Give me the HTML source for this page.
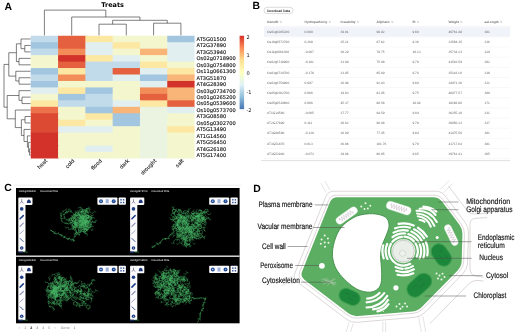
<!DOCTYPE html>
<html><head><meta charset="utf-8"><title>Figure</title>
<style>html,body{margin:0;padding:0;background:#fff;}body{width:520px;height:332px;overflow:hidden}svg{display:block;text-rendering:geometricPrecision}</style>
</head><body>
<svg width="520" height="332" viewBox="0 0 520 332">
<rect width="520" height="332" fill="#fff"/>
<g id="panelA">
<text x="4.5" y="10.2" font-family="Liberation Sans,sans-serif" font-weight="bold" font-size="10.4">A</text>
<text x="112.6" y="7.4" text-anchor="middle" font-family="DejaVu Sans,sans-serif" font-weight="bold" font-size="6.5">Treats</text>
<rect x="30.75" y="35.75" width="28.30" height="7.46" fill="#c2dbea"/>
<rect x="58.05" y="35.75" width="28.30" height="7.46" fill="#e4603e"/>
<rect x="85.35" y="35.75" width="28.30" height="7.46" fill="#fce8a3"/>
<rect x="112.65" y="35.75" width="28.30" height="7.46" fill="#f4f7ce"/>
<rect x="139.95" y="35.75" width="28.30" height="7.46" fill="#f4f7ce"/>
<rect x="167.25" y="35.75" width="27.30" height="7.46" fill="#a3c6e0"/>
<text x="196.6" y="40.83" font-family="DejaVu Sans,sans-serif" font-size="5.1" fill="#111" stroke="#111" stroke-width="0.12">AT5G01500</text>
<rect x="30.75" y="42.21" width="28.30" height="7.46" fill="#a3c6e0"/>
<rect x="58.05" y="42.21" width="28.30" height="7.46" fill="#e4603e"/>
<rect x="85.35" y="42.21" width="28.30" height="7.46" fill="#e1eff0"/>
<rect x="112.65" y="42.21" width="28.30" height="7.46" fill="#fce8a3"/>
<rect x="139.95" y="42.21" width="28.30" height="7.46" fill="#f4f7ce"/>
<rect x="167.25" y="42.21" width="27.30" height="7.46" fill="#e1eff0"/>
<text x="196.6" y="47.29" font-family="DejaVu Sans,sans-serif" font-size="5.1" fill="#111" stroke="#111" stroke-width="0.12">AT2G37890</text>
<rect x="30.75" y="48.67" width="28.30" height="7.46" fill="#c2dbea"/>
<rect x="58.05" y="48.67" width="28.30" height="7.46" fill="#f28d5a"/>
<rect x="85.35" y="48.67" width="28.30" height="7.46" fill="#e1eff0"/>
<rect x="112.65" y="48.67" width="28.30" height="7.46" fill="#f4f7ce"/>
<rect x="139.95" y="48.67" width="28.30" height="7.46" fill="#f9b478"/>
<rect x="167.25" y="48.67" width="27.30" height="7.46" fill="#e1eff0"/>
<text x="196.6" y="53.75" font-family="DejaVu Sans,sans-serif" font-size="5.1" fill="#111" stroke="#111" stroke-width="0.12">AT3G53940</text>
<rect x="30.75" y="55.13" width="28.30" height="7.46" fill="#f4f7ce"/>
<rect x="58.05" y="55.13" width="28.30" height="7.46" fill="#d2322a"/>
<rect x="85.35" y="55.13" width="28.30" height="7.46" fill="#fce8a3"/>
<rect x="112.65" y="55.13" width="28.30" height="7.46" fill="#e1eff0"/>
<rect x="139.95" y="55.13" width="28.30" height="7.46" fill="#f4f7ce"/>
<rect x="167.25" y="55.13" width="27.30" height="7.46" fill="#e1eff0"/>
<text x="196.6" y="60.21" font-family="DejaVu Sans,sans-serif" font-size="5.1" fill="#111" stroke="#111" stroke-width="0.12">Os02g0718900</text>
<rect x="30.75" y="61.59" width="28.30" height="7.46" fill="#f4f7ce"/>
<rect x="58.05" y="61.59" width="28.30" height="7.46" fill="#e4603e"/>
<rect x="85.35" y="61.59" width="28.30" height="7.46" fill="#c2dbea"/>
<rect x="112.65" y="61.59" width="28.30" height="7.46" fill="#c2dbea"/>
<rect x="139.95" y="61.59" width="28.30" height="7.46" fill="#fce8a3"/>
<rect x="167.25" y="61.59" width="27.30" height="7.46" fill="#f4f7ce"/>
<text x="196.6" y="66.67" font-family="DejaVu Sans,sans-serif" font-size="5.1" fill="#111" stroke="#111" stroke-width="0.12">Os03g0754800</text>
<rect x="30.75" y="68.05" width="28.30" height="7.46" fill="#a3c6e0"/>
<rect x="58.05" y="68.05" width="28.30" height="7.46" fill="#fce8a3"/>
<rect x="85.35" y="68.05" width="28.30" height="7.46" fill="#c2dbea"/>
<rect x="112.65" y="68.05" width="28.30" height="7.46" fill="#e4603e"/>
<rect x="139.95" y="68.05" width="28.30" height="7.46" fill="#e1eff0"/>
<rect x="167.25" y="68.05" width="27.30" height="7.46" fill="#fce8a3"/>
<text x="196.6" y="73.13" font-family="DejaVu Sans,sans-serif" font-size="5.1" fill="#111" stroke="#111" stroke-width="0.12">Os11g0661300</text>
<rect x="30.75" y="74.51" width="28.30" height="7.46" fill="#c2dbea"/>
<rect x="58.05" y="74.51" width="28.30" height="7.46" fill="#f28d5a"/>
<rect x="85.35" y="74.51" width="28.30" height="7.46" fill="#c2dbea"/>
<rect x="112.65" y="74.51" width="28.30" height="7.46" fill="#e1eff0"/>
<rect x="139.95" y="74.51" width="28.30" height="7.46" fill="#a3c6e0"/>
<rect x="167.25" y="74.51" width="27.30" height="7.46" fill="#f9b478"/>
<text x="196.6" y="79.59" font-family="DejaVu Sans,sans-serif" font-size="5.1" fill="#111" stroke="#111" stroke-width="0.12">AT3G51870</text>
<rect x="30.75" y="80.97" width="28.30" height="7.46" fill="#a3c6e0"/>
<rect x="58.05" y="80.97" width="28.30" height="7.46" fill="#f4f7ce"/>
<rect x="85.35" y="80.97" width="28.30" height="7.46" fill="#f4f7ce"/>
<rect x="112.65" y="80.97" width="28.30" height="7.46" fill="#f4f7ce"/>
<rect x="139.95" y="80.97" width="28.30" height="7.46" fill="#e1eff0"/>
<rect x="167.25" y="80.97" width="27.30" height="7.46" fill="#d2322a"/>
<text x="196.6" y="86.05" font-family="DejaVu Sans,sans-serif" font-size="5.1" fill="#111" stroke="#111" stroke-width="0.12">AT4G28390</text>
<rect x="30.75" y="87.43" width="28.30" height="7.46" fill="#e1eff0"/>
<rect x="58.05" y="87.43" width="28.30" height="7.46" fill="#fce8a3"/>
<rect x="85.35" y="87.43" width="28.30" height="7.46" fill="#a3c6e0"/>
<rect x="112.65" y="87.43" width="28.30" height="7.46" fill="#f4f7ce"/>
<rect x="139.95" y="87.43" width="28.30" height="7.46" fill="#f28d5a"/>
<rect x="167.25" y="87.43" width="27.30" height="7.46" fill="#f9b478"/>
<text x="196.6" y="92.51" font-family="DejaVu Sans,sans-serif" font-size="5.1" fill="#111" stroke="#111" stroke-width="0.12">Os03g0734700</text>
<rect x="30.75" y="93.89" width="28.30" height="7.46" fill="#f4f7ce"/>
<rect x="58.05" y="93.89" width="28.30" height="7.46" fill="#a3c6e0"/>
<rect x="85.35" y="93.89" width="28.30" height="7.46" fill="#c2dbea"/>
<rect x="112.65" y="93.89" width="28.30" height="7.46" fill="#f4f7ce"/>
<rect x="139.95" y="93.89" width="28.30" height="7.46" fill="#e4603e"/>
<rect x="167.25" y="93.89" width="27.30" height="7.46" fill="#f9b478"/>
<text x="196.6" y="98.97" font-family="DejaVu Sans,sans-serif" font-size="5.1" fill="#111" stroke="#111" stroke-width="0.12">Os01g0265200</text>
<rect x="30.75" y="100.35" width="28.30" height="7.46" fill="#fce8a3"/>
<rect x="58.05" y="100.35" width="28.30" height="7.46" fill="#c2dbea"/>
<rect x="85.35" y="100.35" width="28.30" height="7.46" fill="#c2dbea"/>
<rect x="112.65" y="100.35" width="28.30" height="7.46" fill="#e1eff0"/>
<rect x="139.95" y="100.35" width="28.30" height="7.46" fill="#fce8a3"/>
<rect x="167.25" y="100.35" width="27.30" height="7.46" fill="#e4603e"/>
<text x="196.6" y="105.43" font-family="DejaVu Sans,sans-serif" font-size="5.1" fill="#111" stroke="#111" stroke-width="0.12">Os05g0539600</text>
<rect x="30.75" y="106.81" width="28.30" height="7.46" fill="#ec7049"/>
<rect x="58.05" y="106.81" width="28.30" height="7.46" fill="#f4f7ce"/>
<rect x="85.35" y="106.81" width="28.30" height="7.46" fill="#a3c6e0"/>
<rect x="112.65" y="106.81" width="28.30" height="7.46" fill="#f9b478"/>
<rect x="139.95" y="106.81" width="28.30" height="7.46" fill="#ebf4e0"/>
<rect x="167.25" y="106.81" width="27.30" height="7.46" fill="#e1eff0"/>
<text x="196.6" y="111.89" font-family="DejaVu Sans,sans-serif" font-size="5.1" fill="#111" stroke="#111" stroke-width="0.12">Os10g0573700</text>
<rect x="30.75" y="113.27" width="28.30" height="7.46" fill="#dc4a33"/>
<rect x="58.05" y="113.27" width="28.30" height="7.46" fill="#f4f7ce"/>
<rect x="85.35" y="113.27" width="28.30" height="7.46" fill="#fce8a3"/>
<rect x="112.65" y="113.27" width="28.30" height="7.46" fill="#a3c6e0"/>
<rect x="139.95" y="113.27" width="28.30" height="7.46" fill="#ebf4e0"/>
<rect x="167.25" y="113.27" width="27.30" height="7.46" fill="#f4f7ce"/>
<text x="196.6" y="118.35" font-family="DejaVu Sans,sans-serif" font-size="5.1" fill="#111" stroke="#111" stroke-width="0.12">AT3G08580</text>
<rect x="30.75" y="119.73" width="28.30" height="7.46" fill="#dc4a33"/>
<rect x="58.05" y="119.73" width="28.30" height="7.46" fill="#fce8a3"/>
<rect x="85.35" y="119.73" width="28.30" height="7.46" fill="#f4f7ce"/>
<rect x="112.65" y="119.73" width="28.30" height="7.46" fill="#a3c6e0"/>
<rect x="139.95" y="119.73" width="28.30" height="7.46" fill="#ebf4e0"/>
<rect x="167.25" y="119.73" width="27.30" height="7.46" fill="#f4f7ce"/>
<text x="196.6" y="124.81" font-family="DejaVu Sans,sans-serif" font-size="5.1" fill="#111" stroke="#111" stroke-width="0.12">Os05g0302700</text>
<rect x="30.75" y="126.19" width="28.30" height="7.46" fill="#dc4a33"/>
<rect x="58.05" y="126.19" width="28.30" height="7.46" fill="#e1eff0"/>
<rect x="85.35" y="126.19" width="28.30" height="7.46" fill="#e1eff0"/>
<rect x="112.65" y="126.19" width="28.30" height="7.46" fill="#f4f7ce"/>
<rect x="139.95" y="126.19" width="28.30" height="7.46" fill="#ebf4e0"/>
<rect x="167.25" y="126.19" width="27.30" height="7.46" fill="#fce8a3"/>
<text x="196.6" y="131.27" font-family="DejaVu Sans,sans-serif" font-size="5.1" fill="#111" stroke="#111" stroke-width="0.12">AT5G13490</text>
<rect x="30.75" y="132.65" width="28.30" height="7.46" fill="#d2322a"/>
<rect x="58.05" y="132.65" width="28.30" height="7.46" fill="#f4f7ce"/>
<rect x="85.35" y="132.65" width="28.30" height="7.46" fill="#f4f7ce"/>
<rect x="112.65" y="132.65" width="28.30" height="7.46" fill="#f4f7ce"/>
<rect x="139.95" y="132.65" width="28.30" height="7.46" fill="#ebf4e0"/>
<rect x="167.25" y="132.65" width="27.30" height="7.46" fill="#f4f7ce"/>
<text x="196.6" y="137.73" font-family="DejaVu Sans,sans-serif" font-size="5.1" fill="#111" stroke="#111" stroke-width="0.12">AT1G14560</text>
<rect x="30.75" y="139.11" width="28.30" height="7.46" fill="#d2322a"/>
<rect x="58.05" y="139.11" width="28.30" height="7.46" fill="#f4f7ce"/>
<rect x="85.35" y="139.11" width="28.30" height="7.46" fill="#f4f7ce"/>
<rect x="112.65" y="139.11" width="28.30" height="7.46" fill="#f4f7ce"/>
<rect x="139.95" y="139.11" width="28.30" height="7.46" fill="#ebf4e0"/>
<rect x="167.25" y="139.11" width="27.30" height="7.46" fill="#f4f7ce"/>
<text x="196.6" y="144.19" font-family="DejaVu Sans,sans-serif" font-size="5.1" fill="#111" stroke="#111" stroke-width="0.12">AT5G56450</text>
<rect x="30.75" y="145.57" width="28.30" height="7.46" fill="#d2322a"/>
<rect x="58.05" y="145.57" width="28.30" height="7.46" fill="#f4f7ce"/>
<rect x="85.35" y="145.57" width="28.30" height="7.46" fill="#e1eff0"/>
<rect x="112.65" y="145.57" width="28.30" height="7.46" fill="#f4f7ce"/>
<rect x="139.95" y="145.57" width="28.30" height="7.46" fill="#ebf4e0"/>
<rect x="167.25" y="145.57" width="27.30" height="7.46" fill="#f4f7ce"/>
<text x="196.6" y="150.65" font-family="DejaVu Sans,sans-serif" font-size="5.1" fill="#111" stroke="#111" stroke-width="0.12">AT4G26180</text>
<rect x="30.75" y="152.03" width="28.30" height="6.46" fill="#d2322a"/>
<rect x="58.05" y="152.03" width="28.30" height="6.46" fill="#f4f7ce"/>
<rect x="85.35" y="152.03" width="28.30" height="6.46" fill="#f4f7ce"/>
<rect x="112.65" y="152.03" width="28.30" height="6.46" fill="#f4f7ce"/>
<rect x="139.95" y="152.03" width="28.30" height="6.46" fill="#ebf4e0"/>
<rect x="167.25" y="152.03" width="27.30" height="6.46" fill="#f4f7ce"/>
<text x="196.6" y="157.11" font-family="DejaVu Sans,sans-serif" font-size="5.1" fill="#111" stroke="#111" stroke-width="0.12">AT5G17400</text>
<text transform="translate(47.60,161.2) rotate(-45)" text-anchor="end" font-family="DejaVu Sans,sans-serif" font-size="5.1" fill="#111" stroke="#111" stroke-width="0.1">heat</text>
<text transform="translate(74.90,161.2) rotate(-45)" text-anchor="end" font-family="DejaVu Sans,sans-serif" font-size="5.1" fill="#111" stroke="#111" stroke-width="0.1">cold</text>
<text transform="translate(102.20,161.2) rotate(-45)" text-anchor="end" font-family="DejaVu Sans,sans-serif" font-size="5.1" fill="#111" stroke="#111" stroke-width="0.1">flood</text>
<text transform="translate(129.50,161.2) rotate(-45)" text-anchor="end" font-family="DejaVu Sans,sans-serif" font-size="5.1" fill="#111" stroke="#111" stroke-width="0.1">dark</text>
<text transform="translate(156.80,161.2) rotate(-45)" text-anchor="end" font-family="DejaVu Sans,sans-serif" font-size="5.1" fill="#111" stroke="#111" stroke-width="0.1">drought</text>
<text transform="translate(184.10,161.2) rotate(-45)" text-anchor="end" font-family="DejaVu Sans,sans-serif" font-size="5.1" fill="#111" stroke="#111" stroke-width="0.1">salt</text>
<path d="M99.00,35.40V24.20H126.30V35.40M153.60,35.40V23.20H180.90V35.40M112.65,24.20V20.30H167.25V23.20M71.70,35.40V17.00H139.95V20.30M44.40,35.40V10.10H105.82V17.00M30.60,45.44H24.80V51.90H30.60M30.60,38.98H21.00V48.67H24.80M30.60,58.36H19.00V64.82H30.60M21.00,43.83H16.40V61.59H19.00M30.60,77.74H19.00V84.20H30.60M30.60,71.28H15.80V80.97H19.00M16.40,52.71H8.80V76.12H15.80M30.60,97.12H22.00V103.58H30.60M30.60,90.66H19.00V100.35H22.00M30.60,148.80H29.60V155.26H30.60M30.60,142.34H28.60V152.03H29.60M30.60,135.88H27.40V147.19H28.60M30.60,129.42H24.00V141.53H27.40M30.60,116.50H25.00V122.96H30.60M25.00,119.73H21.40V135.48H24.00M30.60,110.04H15.30V127.60H21.40M19.00,95.50H7.20V118.82H15.30M8.80,64.42H4.00V107.16H7.20" fill="none" stroke="#2a2a2a" stroke-width="0.6"/>
<defs><linearGradient id="cb" x1="0" y1="0" x2="0" y2="1"><stop offset="0" stop-color="#d73027"/><stop offset="0.167" stop-color="#fc8d59"/><stop offset="0.333" stop-color="#fee090"/><stop offset="0.5" stop-color="#ffffbf"/><stop offset="0.667" stop-color="#e0f3f8"/><stop offset="0.833" stop-color="#91bfdb"/><stop offset="1" stop-color="#4575b4"/></linearGradient></defs>
<rect x="239.6" y="35.75" width="4.5" height="73.4" fill="url(#cb)"/>
<text x="246.4" y="38.7" font-family="DejaVu Sans,sans-serif" font-size="5" fill="#111">2</text>
<text x="246.4" y="56.9" font-family="DejaVu Sans,sans-serif" font-size="5" fill="#111">1</text>
<text x="246.4" y="75.2" font-family="DejaVu Sans,sans-serif" font-size="5" fill="#111">0</text>
<text x="246.4" y="93.5" font-family="DejaVu Sans,sans-serif" font-size="5" fill="#111">-1</text>
<text x="246.4" y="111.6" font-family="DejaVu Sans,sans-serif" font-size="5" fill="#111">-2</text>
</g>
<g id="panelB">
<text x="252.6" y="8.7" font-family="Liberation Sans,sans-serif" font-weight="bold" font-size="10.4">B</text>
<rect x="264" y="7.3" width="29" height="6.3" rx="3.15" fill="#fff" stroke="#bdbdbd" stroke-width="0.55"/>
<text x="278.5" y="11.6" text-anchor="middle" font-family="Liberation Sans,sans-serif" font-size="3.4" fill="#2a2a2a" stroke="#2a2a2a" stroke-width="0.08">Download Data</text>
<rect x="264" y="27.23" width="246" height="9.35" fill="#f0f3f9"/>
<text x="267" y="22.5" font-family="Liberation Sans,sans-serif" font-size="3.25" font-weight="bold" fill="#777">GeneID <tspan fill="#bbb" font-weight="normal">⇅</tspan></text>
<text x="304.6" y="22.5" font-family="Liberation Sans,sans-serif" font-size="3.25" font-weight="bold" fill="#777">Hydropathicity <tspan fill="#bbb" font-weight="normal">⇅</tspan></text>
<text x="340.5" y="22.5" font-family="Liberation Sans,sans-serif" font-size="3.25" font-weight="bold" fill="#777">Instability <tspan fill="#bbb" font-weight="normal">⇅</tspan></text>
<text x="376.4" y="22.5" font-family="Liberation Sans,sans-serif" font-size="3.25" font-weight="bold" fill="#777">Aliphatic <tspan fill="#bbb" font-weight="normal">⇅</tspan></text>
<text x="412.4" y="22.5" font-family="Liberation Sans,sans-serif" font-size="3.25" font-weight="bold" fill="#777">PI <tspan fill="#bbb" font-weight="normal">⇅</tspan></text>
<text x="448.4" y="22.5" font-family="Liberation Sans,sans-serif" font-size="3.25" font-weight="bold" fill="#777">Weight <tspan fill="#bbb" font-weight="normal">⇅</tspan></text>
<text x="484.4" y="22.5" font-family="Liberation Sans,sans-serif" font-size="3.25" font-weight="bold" fill="#777">aaLength <tspan fill="#bbb" font-weight="normal">⇅</tspan></text>
<line x1="264" x2="510" y1="26.4" y2="26.4" stroke="#ececec" stroke-width="0.5"/>
<text x="267" y="32.95" font-family="Liberation Sans,sans-serif" font-size="3.25" fill="#6a6a6a">Os01g0265200</text>
<text x="304.6" y="32.95" font-family="Liberation Sans,sans-serif" font-size="3.25" fill="#6a6a6a">0.000</text>
<text x="340.5" y="32.95" font-family="Liberation Sans,sans-serif" font-size="3.25" fill="#6a6a6a">39.81</text>
<text x="376.4" y="32.95" font-family="Liberation Sans,sans-serif" font-size="3.25" fill="#6a6a6a">90.92</text>
<text x="412.4" y="32.95" font-family="Liberation Sans,sans-serif" font-size="3.25" fill="#6a6a6a">9.60</text>
<text x="448.4" y="32.95" font-family="Liberation Sans,sans-serif" font-size="3.25" fill="#6a6a6a">40761.48</text>
<text x="484.4" y="32.95" font-family="Liberation Sans,sans-serif" font-size="3.25" fill="#6a6a6a">381</text>
<line x1="264" x2="510" y1="36.88" y2="36.88" stroke="#f0f0f0" stroke-width="0.5"/>
<text x="267" y="43.10" font-family="Liberation Sans,sans-serif" font-size="3.25" fill="#6a6a6a">Os10g0573700</text>
<text x="304.6" y="43.10" font-family="Liberation Sans,sans-serif" font-size="3.25" fill="#6a6a6a">0.268</text>
<text x="340.5" y="43.10" font-family="Liberation Sans,sans-serif" font-size="3.25" fill="#6a6a6a">35.21</text>
<text x="376.4" y="43.10" font-family="Liberation Sans,sans-serif" font-size="3.25" fill="#6a6a6a">87.82</text>
<text x="412.4" y="43.10" font-family="Liberation Sans,sans-serif" font-size="3.25" fill="#6a6a6a">9.36</text>
<text x="448.4" y="43.10" font-family="Liberation Sans,sans-serif" font-size="3.25" fill="#6a6a6a">31584.35</text>
<text x="484.4" y="43.10" font-family="Liberation Sans,sans-serif" font-size="3.25" fill="#6a6a6a">316</text>
<line x1="264" x2="510" y1="47.03" y2="47.03" stroke="#f0f0f0" stroke-width="0.5"/>
<text x="267" y="53.25" font-family="Liberation Sans,sans-serif" font-size="3.25" fill="#6a6a6a">Os11g0661300</text>
<text x="304.6" y="53.25" font-family="Liberation Sans,sans-serif" font-size="3.25" fill="#6a6a6a">-0.067</text>
<text x="340.5" y="53.25" font-family="Liberation Sans,sans-serif" font-size="3.25" fill="#6a6a6a">30.29</text>
<text x="376.4" y="53.25" font-family="Liberation Sans,sans-serif" font-size="3.25" fill="#6a6a6a">78.75</text>
<text x="412.4" y="53.25" font-family="Liberation Sans,sans-serif" font-size="3.25" fill="#6a6a6a">10.13</text>
<text x="448.4" y="53.25" font-family="Liberation Sans,sans-serif" font-size="3.25" fill="#6a6a6a">35734.23</text>
<text x="484.4" y="53.25" font-family="Liberation Sans,sans-serif" font-size="3.25" fill="#6a6a6a">329</text>
<line x1="264" x2="510" y1="57.18" y2="57.18" stroke="#f0f0f0" stroke-width="0.5"/>
<text x="267" y="63.40" font-family="Liberation Sans,sans-serif" font-size="3.25" fill="#6a6a6a">Os02g0718900</text>
<text x="304.6" y="63.40" font-family="Liberation Sans,sans-serif" font-size="3.25" fill="#6a6a6a">-0.101</text>
<text x="340.5" y="63.40" font-family="Liberation Sans,sans-serif" font-size="3.25" fill="#6a6a6a">31.09</text>
<text x="376.4" y="63.40" font-family="Liberation Sans,sans-serif" font-size="3.25" fill="#6a6a6a">75.08</text>
<text x="412.4" y="63.40" font-family="Liberation Sans,sans-serif" font-size="3.25" fill="#6a6a6a">9.79</text>
<text x="448.4" y="63.40" font-family="Liberation Sans,sans-serif" font-size="3.25" fill="#6a6a6a">41510.59</text>
<text x="484.4" y="63.40" font-family="Liberation Sans,sans-serif" font-size="3.25" fill="#6a6a6a">382</text>
<line x1="264" x2="510" y1="67.33" y2="67.33" stroke="#f0f0f0" stroke-width="0.5"/>
<text x="267" y="73.55" font-family="Liberation Sans,sans-serif" font-size="3.25" fill="#6a6a6a">Os03g0734700</text>
<text x="304.6" y="73.55" font-family="Liberation Sans,sans-serif" font-size="3.25" fill="#6a6a6a">-0.178</text>
<text x="340.5" y="73.55" font-family="Liberation Sans,sans-serif" font-size="3.25" fill="#6a6a6a">33.85</text>
<text x="376.4" y="73.55" font-family="Liberation Sans,sans-serif" font-size="3.25" fill="#6a6a6a">85.69</text>
<text x="412.4" y="73.55" font-family="Liberation Sans,sans-serif" font-size="3.25" fill="#6a6a6a">9.74</text>
<text x="448.4" y="73.55" font-family="Liberation Sans,sans-serif" font-size="3.25" fill="#6a6a6a">35116.10</text>
<text x="484.4" y="73.55" font-family="Liberation Sans,sans-serif" font-size="3.25" fill="#6a6a6a">318</text>
<line x1="264" x2="510" y1="77.48" y2="77.48" stroke="#f0f0f0" stroke-width="0.5"/>
<text x="267" y="83.70" font-family="Liberation Sans,sans-serif" font-size="3.25" fill="#6a6a6a">Os03g0754800</text>
<text x="304.6" y="83.70" font-family="Liberation Sans,sans-serif" font-size="3.25" fill="#6a6a6a">0.097</text>
<text x="340.5" y="83.70" font-family="Liberation Sans,sans-serif" font-size="3.25" fill="#6a6a6a">26.96</text>
<text x="376.4" y="83.70" font-family="Liberation Sans,sans-serif" font-size="3.25" fill="#6a6a6a">92.93</text>
<text x="412.4" y="83.70" font-family="Liberation Sans,sans-serif" font-size="3.25" fill="#6a6a6a">9.69</text>
<text x="448.4" y="83.70" font-family="Liberation Sans,sans-serif" font-size="3.25" fill="#6a6a6a">34971.36</text>
<text x="484.4" y="83.70" font-family="Liberation Sans,sans-serif" font-size="3.25" fill="#6a6a6a">321</text>
<line x1="264" x2="510" y1="87.62" y2="87.62" stroke="#f0f0f0" stroke-width="0.5"/>
<text x="267" y="93.85" font-family="Liberation Sans,sans-serif" font-size="3.25" fill="#6a6a6a">Os05g0302700</text>
<text x="304.6" y="93.85" font-family="Liberation Sans,sans-serif" font-size="3.25" fill="#6a6a6a">0.006</text>
<text x="340.5" y="93.85" font-family="Liberation Sans,sans-serif" font-size="3.25" fill="#6a6a6a">19.83</text>
<text x="376.4" y="93.85" font-family="Liberation Sans,sans-serif" font-size="3.25" fill="#6a6a6a">81.95</text>
<text x="412.4" y="93.85" font-family="Liberation Sans,sans-serif" font-size="3.25" fill="#6a6a6a">9.75</text>
<text x="448.4" y="93.85" font-family="Liberation Sans,sans-serif" font-size="3.25" fill="#6a6a6a">40977.57</text>
<text x="484.4" y="93.85" font-family="Liberation Sans,sans-serif" font-size="3.25" fill="#6a6a6a">380</text>
<line x1="264" x2="510" y1="97.78" y2="97.78" stroke="#f0f0f0" stroke-width="0.5"/>
<text x="267" y="104.00" font-family="Liberation Sans,sans-serif" font-size="3.25" fill="#6a6a6a">Os05g0539600</text>
<text x="304.6" y="104.00" font-family="Liberation Sans,sans-serif" font-size="3.25" fill="#6a6a6a">0.006</text>
<text x="340.5" y="104.00" font-family="Liberation Sans,sans-serif" font-size="3.25" fill="#6a6a6a">45.37</text>
<text x="376.4" y="104.00" font-family="Liberation Sans,sans-serif" font-size="3.25" fill="#6a6a6a">80.58</text>
<text x="412.4" y="104.00" font-family="Liberation Sans,sans-serif" font-size="3.25" fill="#6a6a6a">10.04</text>
<text x="448.4" y="104.00" font-family="Liberation Sans,sans-serif" font-size="3.25" fill="#6a6a6a">18166.86</text>
<text x="484.4" y="104.00" font-family="Liberation Sans,sans-serif" font-size="3.25" fill="#6a6a6a">171</text>
<line x1="264" x2="510" y1="107.92" y2="107.92" stroke="#f0f0f0" stroke-width="0.5"/>
<text x="267" y="114.15" font-family="Liberation Sans,sans-serif" font-size="3.25" fill="#6a6a6a">AT1G14560</text>
<text x="304.6" y="114.15" font-family="Liberation Sans,sans-serif" font-size="3.25" fill="#6a6a6a">-0.065</text>
<text x="340.5" y="114.15" font-family="Liberation Sans,sans-serif" font-size="3.25" fill="#6a6a6a">37.77</text>
<text x="376.4" y="114.15" font-family="Liberation Sans,sans-serif" font-size="3.25" fill="#6a6a6a">94.59</text>
<text x="412.4" y="114.15" font-family="Liberation Sans,sans-serif" font-size="3.25" fill="#6a6a6a">9.69</text>
<text x="448.4" y="114.15" font-family="Liberation Sans,sans-serif" font-size="3.25" fill="#6a6a6a">36255.10</text>
<text x="484.4" y="114.15" font-family="Liberation Sans,sans-serif" font-size="3.25" fill="#6a6a6a">331</text>
<line x1="264" x2="510" y1="118.08" y2="118.08" stroke="#f0f0f0" stroke-width="0.5"/>
<text x="267" y="124.30" font-family="Liberation Sans,sans-serif" font-size="3.25" fill="#6a6a6a">AT2G37890</text>
<text x="304.6" y="124.30" font-family="Liberation Sans,sans-serif" font-size="3.25" fill="#6a6a6a">0.111</text>
<text x="340.5" y="124.30" font-family="Liberation Sans,sans-serif" font-size="3.25" fill="#6a6a6a">30.62</text>
<text x="376.4" y="124.30" font-family="Liberation Sans,sans-serif" font-size="3.25" fill="#6a6a6a">96.08</text>
<text x="412.4" y="124.30" font-family="Liberation Sans,sans-serif" font-size="3.25" fill="#6a6a6a">9.78</text>
<text x="448.4" y="124.30" font-family="Liberation Sans,sans-serif" font-size="3.25" fill="#6a6a6a">36050.13</text>
<text x="484.4" y="124.30" font-family="Liberation Sans,sans-serif" font-size="3.25" fill="#6a6a6a">337</text>
<line x1="264" x2="510" y1="128.22" y2="128.22" stroke="#f0f0f0" stroke-width="0.5"/>
<text x="267" y="134.45" font-family="Liberation Sans,sans-serif" font-size="3.25" fill="#6a6a6a">AT3G08580</text>
<text x="304.6" y="134.45" font-family="Liberation Sans,sans-serif" font-size="3.25" fill="#6a6a6a">-0.120</text>
<text x="340.5" y="134.45" font-family="Liberation Sans,sans-serif" font-size="3.25" fill="#6a6a6a">20.09</text>
<text x="376.4" y="134.45" font-family="Liberation Sans,sans-serif" font-size="3.25" fill="#6a6a6a">77.45</text>
<text x="412.4" y="134.45" font-family="Liberation Sans,sans-serif" font-size="3.25" fill="#6a6a6a">9.84</text>
<text x="448.4" y="134.45" font-family="Liberation Sans,sans-serif" font-size="3.25" fill="#6a6a6a">41475.56</text>
<text x="484.4" y="134.45" font-family="Liberation Sans,sans-serif" font-size="3.25" fill="#6a6a6a">381</text>
<line x1="264" x2="510" y1="138.38" y2="138.38" stroke="#f0f0f0" stroke-width="0.5"/>
<text x="267" y="144.60" font-family="Liberation Sans,sans-serif" font-size="3.25" fill="#6a6a6a">AT3G51870</text>
<text x="304.6" y="144.60" font-family="Liberation Sans,sans-serif" font-size="3.25" fill="#6a6a6a">0.013</text>
<text x="340.5" y="144.60" font-family="Liberation Sans,sans-serif" font-size="3.25" fill="#6a6a6a">36.86</text>
<text x="376.4" y="144.60" font-family="Liberation Sans,sans-serif" font-size="3.25" fill="#6a6a6a">101.76</text>
<text x="412.4" y="144.60" font-family="Liberation Sans,sans-serif" font-size="3.25" fill="#6a6a6a">9.70</text>
<text x="448.4" y="144.60" font-family="Liberation Sans,sans-serif" font-size="3.25" fill="#6a6a6a">41717.64</text>
<text x="484.4" y="144.60" font-family="Liberation Sans,sans-serif" font-size="3.25" fill="#6a6a6a">381</text>
<line x1="264" x2="510" y1="148.53" y2="148.53" stroke="#f0f0f0" stroke-width="0.5"/>
<text x="267" y="154.75" font-family="Liberation Sans,sans-serif" font-size="3.25" fill="#6a6a6a">AT3G53940</text>
<text x="304.6" y="154.75" font-family="Liberation Sans,sans-serif" font-size="3.25" fill="#6a6a6a">-0.073</text>
<text x="340.5" y="154.75" font-family="Liberation Sans,sans-serif" font-size="3.25" fill="#6a6a6a">39.06</text>
<text x="376.4" y="154.75" font-family="Liberation Sans,sans-serif" font-size="3.25" fill="#6a6a6a">86.85</text>
<text x="412.4" y="154.75" font-family="Liberation Sans,sans-serif" font-size="3.25" fill="#6a6a6a">9.65</text>
<text x="448.4" y="154.75" font-family="Liberation Sans,sans-serif" font-size="3.25" fill="#6a6a6a">39761.41</text>
<text x="484.4" y="154.75" font-family="Liberation Sans,sans-serif" font-size="3.25" fill="#6a6a6a">365</text>
<line x1="264" x2="510" y1="158.68" y2="158.68" stroke="#f0f0f0" stroke-width="0.5"/>
<line x1="261" x2="510" y1="160.6" y2="160.6" stroke="#dcdcdc" stroke-width="0.9"/>
</g>
<g id="panelC">
<text x="4.3" y="190.9" font-family="Liberation Sans,sans-serif" font-weight="bold" font-size="10.4">C</text>
<line x1="14" x2="241.5" y1="185.2" y2="185.2" stroke="#e4e4e4" stroke-width="0.6"/>
<rect x="16" y="188" width="223.6" height="135.3" fill="#000"/>
<rect x="16" y="255.5" width="223.6" height="1.4" fill="#e6e6e6"/>
<text x="18.7" y="191.7" font-family="Liberation Sans,sans-serif" font-size="2.6" textLength="17.3" lengthAdjust="spacingAndGlyphs" fill="#f4f4f4">Os01g0265200</text>
<text x="40.2" y="191.7" font-family="Liberation Sans,sans-serif" font-size="2.6" textLength="17.7" lengthAdjust="spacingAndGlyphs" fill="#f4f4f4">Download PDB</text>
<path d="M19.1,197.4H31.700000000000003a0.8,0.8 0 0 1 0.8,0.8V204.1a0.8,0.8 0 0 1 -0.8,0.8H25.5V251.0a0.8,0.8 0 0 1 -0.8,0.8H19.1a0.8,0.8 0 0 1 -0.8,-0.8V198.20000000000002a0.8,0.8 0 0 1 0.8,-0.8Z" fill="#fcfcfe"/>
<path d="M21.7,199.20000000000002V201.70000000000002M21.7,201.5L20.099999999999998,203.4M21.7,201.5L23.3,203.4" stroke="#4a4a6a" stroke-width="0.6" fill="none"/>
<path d="M26.9,203.0q0,-3.6 2,-3.6q2,0 2,3.6z" fill="#223a78"/>
<circle cx="21.7" cy="208.9" r="1.8" fill="#1f3f86"/>
<path d="M20.099999999999998,218.8L23.3,215.60000000000002" stroke="#1f3f86" stroke-width="1.5" stroke-linecap="round"/>
<path d="M20.099999999999998,226.4L23.3,223.20000000000002" stroke="#8a90b8" stroke-width="1.2" stroke-linecap="round"/>
<path d="M20.099999999999998,233.70000000000002L23.3,230.50000000000003" stroke="#a0a6c8" stroke-width="1.0" stroke-linecap="round"/>
<path d="M20.2,238.5L23.2,241.5" stroke="#1f3f86" stroke-width="0.9" stroke-linecap="round"/>
<circle cx="21.7" cy="248.0" r="1.8" fill="#1f3f86"/>
<circle cx="21.7" cy="248.0" r="0.5" fill="#fff"/>
<rect x="97.4" y="197.5" width="20" height="7.3" rx="0.8" fill="#fcfcfe"/>
<circle cx="101.0" cy="201.15" r="2.0" fill="#1f4a96"/><circle cx="101.0" cy="201.15" r="0.6" fill="#fff"/>
<rect x="105.7" y="199.2" width="3" height="4" fill="#9fb0d8"/>
<circle cx="113.7" cy="201.15" r="2.0" fill="#1f4a96"/><circle cx="113.9" cy="200.9" r="0.5" fill="#dfe6f5"/>
<rect x="118.7" y="197.5" width="7.2" height="7.3" rx="0.8" fill="#fcfcfe"/>
<rect x="120.3" y="199.1" width="1.4" height="1.4" fill="#2a4c96"/>
<rect x="122.9" y="199.1" width="1.4" height="1.4" fill="#2a4c96"/>
<rect x="120.3" y="201.8" width="1.4" height="1.4" fill="#2a4c96"/>
<rect x="122.9" y="201.8" width="1.4" height="1.4" fill="#2a4c96"/>
<text x="23.5" y="253.2" font-family="Liberation Sans,sans-serif" font-size="2.6" fill="#2fa04a">Mol</text>
<rect x="18.6" y="251.5" width="4.4" height="1.6" fill="#16285a"/>
<text x="130.0" y="191.7" font-family="Liberation Sans,sans-serif" font-size="2.6" textLength="17.3" lengthAdjust="spacingAndGlyphs" fill="#f4f4f4">Os10g0573700</text>
<text x="151.5" y="191.7" font-family="Liberation Sans,sans-serif" font-size="2.6" textLength="17.7" lengthAdjust="spacingAndGlyphs" fill="#f4f4f4">Download PDB</text>
<path d="M130.9,197.4H143.5a0.8,0.8 0 0 1 0.8,0.8V204.1a0.8,0.8 0 0 1 -0.8,0.8H137.29999999999998V251.0a0.8,0.8 0 0 1 -0.8,0.8H130.9a0.8,0.8 0 0 1 -0.8,-0.8V198.20000000000002a0.8,0.8 0 0 1 0.8,-0.8Z" fill="#fcfcfe"/>
<path d="M133.5,199.20000000000002V201.70000000000002M133.5,201.5L131.9,203.4M133.5,201.5L135.1,203.4" stroke="#4a4a6a" stroke-width="0.6" fill="none"/>
<path d="M138.7,203.0q0,-3.6 2,-3.6q2,0 2,3.6z" fill="#223a78"/>
<circle cx="133.5" cy="208.9" r="1.8" fill="#1f3f86"/>
<path d="M131.9,218.8L135.1,215.60000000000002" stroke="#1f3f86" stroke-width="1.5" stroke-linecap="round"/>
<path d="M131.9,226.4L135.1,223.20000000000002" stroke="#8a90b8" stroke-width="1.2" stroke-linecap="round"/>
<path d="M131.9,233.70000000000002L135.1,230.50000000000003" stroke="#a0a6c8" stroke-width="1.0" stroke-linecap="round"/>
<path d="M132.0,238.5L135.0,241.5" stroke="#1f3f86" stroke-width="0.9" stroke-linecap="round"/>
<circle cx="133.5" cy="248.0" r="1.8" fill="#1f3f86"/>
<circle cx="133.5" cy="248.0" r="0.5" fill="#fff"/>
<rect x="209.2" y="197.5" width="20" height="7.3" rx="0.8" fill="#fcfcfe"/>
<circle cx="212.79999999999998" cy="201.15" r="2.0" fill="#1f4a96"/><circle cx="212.79999999999998" cy="201.15" r="0.6" fill="#fff"/>
<rect x="217.5" y="199.2" width="3" height="4" fill="#9fb0d8"/>
<circle cx="225.5" cy="201.15" r="2.0" fill="#1f4a96"/><circle cx="225.7" cy="200.9" r="0.5" fill="#dfe6f5"/>
<rect x="230.5" y="197.5" width="7.2" height="7.3" rx="0.8" fill="#fcfcfe"/>
<rect x="232.1" y="199.1" width="1.4" height="1.4" fill="#2a4c96"/>
<rect x="234.7" y="199.1" width="1.4" height="1.4" fill="#2a4c96"/>
<rect x="232.1" y="201.8" width="1.4" height="1.4" fill="#2a4c96"/>
<rect x="234.7" y="201.8" width="1.4" height="1.4" fill="#2a4c96"/>
<text x="134.8" y="253.2" font-family="Liberation Sans,sans-serif" font-size="2.6" fill="#2fa04a">Mol</text>
<rect x="129.9" y="251.5" width="4.4" height="1.6" fill="#16285a"/>
<text x="18.7" y="260.8" font-family="Liberation Sans,sans-serif" font-size="2.6" textLength="17.3" lengthAdjust="spacingAndGlyphs" fill="#f4f4f4">Os11g0661300</text>
<text x="40.2" y="260.8" font-family="Liberation Sans,sans-serif" font-size="2.6" textLength="17.7" lengthAdjust="spacingAndGlyphs" fill="#f4f4f4">Download PDB</text>
<path d="M19.1,265.70000000000005H31.700000000000003a0.8,0.8 0 0 1 0.8,0.8V272.40000000000003a0.8,0.8 0 0 1 -0.8,0.8H25.5V319.30000000000007a0.8,0.8 0 0 1 -0.8,0.8H19.1a0.8,0.8 0 0 1 -0.8,-0.8V266.50000000000006a0.8,0.8 0 0 1 0.8,-0.8Z" fill="#fcfcfe"/>
<path d="M21.7,267.50000000000006V270.00000000000006M21.7,269.80000000000007L20.099999999999998,271.70000000000005M21.7,269.80000000000007L23.3,271.70000000000005" stroke="#4a4a6a" stroke-width="0.6" fill="none"/>
<path d="M26.9,271.30000000000007q0,-3.6 2,-3.6q2,0 2,3.6z" fill="#223a78"/>
<circle cx="21.7" cy="277.20000000000005" r="1.8" fill="#1f3f86"/>
<path d="M20.099999999999998,287.1000000000001L23.3,283.90000000000003" stroke="#1f3f86" stroke-width="1.5" stroke-linecap="round"/>
<path d="M20.099999999999998,294.70000000000005L23.3,291.5" stroke="#8a90b8" stroke-width="1.2" stroke-linecap="round"/>
<path d="M20.099999999999998,302.00000000000006L23.3,298.8" stroke="#a0a6c8" stroke-width="1.0" stroke-linecap="round"/>
<path d="M20.2,306.80000000000007L23.2,309.80000000000007" stroke="#1f3f86" stroke-width="0.9" stroke-linecap="round"/>
<circle cx="21.7" cy="316.30000000000007" r="1.8" fill="#1f3f86"/>
<circle cx="21.7" cy="316.30000000000007" r="0.5" fill="#fff"/>
<rect x="97.4" y="265.8" width="20" height="7.3" rx="0.8" fill="#fcfcfe"/>
<circle cx="101.0" cy="269.45" r="2.0" fill="#1f4a96"/><circle cx="101.0" cy="269.45" r="0.6" fill="#fff"/>
<rect x="105.7" y="267.5" width="3" height="4" fill="#9fb0d8"/>
<circle cx="113.7" cy="269.45" r="2.0" fill="#1f4a96"/><circle cx="113.9" cy="269.2" r="0.5" fill="#dfe6f5"/>
<rect x="118.7" y="265.8" width="7.2" height="7.3" rx="0.8" fill="#fcfcfe"/>
<rect x="120.3" y="267.40000000000003" width="1.4" height="1.4" fill="#2a4c96"/>
<rect x="122.9" y="267.40000000000003" width="1.4" height="1.4" fill="#2a4c96"/>
<rect x="120.3" y="270.1" width="1.4" height="1.4" fill="#2a4c96"/>
<rect x="122.9" y="270.1" width="1.4" height="1.4" fill="#2a4c96"/>
<text x="23.5" y="321.3" font-family="Liberation Sans,sans-serif" font-size="2.6" fill="#2fa04a">Mol</text>
<rect x="18.6" y="319.6" width="4.4" height="1.6" fill="#16285a"/>
<text x="130.0" y="260.8" font-family="Liberation Sans,sans-serif" font-size="2.6" textLength="17.3" lengthAdjust="spacingAndGlyphs" fill="#f4f4f4">Os02g0718900</text>
<text x="151.5" y="260.8" font-family="Liberation Sans,sans-serif" font-size="2.6" textLength="17.7" lengthAdjust="spacingAndGlyphs" fill="#f4f4f4">Download PDB</text>
<path d="M130.9,265.70000000000005H143.5a0.8,0.8 0 0 1 0.8,0.8V272.40000000000003a0.8,0.8 0 0 1 -0.8,0.8H137.29999999999998V319.30000000000007a0.8,0.8 0 0 1 -0.8,0.8H130.9a0.8,0.8 0 0 1 -0.8,-0.8V266.50000000000006a0.8,0.8 0 0 1 0.8,-0.8Z" fill="#fcfcfe"/>
<path d="M133.5,267.50000000000006V270.00000000000006M133.5,269.80000000000007L131.9,271.70000000000005M133.5,269.80000000000007L135.1,271.70000000000005" stroke="#4a4a6a" stroke-width="0.6" fill="none"/>
<path d="M138.7,271.30000000000007q0,-3.6 2,-3.6q2,0 2,3.6z" fill="#223a78"/>
<circle cx="133.5" cy="277.20000000000005" r="1.8" fill="#1f3f86"/>
<path d="M131.9,287.1000000000001L135.1,283.90000000000003" stroke="#1f3f86" stroke-width="1.5" stroke-linecap="round"/>
<path d="M131.9,294.70000000000005L135.1,291.5" stroke="#8a90b8" stroke-width="1.2" stroke-linecap="round"/>
<path d="M131.9,302.00000000000006L135.1,298.8" stroke="#a0a6c8" stroke-width="1.0" stroke-linecap="round"/>
<path d="M132.0,306.80000000000007L135.0,309.80000000000007" stroke="#1f3f86" stroke-width="0.9" stroke-linecap="round"/>
<circle cx="133.5" cy="316.30000000000007" r="1.8" fill="#1f3f86"/>
<circle cx="133.5" cy="316.30000000000007" r="0.5" fill="#fff"/>
<rect x="209.2" y="265.8" width="20" height="7.3" rx="0.8" fill="#fcfcfe"/>
<circle cx="212.79999999999998" cy="269.45" r="2.0" fill="#1f4a96"/><circle cx="212.79999999999998" cy="269.45" r="0.6" fill="#fff"/>
<rect x="217.5" y="267.5" width="3" height="4" fill="#9fb0d8"/>
<circle cx="225.5" cy="269.45" r="2.0" fill="#1f4a96"/><circle cx="225.7" cy="269.2" r="0.5" fill="#dfe6f5"/>
<rect x="230.5" y="265.8" width="7.2" height="7.3" rx="0.8" fill="#fcfcfe"/>
<rect x="232.1" y="267.40000000000003" width="1.4" height="1.4" fill="#2a4c96"/>
<rect x="234.7" y="267.40000000000003" width="1.4" height="1.4" fill="#2a4c96"/>
<rect x="232.1" y="270.1" width="1.4" height="1.4" fill="#2a4c96"/>
<rect x="234.7" y="270.1" width="1.4" height="1.4" fill="#2a4c96"/>
<text x="134.8" y="321.3" font-family="Liberation Sans,sans-serif" font-size="2.6" fill="#2fa04a">Mol</text>
<rect x="129.9" y="319.6" width="4.4" height="1.6" fill="#16285a"/>
<path d="M86.5,225.3L85.1,223.3M85.1,223.3L83.9,223.7M85.1,223.3L83.3,222.9M83.3,222.9L82.5,223.9M83.6,223.7L82.2,222.2M82.2,222.2L79.7,222.1M79.7,222.1L79.2,223.1M90.1,225.9L88.5,225.1M88.5,225.1L86.9,226.5M86.9,226.5L85.3,225.4M79.9,209.3L80.0,211.3M80.0,211.3L78.0,212.9M78.0,212.9L76.9,212.6M78.0,212.9L76.1,212.7M76.1,212.7L75.5,213.7M76.8,219.9L77.5,217.7M77.5,217.7L78.9,217.6M87.8,208.6L87.3,211.0M87.3,211.0L85.3,211.7M85.3,211.7L85.5,213.2M85.5,213.2L84.4,213.7M85.5,213.2L84.3,214.7M81.2,231.2L79.3,232.3M79.3,232.3L79.0,233.8M79.0,233.8L79.7,234.7M79.0,233.8L79.8,234.8M87.1,224.5L88.3,223.1M88.3,223.1L90.1,223.3M83.6,222.5L84.7,224.3M84.7,224.3L85.9,224.2M84.7,224.3L83.9,225.4M83.9,225.4L82.7,225.4M83.9,225.4L82.1,224.4M72.3,222.4L70.8,222.6M70.8,222.6L69.6,220.8M87.7,226.8L85.5,226.2M85.5,226.2L84.7,227.1M85.5,226.2L85.0,223.8M78.4,229.4L78.8,231.7M78.8,231.7L80.5,232.7M80.5,232.7L81.8,231.3M81.8,231.3L83.0,231.7M84.2,226.9L84.4,228.6M84.4,228.6L86.4,229.3M86.4,229.3L87.2,228.0M84.0,215.1L83.1,216.8M83.1,216.8L84.1,217.9M84.1,217.9L85.3,217.5M84.1,217.9L83.3,219.1M83.3,219.1L81.6,218.7M81.6,208.9L83.1,210.0M83.1,210.0L84.6,209.9M84.6,209.9L85.9,211.2M85.9,211.2L85.3,212.3M90.0,228.3L91.4,230.3M91.4,230.3L92.8,229.8M92.8,229.8L92.9,228.6M75.3,220.8L75.6,219.2M75.6,219.2L74.6,218.5M75.6,219.2L73.3,218.1M76.0,218.1L73.9,218.4M73.9,218.4L73.2,216.1M73.2,216.1L74.0,215.1M73.2,216.1L71.6,215.6M84.9,210.0L86.9,208.5M86.9,208.5L89.3,208.9M89.3,208.9L89.9,207.6M88.3,229.4L86.7,230.1M86.7,230.1L85.6,229.5M86.7,230.1L84.7,229.6M84.7,229.6L83.2,230.9M83.2,230.9L83.4,232.1M83.2,230.9L84.1,232.0M84.1,232.0L85.2,231.6M79.8,221.7L81.4,220.7M81.4,220.7L82.5,221.7M82.5,221.7L83.6,221.2M82.5,221.7L83.8,221.4M83.8,221.4L84.7,222.2M73.3,223.1L72.0,225.2M72.0,225.2L72.4,226.3M72.0,225.2L73.9,226.8M73.9,226.8L75.1,226.5M73.9,226.8L73.3,228.7M73.3,228.7L72.1,228.9M73.3,228.7L74.7,230.7M74.2,216.5L74.8,218.0M74.8,218.0L73.3,219.3M73.3,219.3L71.1,218.0M71.1,218.0L69.5,218.9M69.5,218.9L69.3,220.0M81.9,217.6L80.3,219.0M80.3,219.0L80.7,220.5M80.7,220.5L79.5,221.7M79.1,231.2L78.0,232.6M78.0,232.6L76.8,232.3M78.0,232.6L78.5,234.8M78.5,234.8L79.6,235.3M79.1,215.1L81.0,216.2M81.0,216.2L80.4,218.4M80.4,218.4L78.2,218.4M78.2,218.4L77.8,217.3M74.4,215.3L75.4,213.1M75.4,213.1L74.9,211.9M89.7,222.3L91.7,222.6M91.7,222.6L92.2,221.5M91.7,222.6L92.3,221.3M92.3,221.3L94.6,221.9M94.6,221.9L95.5,221.1M76.6,220.8L75.7,218.8M75.7,218.8L74.0,218.9M79.4,220.3L77.2,220.5M77.2,220.5L76.6,218.9M80.0,228.1L81.1,228.8M81.1,228.8L80.3,230.4M80.3,230.4L80.8,231.8M80.8,231.8L79.4,232.3M84.1,230.0L85.5,228.9M85.5,228.9L86.5,229.6M85.5,228.9L86.9,229.4M86.9,229.4L87.7,230.9M87.7,230.9L86.6,231.8M79.1,224.4L77.7,225.5M77.7,225.5L76.5,224.4M76.5,224.4L76.8,223.2M77.7,219.4L78.6,221.5M78.6,221.5L80.7,221.2M80.7,221.2L80.8,219.9M85.5,216.7L84.0,216.9M84.0,216.9L82.5,215.2M82.5,215.2L83.0,213.6M90.7,224.3L88.7,224.3M88.7,224.3L88.5,222.4M88.5,222.4L87.5,221.8M88.5,222.4L87.3,221.7M87.3,221.7L87.5,220.5M87.3,221.7L85.9,223.4M82.4,225.1L82.4,223.4M82.4,223.4L80.6,222.7M80.6,222.7L78.3,223.8M78.3,223.8L76.9,222.8M83.6,212.0L84.0,210.8M84.0,210.8L85.6,211.2M85.6,211.2L86.5,210.4M85.6,211.2L86.4,209.1M86.4,209.1L88.5,208.1M88.5,208.1L88.7,206.9M87.0,224.5L86.9,226.7M86.9,226.7L88.0,227.3M86.9,226.7L88.3,227.5M88.3,227.5L90.5,226.2M90.5,226.2L91.5,226.8M90.5,226.2L90.4,224.6M90.4,224.6L91.4,224.0M86.3,216.4L85.4,215.1M85.4,215.1L85.7,213.8M89.6,220.1L89.2,221.6M89.2,221.6L87.6,221.6M88.4,217.9L85.9,218.0M85.9,218.0L85.8,219.5M85.8,219.5L87.0,221.1M81.3,212.0L80.3,214.4M80.3,214.4L78.3,215.0M76.6,226.7L75.3,228.0M75.3,228.0L75.6,229.2M75.3,228.0L73.0,227.4M73.0,227.4L71.3,229.0M86.0,229.5L84.5,229.1M84.5,229.1L83.5,227.6M83.5,227.6L83.7,226.3M83.7,226.3L82.8,225.5M83.7,226.3L82.1,225.7M82.1,225.7L81.1,226.5M82.0,213.5L80.9,212.7M80.9,212.7L81.2,211.6M80.9,212.7L81.8,211.1M81.8,211.1L82.9,211.3M84.4,215.2L84.3,213.1M84.3,213.1L86.2,211.8M86.2,211.8L86.2,210.3M87.2,227.4L84.9,228.5M84.9,228.5L84.7,229.7M84.9,228.5L83.1,227.2M88.6,214.6L88.8,216.9M88.8,216.9L87.8,217.6M88.8,216.9L87.6,218.1M85.9,216.8L84.7,216.2M84.7,216.2L83.7,216.9M84.7,216.2L83.6,217.1M83.6,217.1L83.5,219.0M82.5,221.9L84.0,223.3M84.0,223.3L85.4,222.1M85.4,222.1L87.4,223.2M77.0,213.4L77.3,215.1M77.3,215.1L76.5,216.0M77.3,215.1L79.7,215.1M79.7,215.1L80.8,216.4M80.8,216.4L80.3,217.5M78.0,210.3L79.2,212.1M79.2,212.1L78.5,213.6M78.0,226.9L76.1,228.0M76.1,228.0L74.9,227.6M74.9,227.6L74.3,226.3M87.0,220.2L85.7,219.8M85.7,219.8L85.8,218.3M85.8,218.3L83.6,217.1M83.6,217.1L83.7,215.9M83.6,217.1L81.4,218.1M81.4,218.1L80.4,217.4M79.5,210.2L81.2,208.9M81.2,208.9L80.5,207.5M80.5,207.5L81.3,206.7M80.5,207.5L79.0,207.4M79.0,207.4L78.2,208.3M78.4,224.1L76.4,224.7M76.4,224.7L75.8,226.8M75.8,226.8L74.7,227.4M84.8,209.2L82.5,209.8M82.5,209.8L81.6,211.5M81.6,211.5L80.4,211.4M81.6,211.5L81.9,212.9M90.2,222.7L88.0,222.6M88.0,222.6L87.5,225.2M87.5,225.2L89.0,227.2M89.0,227.2L91.2,226.5M91.2,226.5L92.0,227.4M81.4,231.4L82.0,229.9M82.0,229.9L83.6,229.5M83.6,229.5L84.8,230.5M88.1,230.1L88.6,227.8M88.6,227.8L89.8,227.7M88.6,227.8L90.6,227.4M87.8,212.8L87.7,211.2M87.7,211.2L85.7,210.1M85.7,210.1L83.7,211.7M83.7,211.7L82.6,211.3M84.7,230.3L84.2,232.1M84.2,232.1L85.0,233.4M85.0,233.4L87.0,234.0M87.0,234.0L87.3,235.8M74.6,221.3L76.1,223.0M76.1,223.0L78.4,222.1M78.4,222.1L79.8,224.2M79.8,224.2L79.1,225.3M75.4,220.2L76.0,221.4M76.0,221.4L75.6,222.8M90.4,216.5L91.6,218.1M91.6,218.1L90.7,219.3M90.7,219.3L88.2,218.5M83.4,219.2L83.3,217.8M83.3,217.8L82.2,216.9M82.2,216.9L81.1,217.2M82.2,216.9L82.8,215.3M82.8,215.3L85.3,215.4M85.2,231.8L86.3,230.8M86.3,230.8L85.0,228.9M87.2,216.7L85.9,215.3M85.9,215.3L84.3,216.3M84.3,216.3L83.0,215.0M83.0,215.0L81.7,215.1M81.7,215.1L81.1,216.1M84.0,221.2L82.7,219.5M82.7,219.5L80.7,220.5M80.7,220.5L80.8,221.7M86.5,223.2L88.8,223.7M88.8,223.7L89.2,225.1M82.6,226.7L81.8,227.7M81.8,227.7L79.8,227.0M79.8,227.0L79.8,225.6M80.0,220.5L82.1,221.1M82.1,221.1L82.7,222.3M82.7,222.3L83.8,222.6M82.7,222.3L81.9,224.4M72.3,218.6L70.8,217.9M70.8,217.9L69.9,218.5M70.8,217.9L69.5,219.7M69.5,219.7L70.5,221.2M74.7,224.8L73.8,223.6M73.8,223.6L72.6,223.7M73.8,223.6L72.5,224.3M72.5,224.3L72.4,226.0M72.4,226.0L71.3,226.4M84.0,211.9L82.5,211.1M82.5,211.1L81.2,212.1M81.2,212.1L81.9,214.5M85.2,226.1L86.7,225.8M86.7,225.8L87.7,223.5M80.1,215.9L82.0,217.4M82.0,217.4L84.2,216.6M84.2,216.6L85.3,217.6M86.0,215.2L85.3,212.9M85.3,212.9L83.2,212.9M83.2,212.9L81.9,211.1M81.9,211.1L79.8,212.0M90.3,220.8L91.9,218.9M91.9,218.9L91.2,217.1M91.2,217.1L89.7,216.6M80.2,218.2L78.3,217.7M78.3,217.7L78.0,215.9M78.0,215.9L76.4,216.1M76.4,216.1L76.1,218.1M89.6,220.4L87.8,221.5M87.8,221.5L86.1,221.0M86.1,221.0L85.3,223.4M85.3,223.4L86.3,225.5M84.2,228.8L86.3,228.3M86.3,228.3L87.4,229.6M87.4,229.6L89.1,228.7M82.9,227.1L81.1,228.0M81.1,228.0L79.3,226.9M79.3,226.9L79.3,224.8M78.7,224.1L80.7,225.3M80.7,225.3L80.6,226.5M80.7,225.3L81.9,224.3M81.9,224.3L83.1,224.6M81.9,224.3L81.3,222.0M81.3,222.0L82.1,221.1M76.5,218.2L74.8,216.8M74.8,216.8L74.8,214.6M85.5,222.4L83.8,223.3M83.8,223.3L82.6,222.5M82.6,222.5L82.2,220.5M76.3,216.6L75.4,215.1M75.4,215.1L73.7,214.8M73.7,214.8L72.5,216.6M72.5,216.6L71.1,216.1M76.5,212.4L75.6,213.9M75.6,213.9L76.2,215.5M76.2,215.5L77.4,215.5M76.2,215.5L75.1,217.1M84.8,226.5L83.0,226.5M83.0,226.5L81.2,224.8M81.2,224.8L80.0,225.2M82.3,222.1L84.7,222.2M84.7,222.2L85.4,219.8M85.4,219.8L83.6,218.5M74.5,222.4L74.7,220.3M74.7,220.3L77.1,219.8M81.6,223.7L81.3,222.2M81.3,222.2L80.1,221.9M81.3,222.2L79.3,221.8M79.3,221.8L78.9,219.3M91.3,219.4L90.2,217.8M90.2,217.8L88.4,217.3M88.4,217.3L87.4,218.3M79.6,220.5L79.3,222.3M79.3,222.3L81.0,223.9M81.0,223.9L82.2,223.1M82.7,231.8L84.0,231.5M84.0,231.5L84.4,230.4M84.0,231.5L84.8,232.9M88.5,217.7L88.2,215.5M88.2,215.5L87.1,215.1M88.2,215.5L86.4,215.1M86.4,215.1L86.7,212.8M86.7,212.8L88.5,211.7M92.2,220.8L93.4,222.5M93.4,222.5L95.6,222.4M95.6,222.4L95.9,220.7M95.9,220.7L97.0,220.3M90.5,212.5L92.7,213.2M92.7,213.2L94.7,211.7M94.7,211.7L96.0,212.1M91.5,215.4L91.8,217.5M91.8,217.5L93.8,217.6M93.8,217.6L94.4,218.7M88.7,222.5L86.8,224.0M86.8,224.0L85.4,223.3M85.4,223.3L84.3,223.9M85.4,223.3L85.2,221.3M72.5,220.3L73.9,218.7M73.9,218.7L73.6,217.4M73.6,217.4L72.5,216.9M73.6,217.4L71.2,217.8M74.4,224.7L76.0,224.2M76.0,224.2L75.9,223.0M76.0,224.2L77.2,224.7M77.2,224.7L77.3,227.1M90.7,225.3L89.8,227.3M89.8,227.3L87.5,228.0M87.5,228.0L87.8,229.5M87.8,229.5L86.8,230.1M88.4,209.7L89.7,210.1M89.7,210.1L90.4,209.1M89.7,210.1L89.9,212.0M89.9,212.0L88.7,213.0M88.7,213.0L87.6,212.6M88.7,213.0L87.2,212.8M86.2,208.5L86.9,209.6M86.9,209.6L85.8,210.6M85.8,210.6L86.9,212.1M86.9,212.1L88.1,212.0M86.7,223.5L85.6,224.7M85.6,224.7L84.5,224.4M85.6,224.7L86.1,226.1M86.1,226.1L87.6,226.8M87.1,223.6L85.7,224.0M85.7,224.0L85.5,226.3M85.5,226.3L84.0,226.5M84.0,226.5L83.0,225.1M83.0,225.1L81.8,225.1M85.0,215.8L87.5,215.5M87.5,215.5L88.2,216.4M87.5,215.5L89.6,216.7M89.6,216.7L90.8,216.2M84.6,223.6L84.8,222.1M84.8,222.1L83.7,221.6M84.8,222.1L86.3,221.9M86.3,221.9L86.6,220.7M86.3,221.9L87.8,220.2M81.8,226.7L80.9,225.6M80.9,225.6L81.1,223.4M81.1,223.4L82.1,222.8M81.1,223.4L83.4,222.7M83.4,222.7L84.0,224.0M78.6,230.2L78.1,228.2M78.1,228.2L80.4,227.2M80.4,227.2L80.5,225.2M80.5,225.2L79.5,224.5M80.5,225.2L79.3,224.0M82.3,207.8L82.1,209.8M82.1,209.8L83.2,210.7M83.2,210.7L83.2,211.9M83.2,210.7L82.6,212.9M82.6,212.9L83.5,213.7M82.6,212.9L83.9,213.9M83.9,213.9L83.5,215.1M82.2,218.8L81.6,217.1M81.6,217.1L82.5,215.7M91.0,219.0L90.0,221.2M90.0,221.2L90.9,222.0M90.0,221.2L88.2,221.6M88.2,221.6L86.9,220.8M86.9,220.8L85.7,221.4M85.7,221.4L84.8,220.7M88.7,216.3L90.5,214.7M90.5,214.7L92.6,215.7M92.6,215.7L93.6,215.1M82.4,228.6L81.9,229.9M81.9,229.9L80.1,230.8M80.1,230.8L78.7,230.3M78.7,230.3L78.6,229.2M82.2,220.4L83.4,218.6M83.4,218.6L84.6,218.7M83.4,218.6L85.3,218.9M85.3,218.9L86.4,217.8M86.6,217.6L86.7,219.5M86.7,219.5L87.8,220.0M86.7,219.5L87.8,220.4M87.8,220.4L87.1,222.2M84.3,223.3L86.1,222.9M86.1,222.9L86.3,220.8M86.3,220.8L84.1,220.0M80.3,216.4L79.6,214.1M79.6,214.1L78.5,213.9M79.6,214.1L77.4,213.5M77.4,213.5L76.0,214.8M76.0,214.8L74.2,214.5M84.0,220.5L85.9,220.4M85.9,220.4L86.3,221.5M85.9,220.4L86.8,222.2M86.8,222.2L86.2,223.2M86.8,222.2L88.3,221.6M88.3,221.6L89.0,220.2M78.1,219.3L79.9,219.3M79.9,219.3L80.6,220.5M80.6,220.5L81.7,220.6M80.6,220.5L79.4,222.2M79.4,222.2L81.2,224.0M78.4,217.1L77.8,215.6M77.8,215.6L75.9,215.9M75.9,215.9L75.3,214.9M86.0,215.9L86.5,217.6M86.5,217.6L87.6,218.0M86.5,217.6L87.8,217.7M87.8,217.7L88.2,216.6M87.8,217.7L88.1,219.8M78.5,218.2L79.9,216.7M79.9,216.7L79.8,214.7M79.8,214.7L78.6,213.7M89.8,223.7L91.2,223.8M91.2,223.8L91.8,224.9M91.2,223.8L91.9,226.1M91.9,226.1L93.7,226.7M84.4,216.2L86.4,216.8M86.4,216.8L87.3,216.0M86.4,216.8L88.3,215.2M86.5,218.6L88.1,218.3M88.1,218.3L88.8,216.7M85.5,224.3L84.7,225.3M84.7,225.3L83.3,224.9M83.3,224.9L82.5,222.9M84.1,225.5L84.8,227.1M84.8,227.1L83.4,228.3M83.4,228.3L83.5,229.5M83.4,228.3L81.3,227.3M87.4,227.0L86.3,228.4M86.3,228.4L86.8,230.2M86.8,230.2L85.9,231.0M86.8,230.2L85.4,231.4M85.4,231.4L85.6,233.4M85.6,233.4L86.8,233.7M84.5,217.1L83.2,218.3M83.2,218.3L84.1,220.4M84.1,220.4L85.3,220.4M84.1,220.4L86.4,221.4M89.0,224.5L88.6,226.1M88.6,226.1L86.1,226.1M86.1,226.1L85.9,227.7M85.9,227.7L84.6,227.7M80.2,226.8L79.0,225.6M79.0,225.6L77.9,226.1M79.0,225.6L77.0,226.1M77.0,226.1L75.1,224.8M80.9,221.0L78.7,220.8M78.7,220.8L76.9,222.2M76.9,222.2L77.9,224.0M77.9,224.0L79.2,223.8M83.4,219.0L82.1,220.1M82.1,220.1L81.0,219.6M82.1,220.1L80.2,218.8M80.2,218.8L80.5,216.7M80.5,216.7L79.5,216.0M86.0,214.8L85.8,217.4M85.8,217.4L84.7,218.1M84.7,218.1L82.6,217.8M82.6,217.8L82.3,216.6M83.9,220.6L85.3,222.2M85.3,222.2L86.5,221.8M85.3,222.2L87.7,221.9M87.7,221.9L88.0,220.4M83.5,223.4L82.6,224.4M82.6,224.4L80.4,224.4M80.4,224.4L79.2,225.8M85.6,221.1L87.0,221.1M87.0,221.1L88.5,222.4M88.5,222.4L89.9,221.4M89.9,221.4L89.4,219.3M84.0,219.0L86.3,219.4M86.3,219.4L86.9,218.3M86.3,219.4L88.1,218.1M88.1,218.1L90.1,218.9M90.1,218.9L91.8,217.7M82.9,220.4L81.2,218.6M81.2,218.6L81.8,216.5M81.8,216.5L81.0,215.1M81.0,215.1L81.4,214.0M81.0,215.1L79.2,215.8M79.2,215.8L78.1,215.1M85.5,221.6L85.2,220.3M85.2,220.3L84.0,220.2M85.2,220.3L84.0,219.9M84.0,219.9L83.8,218.0M80.5,217.0L82.0,219.1M82.0,219.1L83.6,218.6M83.6,218.6L84.4,220.3M84.4,220.3L82.7,221.4M81.9,214.7L83.1,216.3M83.1,216.3L82.2,218.1M82.2,218.1L83.2,220.4M83.2,220.4L84.3,220.7M82.7,218.2L82.1,216.3M82.1,216.3L81.0,216.1M82.1,216.3L80.0,216.4M80.0,216.4L79.7,218.4M77.2,220.3L75.2,220.8M75.2,220.8L74.9,223.0M74.9,223.0L75.8,223.8M74.9,223.0L75.8,223.9M75.8,223.9L77.2,223.5M77.2,223.5L77.3,222.3M88.6,215.5L89.7,217.5M89.7,217.5L91.1,217.1M91.1,217.1L91.9,218.2M81.0,218.4L82.6,218.7M82.6,218.7L83.1,219.8M82.6,218.7L83.3,219.9M83.3,219.9L82.8,221.0M83.3,219.9L81.7,221.3M86.0,214.9L87.3,214.5M87.3,214.5L89.0,216.2M80.7,216.1L78.6,214.6M78.6,214.6L78.8,212.2M78.8,212.2L77.2,211.0M77.2,211.0L76.0,211.7M76.0,211.7L75.1,210.9M81.5,224.8L83.2,224.8M83.2,224.8L83.5,226.0M83.2,224.8L84.1,222.8M84.1,222.8L85.3,222.6M84.1,222.8L86.1,222.4M86.1,222.4L86.0,221.1M79.9,215.8L78.4,214.1M78.4,214.1L76.2,215.4M76.2,215.4L75.2,214.0M79.8,224.2L81.8,225.0M81.8,225.0L82.0,227.5M82.0,227.5L81.0,228.6M76.0,222.8L77.3,222.2M77.3,222.2L78.7,223.7M77.5,225.7L75.7,224.7M75.7,224.7L76.6,222.7M76.6,222.7L75.3,221.7M75.3,221.7L75.5,220.5M78.0,227.4L79.5,227.9M79.5,227.9L81.4,226.7M81.4,226.7L82.0,224.4M82.0,224.4L83.3,224.3M83.3,224.3L83.7,223.2M75.5,223.2L74.2,221.5M74.2,221.5L72.4,221.2M72.4,221.2L72.2,220.0M72.4,221.2L71.6,219.5M71.6,219.5L72.3,218.5M71.6,219.5L72.1,217.5M75.7,227.8L73.9,227.4M73.9,227.4L73.4,225.4M77.1,222.0L74.9,222.4M74.9,222.4L73.9,220.9M75.1,227.1L74.3,225.8M74.3,225.8L75.2,224.8M75.2,224.8L74.9,223.6M75.2,224.8L74.5,223.4M79.1,222.2L80.3,220.6M80.3,220.6L79.4,218.4M79.4,218.4L80.3,217.6M79.4,218.4L80.5,217.1M75.7,226.3L76.9,225.6M76.9,225.6L78.0,227.0M78.0,227.0L79.3,227.2M75.6,224.1L74.1,222.2M74.1,222.2L71.6,222.6M71.6,222.6L71.6,224.3M74.4,230.0L73.2,228.9M73.2,228.9L72.2,229.6M73.2,228.9L72.9,226.7M72.9,226.7L75.3,225.8M75.3,225.8L75.4,224.6M75.3,225.8L75.0,224.6M75.5,223.1L74.1,223.4M74.1,223.4L73.2,221.0M73.2,221.0L72.0,220.8M73.2,221.0L71.4,220.1M71.4,220.1L71.5,218.9M71.4,220.1L69.0,220.8M69.0,220.8L68.7,222.0M79.4,227.1L79.7,229.2M79.7,229.2L82.0,229.8M82.0,229.8L83.2,228.8M76.7,230.1L76.5,232.6M76.5,232.6L77.4,233.3M76.5,232.6L75.0,233.5M75.0,233.5L74.0,232.9M79.3,222.1L79.0,220.3M79.0,220.3L80.7,219.7M80.7,219.7L81.9,221.9M81.9,221.9L84.4,221.5M84.4,221.5L84.9,222.6M74.5,225.7L76.2,226.1M76.2,226.1L76.6,227.8M71.2,228.0L70.4,229.4M70.4,229.4L69.0,229.4M69.0,229.4L68.2,227.3M68.2,227.3L65.9,227.9M65.9,227.9L65.3,226.9M76.2,231.6L77.4,233.1M77.4,233.1L77.1,234.6M77.1,234.6L74.9,235.9M77.6,224.0L76.2,224.6M76.2,224.6L76.1,225.8M76.2,224.6L75.1,223.8M75.1,223.8L75.6,222.0M75.6,222.0L74.3,221.2M50.0,229.5L51.8,230.7M51.8,230.7L50.3,230.5M51.8,230.7L52.6,231.6M52.6,231.6L54.1,231.6M52.6,231.6L51.5,230.9M52.6,231.6L54.2,232.6M54.2,232.6L55.5,231.8M54.2,232.6L54.0,233.9M54.2,232.6L55.9,233.5M55.9,233.5L54.4,233.6M55.9,233.5L56.8,234.5M56.0,233.5L58.3,233.7M58.3,233.7L58.6,232.3M58.3,233.7L59.4,234.5M59.4,234.5L60.8,234.9M59.4,234.5L61.3,235.3M61.3,235.3L60.2,234.3M61.3,235.3L61.4,236.5M61.3,235.3L62.6,235.3M62.6,235.3L61.5,234.3M62.0,236.0L64.1,236.8M64.1,236.8L65.5,237.4M64.1,236.8L65.0,235.8M64.1,236.8L64.2,237.2M64.2,237.2L63.1,238.1M64.2,237.2L65.4,236.6M64.2,237.2L66.8,238.4M66.8,238.4L67.9,239.3M66.8,238.4L68.8,238.9M68.8,238.9L67.4,239.4M68.0,238.5L69.3,238.5M69.3,238.5L68.1,239.4M69.3,238.5L69.3,237.2M69.3,238.5L70.8,239.6M70.8,239.6L71.2,241.0M70.8,239.6L74.3,240.4M74.3,240.4L73.5,241.7M74.3,240.4L73.0,240.8M73.5,240.8L73.3,239.5M73.3,239.5L71.9,238.8M73.3,239.5L72.0,239.5M73.3,239.5L75.1,236.4M75.1,236.4L73.7,236.8M75.1,236.4L74.5,234.7M74.5,234.7L75.4,233.6M75.0,235.0L75.8,233.6M75.8,233.6L76.7,234.8M75.8,233.6L77.0,234.0M75.8,233.6L75.9,230.7M75.9,230.7L76.4,232.1M75.9,230.7L75.4,229.1M75.4,229.1L73.9,228.9M75.4,229.1L74.5,229.9M73.8,219.0L72.7,221.2M72.7,221.2L71.5,222.1M72.4,221.5L70.4,222.9M70.4,222.9L70.4,224.4M70.4,222.9L69.2,223.4M70.1,223.2L67.3,223.4M67.3,223.4L68.3,224.6M67.3,223.4L66.6,222.4M67.2,223.8L65.2,223.4M65.2,223.4L64.8,222.0M65.2,223.4L66.4,222.9M64.4,223.2L61.9,221.4M61.9,221.4L61.5,219.9M62.1,221.4L61.2,218.0M61.2,218.0L62.6,218.6M60.8,218.9L61.2,215.2M61.2,215.2L61.4,216.7M61.2,215.2L61.5,216.4M60.6,216.0L61.0,214.2M61.0,214.2L59.9,213.2M61.0,214.2L60.9,212.9M61.6,213.3L63.1,210.8M63.1,210.8L63.7,212.1M63.6,211.3L65.6,209.6M65.6,209.6L66.7,208.6M66.3,210.3L69.2,209.6M69.2,209.6L68.9,208.1M69.2,210.5L71.1,211.3M71.1,211.3L70.8,209.8M71.7,211.8L74.0,214.2M74.0,214.2L74.8,215.4M73.5,214.1L74.5,216.9M74.5,216.9L73.0,217.3M74.5,216.9L75.6,217.6M70.7,219.7L67.9,219.9M67.9,219.9L68.6,218.6M68.7,220.4L66.5,219.9M66.5,219.9L67.5,218.8M66.6,220.0L64.2,218.1M64.2,218.1L62.8,218.6M64.9,218.8L64.7,217.4M64.7,217.4L64.3,215.9M64.0,216.8L63.8,214.3M63.8,214.3L62.3,213.8M63.8,214.3L65.0,213.8M64.1,214.7L65.5,212.4M65.5,212.4L67.0,212.1M65.5,212.4L66.2,213.5M65.2,212.9L66.7,212.1M66.7,212.1L66.1,210.7M66.7,212.1L67.4,213.1M67.0,211.8L68.6,211.4M68.6,211.4L67.4,212.3M68.6,211.4L67.8,212.4M69.2,211.7L71.4,212.1M71.4,212.1L70.5,210.8" stroke="#46b868" stroke-width="0.38" stroke-linecap="round" fill="none" opacity="0.85"/>
<path d="M185.1,226.7L187.5,227.0M187.5,227.0L188.9,225.0M188.9,225.0L188.4,223.2M188.4,223.2L186.7,222.9M197.6,223.5L196.8,222.3M196.8,222.3L197.5,220.1M197.5,220.1L198.7,220.1M191.8,215.6L190.7,214.9M190.7,214.9L189.6,215.4M190.7,214.9L188.5,215.9M188.5,215.9L188.4,217.1M188.5,215.9L188.1,218.2M188.1,218.2L186.6,219.0M186.6,219.0L186.4,220.1M183.7,236.4L183.8,238.3M183.8,238.3L185.4,239.5M189.8,237.5L191.8,238.9M191.8,238.9L193.1,237.9M174.4,233.6L173.2,232.4M173.2,232.4L171.7,233.1M171.7,233.1L171.9,234.3M204.8,230.4L203.1,228.8M203.1,228.8L203.6,227.4M203.6,227.4L204.9,227.5M196.8,236.7L195.9,238.0M195.9,238.0L194.5,237.6M194.5,237.6L194.1,236.5M194.5,237.6L194.9,235.3M186.9,228.7L185.1,229.8M185.1,229.8L183.4,228.4M183.4,228.4L183.8,227.3M183.4,228.4L184.4,226.3M200.9,221.9L199.5,221.8M199.5,221.8L199.1,219.4M199.1,219.4L200.1,218.7M201.2,217.0L203.4,217.7M203.4,217.7L203.2,219.5M203.2,219.5L202.1,219.9M203.2,219.5L201.9,219.7M201.9,219.7L202.0,222.1M183.5,235.2L183.9,236.9M183.9,236.9L185.2,237.5M185.2,237.5L185.3,238.7M185.2,237.5L187.2,236.7M187.2,236.7L187.4,235.5M190.5,235.3L191.8,234.2M191.8,234.2L190.6,231.9M190.6,231.9L189.2,231.4M189.2,231.4L189.0,229.2M189.3,213.4L188.0,211.3M188.0,211.3L188.5,209.2M188.5,209.2L190.5,208.5M202.7,231.6L201.7,230.1M201.7,230.1L199.4,231.1M199.4,231.1L198.5,230.4M199.4,231.1L199.7,233.4M199.7,233.4L198.8,234.1M199.7,233.4L202.2,233.3M202.2,233.3L202.5,232.1M186.5,238.4L186.7,236.1M186.7,236.1L187.8,235.7M186.7,236.1L189.1,235.1M189.1,235.1L191.1,236.4M194.9,233.2L193.4,233.0M193.4,233.0L192.4,235.3M185.7,218.2L185.5,219.8M185.5,219.8L183.5,220.6M183.5,220.6L181.4,219.2M181.4,219.2L180.5,219.9M181.4,219.2L181.6,217.4M181.6,217.4L182.7,216.8M178.8,222.8L178.0,221.4M178.0,221.4L179.0,220.0M187.6,226.2L187.0,224.6M187.0,224.6L189.3,223.6M189.3,223.6L189.0,221.4M191.7,231.7L191.3,229.4M191.3,229.4L192.8,228.1M188.5,221.2L187.2,222.0M187.2,222.0L187.8,223.2M187.8,223.2L189.0,223.3M187.8,223.2L186.8,225.2M189.3,214.1L186.9,214.0M186.9,214.0L186.6,212.6M186.6,212.6L188.1,211.7M188.1,211.7L189.0,212.4M180.5,222.8L181.8,221.6M181.8,221.6L182.0,219.1M182.0,219.1L183.1,218.7M200.2,225.0L199.1,224.3M199.1,224.3L197.6,225.1M182.1,224.1L183.1,221.9M183.1,221.9L182.5,220.6M182.5,220.6L183.3,219.4M179.1,225.8L177.2,224.6M177.2,224.6L175.4,226.4M175.4,226.4L173.5,226.5M173.5,226.5L173.1,225.4M198.6,234.2L199.3,235.4M199.3,235.4L200.9,235.4M200.9,235.4L201.3,233.8M203.0,219.2L202.8,217.9M202.8,217.9L201.6,217.7M202.8,217.9L204.6,216.7M197.3,228.7L198.1,230.4M198.1,230.4L197.3,231.3M198.1,230.4L197.6,231.8M197.6,231.8L196.3,232.0M199.3,236.5L200.8,237.8M200.8,237.8L200.4,238.9M200.8,237.8L202.9,236.4M202.9,236.4L204.5,237.9M204.5,237.9L204.4,239.1M175.4,224.0L177.3,224.3M177.3,224.3L177.9,223.2M177.3,224.3L177.8,226.7M184.8,231.6L186.3,230.2M186.3,230.2L186.0,229.1M186.3,230.2L188.0,231.3M197.4,217.2L199.6,217.0M199.6,217.0L200.9,215.5M200.9,215.5L199.5,213.6M199.5,213.6L198.3,213.8M199.5,213.6L197.0,213.4M197.0,213.4L196.2,214.3M204.4,222.7L204.8,220.2M204.8,220.2L206.2,219.5M206.2,219.5L206.0,218.3M196.6,238.3L194.7,238.1M194.7,238.1L194.6,236.8M178.5,219.8L179.2,217.7M179.2,217.7L181.3,217.3M194.6,213.5L192.5,214.1M192.5,214.1L191.8,212.2M191.8,212.2L192.6,211.3M197.7,214.9L199.1,215.9M199.1,215.9L199.3,218.0M199.3,218.0L200.3,219.0M200.3,219.0L201.5,218.5M174.9,219.8L175.5,222.2M175.5,222.2L177.0,222.3M174.1,231.9L173.5,229.6M173.5,229.6L172.1,229.2M172.1,229.2L172.3,226.8M182.4,230.3L184.4,230.5M184.4,230.5L186.0,232.2M186.0,232.2L185.4,233.3M186.0,232.2L188.4,232.4M200.5,224.1L201.6,226.0M201.6,226.0L200.1,227.2M189.2,219.8L190.6,218.6M190.6,218.6L190.3,217.4M190.6,218.6L189.7,216.5M189.7,216.5L187.2,216.0M187.2,216.0L186.6,217.0M184.8,215.5L184.0,217.6M184.0,217.6L184.9,218.8M184.9,218.8L184.3,219.9M197.6,220.6L197.5,222.5M197.5,222.5L195.1,222.6M195.1,222.6L193.7,220.7M193.7,220.7L192.5,220.7M193.7,220.7L191.7,221.5M191.7,221.5L191.8,222.7M185.8,221.8L184.5,221.0M184.5,221.0L183.5,221.7M184.5,221.0L182.5,221.9M182.5,221.9L181.9,223.5M181.9,223.5L182.9,224.2M197.9,236.4L198.3,234.7M198.3,234.7L197.3,234.0M198.3,234.7L197.2,233.3M197.2,233.3L194.9,234.1M187.7,241.0L189.9,241.1M189.9,241.1L191.1,239.6M200.4,233.6L202.2,235.3M202.2,235.3L201.9,236.7M201.9,236.7L200.7,237.1M201.9,236.7L203.8,237.4M203.8,237.4L204.7,236.6M203.8,237.4L205.5,235.7M173.2,224.2L173.3,226.1M173.3,226.1L174.6,227.2M174.6,227.2L173.9,228.5M191.0,219.0L192.7,219.8M192.7,219.8L193.6,219.0M192.7,219.8L194.3,218.3M194.3,218.3L193.8,217.2M194.3,218.3L193.7,216.9M193.7,216.9L195.5,215.3M187.4,226.9L187.1,225.3M187.1,225.3L188.2,224.8M187.1,225.3L185.6,224.6M185.6,224.6L184.6,225.3M185.6,224.6L183.1,225.2M183.1,225.2L182.3,224.3M183.1,225.2L182.3,223.9M195.8,226.5L193.4,227.2M193.4,227.2L192.9,228.9M192.9,228.9L194.7,230.3M194.7,230.3L195.8,230.0M178.5,223.5L177.3,224.5M177.3,224.5L176.2,224.2M177.3,224.5L178.2,225.7M178.2,225.7L180.0,225.9M180.0,225.9L180.3,227.0M197.4,217.0L199.9,216.3M199.9,216.3L201.2,214.2M201.2,214.2L200.4,213.3M201.2,214.2L200.2,211.8M186.0,235.1L185.0,233.5M185.0,233.5L187.0,231.9M187.0,231.9L186.7,230.7M186.7,220.8L186.6,222.7M186.6,222.7L185.3,223.1M185.3,223.1L183.9,222.1M185.6,214.4L184.5,212.9M184.5,212.9L183.3,213.6M183.3,213.6L182.0,213.0M184.1,218.9L184.4,216.4M184.4,216.4L185.9,215.1M185.9,215.1L187.6,216.1M186.4,218.1L184.2,219.0M184.2,219.0L184.0,220.4M184.0,220.4L181.8,220.5M180.0,215.1L181.1,216.9M181.1,216.9L182.4,217.1M196.6,214.8L197.7,215.5M197.7,215.5L197.4,216.6M197.7,215.5L199.1,215.2M199.1,215.2L200.1,213.8M198.9,217.1L198.1,218.6M198.1,218.6L198.8,219.5M198.1,218.6L195.8,219.2M201.5,225.7L202.3,223.5M202.3,223.5L203.9,223.6M203.9,223.6L205.3,225.1M205.3,225.1L204.7,226.1M174.4,228.9L173.0,229.6M173.0,229.6L173.4,231.4M197.4,229.5L197.6,231.0M197.6,231.0L196.6,231.7M197.6,231.0L199.1,232.0M185.5,227.3L184.6,228.8M184.6,228.8L182.5,229.4M182.5,229.4L182.2,230.5M182.5,229.4L181.4,231.6M190.9,218.4L190.5,216.3M190.5,216.3L191.8,215.6M191.8,215.6L192.8,216.3M191.8,215.6L192.3,213.5M192.3,213.5L193.5,213.4M180.0,229.4L181.8,228.5M181.8,228.5L182.9,229.1M181.8,228.5L184.1,229.4M184.1,229.4L186.1,228.5M186.1,228.5L186.0,227.3M185.6,229.0L186.8,229.7M186.8,229.7L188.7,228.6M189.6,220.6L188.0,221.4M188.0,221.4L187.2,220.2M187.2,220.2L187.8,219.1M187.2,220.2L185.6,220.5M190.9,231.2L193.2,230.6M193.2,230.6L194.3,229.0M184.1,237.4L183.8,235.3M183.8,235.3L181.4,235.1M181.4,235.1L180.9,236.6M180.9,236.6L181.9,237.3M195.4,220.9L197.1,220.3M197.1,220.3L199.2,221.8M199.2,221.8L198.9,223.0M199.2,221.8L200.8,220.3M200.8,220.3L200.3,219.2M179.4,234.9L180.3,233.5M180.3,233.5L179.3,231.3M179.3,231.3L176.8,231.9M203.9,224.7L206.1,223.9M206.1,223.9L206.0,222.1M206.0,222.1L204.9,221.6M206.0,222.1L204.7,222.0M204.7,222.0L203.9,223.1M181.1,233.6L180.0,232.3M180.0,232.3L181.0,230.9M181.0,230.9L180.1,229.3M180.1,229.3L178.4,228.9M177.3,229.2L175.2,228.3M175.2,228.3L173.7,229.0M177.4,218.2L179.7,219.1M179.7,219.1L180.5,221.1M180.5,221.1L179.9,222.1M180.5,221.1L178.8,221.9M183.5,217.3L185.1,219.3M185.1,219.3L187.6,219.4M187.6,219.4L188.0,217.7M188.0,217.7L186.1,216.1M174.2,221.0L175.7,222.9M175.7,222.9L174.9,224.2M174.9,224.2L173.7,224.4M174.9,224.2L176.7,225.9M176.7,225.9L177.8,225.5M176.7,225.9L178.1,225.4M199.6,234.7L198.0,235.1M198.0,235.1L197.7,236.4M197.7,236.4L199.6,237.2M201.9,226.3L200.6,228.5M200.6,228.5L199.4,228.5M200.6,228.5L199.1,228.7M199.1,228.7L198.4,229.7M199.1,228.7L197.8,227.6M176.8,228.5L176.5,230.3M176.5,230.3L177.6,231.7M177.6,231.7L179.4,231.4M179.8,215.3L178.5,215.6M178.5,215.6L177.0,214.2M196.0,236.4L194.6,234.3M194.6,234.3L195.2,233.3M194.6,234.3L195.9,232.8M183.4,224.7L182.5,223.5M182.5,223.5L180.2,224.1M180.2,224.1L178.4,222.4M183.6,235.5L182.5,236.3M182.5,236.3L182.9,238.8M182.9,238.8L181.3,239.3M195.2,228.8L195.8,227.2M195.8,227.2L197.0,226.9M195.8,227.2L194.0,226.3M194.0,226.3L193.0,227.4M177.6,235.9L179.3,237.0M179.3,237.0L180.8,236.7M180.8,236.7L181.4,237.8M180.8,236.7L181.6,235.5M181.6,235.5L182.8,235.7M174.1,232.6L172.6,233.8M172.6,233.8L173.9,235.6M173.9,235.6L175.0,235.3M173.9,235.6L172.7,237.4M197.9,219.1L200.3,219.3M200.3,219.3L200.8,221.2M200.8,221.2L202.0,221.3M200.8,221.2L202.9,221.7M202.9,221.7L203.7,220.8M202.9,221.7L203.6,220.1M177.4,233.6L179.0,233.1M179.0,233.1L179.5,234.6M179.5,234.6L181.6,234.1M180.9,222.7L178.6,222.0M178.6,222.0L178.9,219.8M178.9,219.8L178.0,219.1M178.9,219.8L180.7,219.3M185.1,230.1L186.4,228.8M186.4,228.8L188.3,228.8M188.3,228.8L189.3,226.8M189.3,226.8L190.5,226.6M189.3,226.8L191.2,226.3M180.9,216.4L180.6,218.2M180.6,218.2L179.2,218.1M179.2,218.1L177.5,216.2M198.5,215.5L198.4,217.3M198.4,217.3L199.5,217.8M198.4,217.3L199.9,218.8M197.4,223.0L198.2,224.9M198.2,224.9L199.8,224.6M199.8,224.6L200.1,223.4M199.8,224.6L200.9,222.4M200.9,222.4L202.1,222.6M196.1,217.8L194.4,218.5M194.4,218.5L193.0,216.7M193.0,216.7L193.5,215.6M186.6,221.3L184.2,220.5M184.2,220.5L183.9,218.0M183.9,218.0L181.7,217.4M181.7,217.4L180.6,218.3M184.1,223.9L186.1,223.5M186.1,223.5L186.5,222.3M186.1,223.5L187.5,224.4M187.5,224.4L187.3,226.9M187.3,226.9L188.2,227.6M187.3,226.9L189.2,228.6M189.2,228.6L190.3,228.2M182.1,226.2L183.7,227.7M183.7,227.7L185.3,226.2M185.3,226.2L185.0,223.6M185.0,223.6L186.0,222.9M186.7,218.1L185.4,217.8M185.4,217.8L184.8,218.8M185.4,217.8L183.3,219.2M183.3,219.2L182.3,218.5M183.3,219.2L181.3,218.2M181.3,218.2L181.1,217.0M196.1,219.5L198.7,219.8M198.7,219.8L200.0,221.7M179.8,224.1L180.6,225.4M180.6,225.4L182.5,225.7M182.5,225.7L183.2,227.6M183.2,227.6L184.4,227.9M189.7,239.8L190.8,237.7M190.8,237.7L192.7,237.6M192.7,237.6L193.2,236.5M192.7,237.6L192.8,235.5M192.8,235.5L191.8,234.8M197.0,230.6L197.1,228.6M197.1,228.6L195.6,228.1M194.2,234.9L196.7,235.6M196.7,235.6L197.8,233.6M197.8,233.6L197.2,232.6M194.1,238.8L192.3,240.0M192.3,240.0L189.8,239.6M189.8,239.6L189.2,240.6M189.8,239.6L188.8,240.5M185.2,219.9L185.5,221.7M185.5,221.7L186.7,222.5M186.7,222.5L186.1,223.8M186.1,223.8L184.7,224.1M195.3,212.8L193.9,213.0M193.9,213.0L193.6,215.0M193.6,215.0L195.8,215.9M195.8,215.9L196.0,217.1M181.0,237.1L180.4,235.4M180.4,235.4L178.6,235.8M178.6,235.8L178.4,237.0M178.6,235.8L177.7,233.9M177.7,233.9L178.5,233.0M189.8,230.6L190.6,231.8M190.6,231.8L189.0,233.4M189.0,233.4L187.4,232.1M188.0,220.1L189.4,221.5M189.4,221.5L191.4,220.7M191.4,220.7L191.5,219.5M191.4,220.7L192.1,219.1M192.1,219.1L193.3,219.2M173.2,225.5L172.0,226.7M172.0,226.7L173.1,228.3M173.1,228.3L175.4,227.6M187.5,213.3L188.2,215.8M188.2,215.8L186.4,217.1M186.4,217.1L186.5,218.3M186.4,217.1L183.9,216.8M185.2,232.4L186.7,233.6M186.7,233.6L186.0,234.8M186.0,234.8L184.8,234.5M186.0,234.8L184.5,235.0M184.5,235.0L184.2,236.1M198.5,214.7L197.3,216.8M197.3,216.8L198.0,219.0M198.0,219.0L199.8,218.7M192.9,235.0L193.2,233.6M193.2,233.6L191.3,232.5M191.3,232.5L190.3,233.2M191.3,232.5L189.9,233.2M178.0,221.3L177.1,223.1M177.1,223.1L178.0,224.3M178.0,224.3L177.3,225.2M185.4,232.5L184.1,233.4M184.1,233.4L182.4,232.4M182.4,232.4L182.2,230.1M182.2,230.1L180.9,228.8M180.9,228.8L179.9,229.4M192.0,217.7L193.8,219.1M193.8,219.1L196.1,218.4M196.1,218.4L196.8,217.2M198.4,221.6L196.9,223.7M196.9,223.7L195.7,223.7M196.9,223.7L195.4,223.1M195.4,223.1L195.9,221.0M193.1,225.4L191.9,226.7M191.9,226.7L189.7,226.7M189.7,226.7L189.1,227.8M189.8,226.5L190.3,228.2M190.3,228.2L191.5,228.2M190.3,228.2L189.1,230.4M189.1,230.4L189.5,231.9M189.5,231.9L187.8,232.9M190.7,229.6L191.6,231.7M191.6,231.7L190.6,233.4M190.6,233.4L191.0,235.0M183.1,238.4L184.4,239.8M184.4,239.8L186.2,238.7M186.2,238.7L186.1,237.5M186.2,238.7L186.5,236.3M186.5,236.3L185.6,235.4M183.4,213.5L181.9,213.2M181.9,213.2L181.6,211.8M181.6,211.8L179.8,210.4M179.8,210.4L180.2,209.2M199.7,215.8L201.8,215.7M201.8,215.7L202.1,213.4M202.1,213.4L201.1,212.9M202.1,213.4L204.5,212.9M204.5,212.9L205.3,213.8M204.5,212.9L205.5,215.2M205.5,215.2L204.7,216.1M197.2,228.8L199.3,230.2M199.3,230.2L199.2,231.5M199.2,231.5L197.8,232.2M197.8,232.2L195.7,231.3M191.6,216.1L192.2,217.8M192.2,217.8L193.8,218.4M193.8,218.4L194.1,219.5M193.8,218.4L195.8,217.0M174.9,222.0L173.1,220.7M173.1,220.7L172.1,221.3M173.1,220.7L173.9,219.0M173.9,219.0L175.2,218.5M177.1,231.4L176.9,232.9M176.9,232.9L178.1,234.6M178.1,234.6L177.5,235.6M174.6,231.4L176.2,230.1M176.2,230.1L177.2,230.7M176.2,230.1L175.3,228.9M186.7,223.8L186.1,222.3M186.1,222.3L184.3,221.4M184.3,221.4L183.0,222.0M183.0,222.0L182.9,223.2M180.7,228.4L179.7,229.5M179.7,229.5L180.0,230.6M179.7,229.5L180.3,231.3M180.3,231.3L181.5,231.7M180.3,231.3L182.0,231.9M182.0,231.9L182.7,233.6M176.9,224.3L177.0,222.7M177.0,222.7L178.1,221.9M178.1,221.9L177.7,220.8M178.1,221.9L178.4,220.2M180.4,217.7L181.7,215.7M181.7,215.7L183.8,216.3M183.8,216.3L184.0,217.5M183.8,216.3L184.9,217.9M184.9,217.9L186.3,217.9M191.4,218.9L190.8,217.6M190.8,217.6L189.2,218.1M189.2,218.1L188.0,216.4M184.0,227.6L182.2,227.7M182.2,227.7L181.5,229.1M181.5,229.1L179.2,229.3M179.2,229.3L178.8,230.4M179.2,229.3L177.6,227.4M177.6,227.4L178.1,226.3M194.9,236.8L196.4,238.8M196.4,238.8L197.6,238.7M196.4,238.8L198.5,238.3M198.5,238.3L199.2,239.4M193.7,216.8L194.2,215.4M194.2,215.4L193.6,213.6M193.6,213.6L191.5,213.4M191.5,213.4L191.2,212.2M184.3,237.2L186.2,236.7M186.2,236.7L187.6,238.7M187.6,238.7L188.8,238.5M186.6,239.3L184.6,239.3M184.6,239.3L184.0,238.2M184.6,239.3L183.6,237.4M183.6,237.4L181.7,237.8M181.7,237.8L181.4,238.9M180.8,231.2L182.4,229.9M182.4,229.9L181.0,227.8M181.0,227.8L179.8,227.8M181.0,227.8L179.1,228.6M179.1,228.6L178.9,229.8M185.3,221.7L184.8,223.2M184.8,223.2L183.5,223.9M185.6,221.0L183.9,220.3M183.9,220.3L183.1,217.9M183.1,217.9L184.9,217.2M185.3,225.1L186.4,227.3M186.4,227.3L185.7,228.3M186.4,227.3L184.8,229.3M184.8,229.3L186.1,231.0M186.1,231.0L187.2,230.5M173.9,224.3L175.5,226.3M175.5,226.3L175.1,227.9M175.1,227.9L176.6,228.5M198.6,226.5L200.4,226.1M200.4,226.1L200.7,224.9M200.4,226.1L201.6,227.6M201.6,227.6L201.2,228.8M201.6,227.6L204.2,227.4M180.5,218.1L178.7,217.1M178.7,217.1L177.5,218.5M177.5,218.5L177.9,220.7M177.9,220.7L175.7,222.0M177.7,226.0L179.9,226.6M179.9,226.6L180.1,229.1M180.1,229.1L178.6,230.2M193.8,230.4L193.7,228.8M193.7,228.8L194.7,228.1M193.7,228.8L195.6,228.6M195.6,228.6L195.7,227.2M187.2,226.7L185.6,227.7M185.6,227.7L185.9,229.3M191.5,224.3L193.6,224.5M193.6,224.5L195.4,222.6M195.4,222.6L194.8,221.5M197.4,213.5L196.3,212.8M196.3,212.8L196.3,210.3M196.3,210.3L197.3,209.3M177.1,218.6L178.9,220.2M178.9,220.2L179.2,222.6M179.2,222.6L178.0,223.2M178.0,223.2L177.7,225.1M177.7,225.1L178.6,225.8M199.3,220.6L197.6,219.9M197.6,219.9L196.3,221.2M205.0,227.8L204.0,229.9M204.0,229.9L204.8,230.7M204.0,229.9L205.8,231.5M190.9,221.5L191.6,220.1M191.6,220.1L193.0,220.5M188.8,228.2L187.2,228.3M187.2,228.3L186.7,226.2M193.0,230.7L192.3,232.6M192.3,232.6L191.1,232.7M192.3,232.6L193.9,234.3M193.9,234.3L195.0,233.9M189.7,228.0L189.6,230.3M189.6,230.3L188.1,230.3M188.1,230.3L187.6,229.2M188.1,230.3L187.1,229.0M191.4,233.7L190.6,231.7M190.6,231.7L191.5,230.9M190.6,231.7L191.9,229.8M181.3,231.5L183.4,232.9M183.4,232.9L184.3,232.1M183.4,232.9L185.5,232.4M185.5,232.4L185.9,231.3M185.5,232.4L185.5,230.6M185.5,230.6L184.1,229.8M179.4,227.3L178.7,224.9M178.7,224.9L179.4,224.0M178.7,224.9L177.1,224.3M177.1,224.3L176.9,223.1M177.1,224.3L176.2,226.0M191.8,231.9L189.8,231.8M189.8,231.8L189.3,232.9M189.8,231.8L189.3,229.3M189.3,229.3L187.2,228.8M187.2,228.8L187.0,227.6M186.5,231.9L187.7,229.7M187.7,229.7L189.8,230.0M189.8,230.0L190.2,231.1M189.8,230.0L191.4,227.9M191.4,227.9L192.6,228.1M189.2,229.0L189.0,227.6M189.0,227.6L187.6,226.8M192.5,232.6L194.4,233.5M194.4,233.5L194.2,235.5M180.8,227.0L179.2,227.8M179.2,227.8L177.3,227.3M177.3,227.3L176.7,228.5M176.7,228.5L177.5,229.4M192.2,226.0L191.0,226.7M191.0,226.7L191.2,227.9M191.0,226.7L189.1,226.2M183.9,223.0L184.1,224.4M184.1,224.4L182.7,225.3M191.6,234.5L191.7,232.3M191.7,232.3L192.9,231.9M191.7,232.3L189.9,230.4M189.9,230.4L188.6,231.0M193.3,229.3L192.5,227.2M192.5,227.2L193.8,225.6M193.8,225.6L193.3,224.6M193.8,225.6L195.7,226.2M195.7,226.2L196.8,228.3M182.4,223.0L181.5,221.8M181.5,221.8L180.1,222.0M180.1,222.0L179.2,224.1M179.2,224.1L176.9,223.8M192.4,222.6L191.9,224.7M191.9,224.7L193.7,225.2M193.7,225.2L193.9,226.4M193.7,225.2L194.7,224.1M194.7,224.1L194.1,222.1M187.1,235.9L188.8,234.4M188.8,234.4L191.3,234.8M191.3,234.8L192.6,233.8M187.3,223.5L186.5,222.4M186.5,222.4L186.8,220.7M186.8,220.7L188.0,219.8M188.0,219.8L189.1,220.4M186.6,220.4L185.5,222.1M185.5,222.1L184.0,221.4M184.0,221.4L183.0,222.0M184.0,221.4L183.2,222.5M179.9,229.3L181.3,227.6M181.3,227.6L180.9,226.5M181.3,227.6L183.5,227.6M183.5,227.6L184.2,228.6M183.5,227.6L184.9,229.0M184.9,229.0L186.1,228.6M188.7,232.1L188.8,230.7M188.8,230.7L190.7,229.4M190.7,229.4L191.6,230.1M190.7,229.4L190.9,227.5M190.9,227.5L193.1,227.1M189.3,232.3L187.6,231.6M187.6,231.6L186.8,232.5M187.6,231.6L185.9,232.8M185.9,232.8L183.8,231.6M189.1,232.7L188.2,234.0M188.2,234.0L189.3,234.9M189.3,234.9L190.5,234.3M190.5,234.3L191.7,236.1M191.7,236.1L192.9,235.9M183.3,230.2L183.7,231.7M183.7,231.7L182.9,232.7M183.7,231.7L182.1,233.6M182.1,233.6L183.0,236.0M188.4,225.7L189.5,227.8M189.5,227.8L188.9,228.8M189.5,227.8L191.4,228.2M191.4,228.2L192.1,226.3M192.1,226.3L191.5,225.1M191.5,225.1L190.3,224.8M185.3,229.4L186.9,227.7M186.9,227.7L186.7,225.5M186.7,225.5L188.0,224.3M188.8,232.0L190.4,233.3M190.4,233.3L192.0,231.8M192.0,231.8L191.3,229.7M195.1,232.2L195.2,234.1M195.2,234.1L194.2,234.8M195.2,234.1L196.7,234.9M196.7,234.9L196.8,236.1M196.7,234.9L198.1,234.1M198.1,234.1L197.8,232.9M194.8,224.7L196.8,223.4M196.8,223.4L197.7,224.1M196.8,223.4L198.1,224.1M198.1,224.1L198.3,225.2M198.1,224.1L197.2,226.5M183.5,221.3L182.1,221.6M182.1,221.6L180.8,220.1M180.8,220.1L179.0,220.6M179.0,220.6L178.1,219.9M194.8,227.6L194.6,225.9M194.6,225.9L192.4,224.6M192.4,224.6L192.6,223.4M191.5,235.4L190.6,237.7M190.6,237.7L188.5,237.3M188.5,237.3L186.8,238.7M186.8,238.7L187.1,239.9M185.9,232.7L184.4,233.8M184.4,233.8L182.7,233.5M182.7,233.5L182.2,232.5M182.7,233.5L182.4,231.8M182.4,231.8L181.3,231.2M179.1,228.3L177.8,227.4M177.8,227.4L177.2,225.2M177.2,225.2L175.8,225.5M175.8,225.5L175.2,224.5M192.5,220.2L193.0,218.0M193.0,218.0L191.9,217.2M181.3,232.2L181.4,234.1M181.4,234.1L179.5,235.6M179.5,235.6L178.5,235.1M179.5,235.6L177.6,234.5M192.2,231.5L193.6,231.4M193.6,231.4L194.0,229.7M194.0,229.7L193.0,229.1M195.1,235.0L195.9,236.5M195.9,236.5L198.2,236.4M198.2,236.4L199.4,237.7M199.4,237.7L198.9,238.8M194.0,235.3L193.5,237.2M193.5,237.2L192.3,237.4M193.5,237.2L192.1,237.7M192.1,237.7L191.1,237.0M181.2,226.7L179.5,227.8M179.5,227.8L177.8,226.0M192.4,235.2L191.8,236.4M191.8,236.4L192.5,237.3M191.8,236.4L189.4,235.8M189.4,235.8L188.6,237.2M188.6,237.2L187.4,237.2M188.6,237.2L190.1,238.4M182.7,228.6L182.6,226.8M182.6,226.8L184.3,226.2M191.0,230.4L192.5,228.8M192.5,228.8L194.9,228.6M194.1,232.9L196.0,231.8M196.0,231.8L197.8,233.4M188.1,229.8L188.4,228.1M188.4,228.1L187.2,226.5M187.2,226.5L188.9,224.9M188.9,224.9L188.5,223.8M195.8,225.0L198.2,225.5M198.2,225.5L199.2,227.3M199.2,227.3L198.2,228.1M198.2,228.1L196.4,227.1M196.4,227.1L196.6,225.9M182.1,221.0L183.9,221.5M183.9,221.5L184.2,222.7M183.9,221.5L184.0,223.7M181.2,227.3L178.8,227.5M178.8,227.5L178.3,228.6M178.8,227.5L177.9,229.8M177.9,229.8L179.4,230.5M179.4,230.5L180.3,229.8M175.2,219.2L174.3,217.3M174.3,217.3L173.1,217.3M174.3,217.3L175.7,216.2M175.7,216.2L176.9,216.6M175.7,216.2L174.6,214.1M174.6,214.1L172.9,213.7M182.1,213.4L180.2,215.1M180.2,215.1L178.9,213.9M177.6,214.9L178.9,213.4M178.9,213.4L177.9,212.3M177.9,212.3L178.8,210.0M178.8,210.0L178.1,209.0M178.8,210.0L180.9,210.1M180.9,210.1L181.2,211.2M173.1,219.4L174.7,219.6M174.7,219.6L176.4,218.1M176.4,218.1L175.8,216.5M179.4,216.4L181.3,216.4M181.3,216.4L181.6,215.2M181.3,216.4L181.5,218.1M181.5,218.1L179.4,219.2M179.4,219.2L178.6,221.6M169.9,217.5L170.9,219.7M170.9,219.7L172.0,220.0M170.9,219.7L172.8,219.3M172.8,219.3L173.4,220.3M172.8,219.3L173.1,216.7M173.1,216.7L174.2,216.2M173.1,216.7L171.8,215.8M176.3,214.3L177.5,215.2M177.5,215.2L179.1,214.7M179.1,214.7L179.0,212.8M179.0,212.8L180.1,212.3M182.3,218.0L181.0,217.5M181.0,217.5L181.3,216.1M181.3,216.1L183.1,215.6M183.1,215.6L184.8,217.4M184.8,217.4L185.9,216.8M174.6,213.7L174.5,211.9M174.5,211.9L176.1,210.9M176.1,210.9L176.4,209.1M178.0,217.0L176.8,217.3M176.8,217.3L176.5,218.5M176.8,217.3L175.6,219.0M175.6,219.0L176.8,220.3M176.8,220.3L178.9,220.1M184.1,213.6L185.4,213.3M185.4,213.3L185.8,212.1M185.4,213.3L186.2,215.5M183.6,212.9L183.5,211.4M183.5,211.4L184.5,210.7M183.5,211.4L185.8,210.6M185.8,210.6L187.2,211.6M187.2,211.6L188.2,210.9M187.2,211.6L189.3,210.5M178.8,210.8L180.1,212.1M180.1,212.1L181.7,211.7M175.1,211.9L177.6,211.4M177.6,211.4L178.9,209.5M178.9,209.5L180.0,209.9M178.9,209.5L180.1,210.2M179.3,220.2L178.5,222.4M178.5,222.4L176.7,223.0M176.4,210.5L174.2,209.4M174.2,209.4L172.5,209.9M172.5,209.9L172.5,211.1M172.5,209.9L172.6,212.0M172.6,212.0L173.8,212.4M172.6,212.0L174.3,212.6M174.3,212.6L174.7,213.8M180.6,220.2L180.5,221.5M180.5,221.5L182.6,222.9M182.6,222.9L182.1,225.1M182.1,225.1L183.4,227.3M178.6,217.2L176.8,216.7M176.8,216.7L176.1,217.7M176.8,216.7L176.2,218.1M176.2,218.1L175.0,218.2M176.2,218.1L177.2,219.4M175.0,215.7L173.7,213.7M173.7,213.7L174.3,212.7M173.7,213.7L172.2,213.3M172.2,213.3L170.9,214.9M170.9,214.9L171.8,216.2M180.3,219.7L179.1,221.4M179.1,221.4L177.6,221.4M177.6,221.4L177.1,223.0M179.9,218.8L181.3,217.2M181.3,217.2L180.4,214.8M180.4,214.8L179.2,214.6M180.4,214.8L178.2,214.6M178.6,215.0L180.6,215.2M180.6,215.2L182.0,214.1M181.2,214.5L179.6,215.7M179.6,215.7L180.3,217.6M180.3,217.6L182.5,216.9M182.5,216.9L183.4,217.7M182.5,216.9L182.9,215.0M175.7,212.2L175.3,209.9M175.3,209.9L176.3,209.2M175.3,209.9L173.6,209.3M173.6,209.3L173.3,208.1M173.6,209.3L173.1,207.4M173.1,207.4L171.9,207.1M173.1,207.4L174.3,206.2M206.3,218.8L205.1,220.1M205.1,220.1L202.9,219.5M202.9,219.5L202.2,220.5M202.9,219.5L202.1,217.9M202.1,217.9L202.9,217.0M203.8,211.4L202.7,213.3M202.7,213.3L203.5,214.2M202.7,213.3L200.6,213.4M200.6,213.4L199.9,212.4M197.1,216.3L199.6,216.0M199.6,216.0L199.5,214.0M202.9,214.6L201.7,216.1M201.7,216.1L199.3,215.9M199.3,215.9L198.1,216.8M198.2,216.3L196.4,216.7M196.4,216.7L195.9,218.7M202.1,215.0L203.2,216.9M203.2,216.9L202.8,218.1M202.8,218.1L201.7,218.5M202.8,218.1L205.2,219.1M205.2,219.1L205.4,220.3M206.6,212.7L208.2,214.5M208.2,214.5L209.9,214.4M209.9,214.4L210.9,213.1M205.9,217.9L207.3,218.7M207.3,218.7L208.9,218.0M208.9,218.0L209.8,219.8M209.8,219.8L211.0,219.7M199.0,215.1L197.7,215.5M197.7,215.5L197.1,216.8M197.1,216.8L195.9,216.8M197.1,216.8L199.2,218.1M199.2,218.1L198.9,219.2M201.5,218.1L203.0,219.7M203.0,219.7L204.1,218.8M204.1,218.8L205.2,219.2M204.1,218.8L204.3,217.1M204.3,217.1L203.5,216.3M194.1,215.3L195.3,216.4M195.3,216.4L196.4,216.0M195.3,216.4L194.8,218.0M194.8,218.0L195.6,219.7M195.6,219.7L194.9,220.7M203.6,221.0L201.8,220.0M201.8,220.0L200.7,220.4M201.8,220.0L201.6,217.9M201.6,217.9L203.0,217.5M203.0,217.5L203.3,216.4M201.5,222.2L200.3,224.3M200.3,224.3L198.9,224.6M198.9,224.6L197.4,226.5M197.4,226.5L196.2,226.3M202.1,212.1L201.4,210.8M201.4,210.8L199.3,210.4M193.5,217.3L192.2,217.2M192.2,217.2L191.7,216.0M192.2,217.2L191.5,215.8M191.5,215.8L192.3,214.3M192.3,214.3L193.4,214.2M194.7,216.0L196.6,216.4M196.6,216.4L197.5,215.7M196.6,216.4L197.3,215.2M197.3,215.2L195.7,213.3M195.7,213.3L193.2,213.5M197.2,220.0L199.0,221.7M199.0,221.7L198.9,222.9M199.0,221.7L197.6,223.7M197.6,223.7L199.3,225.3M199.3,225.3L198.8,226.3M199.3,225.3L198.2,226.6M198.7,212.8L198.2,210.8M198.2,210.8L199.6,210.0M199.6,210.0L200.6,210.5M199.6,210.0L201.2,210.3M201.2,210.3L201.1,212.4M201.1,212.4L202.2,213.0M196.2,212.0L194.3,212.2M194.3,212.2L193.5,211.4M194.3,212.2L193.3,211.2M193.3,211.2L193.9,209.5M200.8,220.1L198.7,220.0M198.7,220.0L198.0,221.0M198.7,220.0L197.8,221.9M204.6,210.6L205.5,209.3M205.5,209.3L207.8,209.7M207.8,209.7L208.4,211.6M202.1,217.3L204.4,218.2M204.4,218.2L206.5,216.8M206.5,216.8L208.3,217.5M208.3,217.5L208.6,218.6M196.5,220.6L196.1,222.8M196.1,222.8L197.5,224.9M198.1,218.7L198.7,216.3M198.7,216.3L196.9,215.4M196.9,215.4L195.6,216.3M200.3,215.7L200.9,217.6M200.9,217.6L203.0,218.8M203.0,218.8L204.3,217.0M199.2,216.2L199.1,214.5M199.1,214.5L197.8,213.2M197.8,213.2L196.0,213.5M196.1,217.1L198.1,216.5M198.1,216.5L199.0,214.7M199.0,214.7L200.2,214.7M199.0,214.7L197.6,212.7M204.5,212.0L202.2,212.0M202.2,212.0L200.9,210.0M203.2,218.1L201.7,217.6M201.7,217.6L201.6,215.8M201.6,215.8L203.2,215.6M195.5,219.0L195.1,217.4M195.1,217.4L197.0,216.3M197.0,216.3L197.1,214.4M201.7,222.0L203.0,220.0M203.0,220.0L204.4,219.6M204.4,219.6L205.5,221.7M183.3,240.8L184.8,241.4M184.8,241.4L185.9,243.6M185.9,243.6L187.1,243.4M185.9,243.6L183.9,244.9M183.9,244.9L183.9,246.1M180.0,237.1L178.1,237.9M178.1,237.9L176.8,237.2M176.8,237.2L177.5,235.2M177.5,235.2L176.7,234.2M177.5,235.2L176.2,234.0M176.2,234.0L176.7,232.9M187.2,243.6L189.2,244.2M189.2,244.2L189.8,243.2M189.2,244.2L189.7,246.1M189.7,246.1L188.6,246.9M190.3,236.8L192.5,237.4M192.5,237.4L192.3,238.8M192.3,238.8L193.8,240.7M186.4,244.9L188.9,244.4M188.9,244.4L190.5,242.3M192.6,242.7L194.1,244.1M194.1,244.1L195.4,243.4M182.5,245.1L181.8,243.5M181.8,243.5L179.4,242.9M179.4,242.9L177.6,244.5M177.6,244.5L176.4,243.4M184.2,240.1L185.3,240.9M185.3,240.9L187.1,240.6M187.1,240.6L187.6,241.9M180.0,241.9L179.1,239.7M179.1,239.7L177.4,239.6M177.4,239.6L176.8,240.7M186.8,243.5L187.7,244.7M187.7,244.7L189.4,244.4M189.4,244.4L190.9,245.4M190.9,245.4L190.5,247.1M182.8,241.9L183.4,239.4M183.4,239.4L182.6,238.5M183.4,239.4L185.4,238.3M185.4,238.3L185.0,235.8M176.6,238.0L177.4,236.8M177.4,236.8L176.0,235.5M187.8,243.8L188.3,245.1M188.3,245.1L186.3,246.2M186.3,246.2L186.7,247.8M184.4,238.7L185.8,240.7M185.8,240.7L185.2,241.7M185.8,240.7L184.3,242.1M184.3,242.1L184.4,243.4M184.4,243.4L185.7,244.4M182.7,240.3L181.6,241.9M181.6,241.9L182.2,244.3M185.9,242.9L186.5,244.5M186.5,244.5L185.5,246.7M177.7,237.1L179.2,236.7M179.2,236.7L180.2,234.6M180.2,234.6L179.6,233.6M180.2,234.6L182.3,234.6M184.6,244.1L185.1,245.9M185.1,245.9L186.8,246.0M186.8,246.0L187.0,243.7M177.3,239.8L176.0,239.3M176.0,239.3L174.1,240.5M174.1,240.5L173.6,242.9M173.6,242.9L174.5,243.6M173.6,242.9L171.4,243.3M178.9,239.1L181.2,238.4M181.2,238.4L182.3,240.0M182.3,240.0L183.8,239.2M183.8,239.2L185.0,240.0M185.0,240.0L186.1,239.6M188.9,238.9L187.4,240.5M187.4,240.5L186.1,239.9M186.1,239.9L186.0,238.7M186.1,239.9L185.1,241.2M185.1,241.2L186.4,242.9M186.3,240.5L186.4,242.1M186.4,242.1L185.1,242.7M185.1,242.7L184.0,242.2M185.1,242.7L184.4,244.8M184.4,244.8L185.2,245.7M191.3,241.3L189.7,240.9M189.7,240.9L189.7,238.4M189.7,238.4L187.9,236.6M184.2,236.9L183.3,238.0M183.3,238.0L181.8,237.9M172.0,234.0L170.1,234.6M170.1,234.6L171.2,235.5M170.1,234.6L169.8,235.6M169.8,235.6L168.8,236.7M169.8,235.6L168.2,238.2M168.2,238.2L169.7,238.2M168.2,238.2L169.3,238.8M168.2,238.2L165.5,238.5M165.5,238.5L167.0,238.6M165.5,238.5L164.3,238.7M166.0,238.5L164.8,238.9M164.8,238.9L165.9,239.9M164.8,238.9L165.9,239.6M164.8,238.9L162.3,239.8M162.3,239.8L162.8,238.4M162.3,239.8L160.7,242.0M160.7,242.0L161.5,240.8M160.7,242.0L159.6,243.1M159.6,243.1L160.9,243.8M159.6,243.1L160.9,242.7M160.0,242.5L157.9,244.2M157.9,244.2L157.9,242.7M157.9,244.2L159.0,245.0M157.9,244.2L157.1,243.9M157.1,243.9L156.3,242.6M157.1,243.9L154.7,245.5M154.7,245.5L155.1,246.9M154.7,245.5L153.8,246.8M153.8,246.8L152.8,245.8M153.8,246.8L154.8,246.0M153.8,246.8L152.5,247.5M152.5,247.5L151.2,246.7M152.5,247.5L152.5,246.2M203.0,213.0L204.6,211.9M204.6,211.9L203.1,211.8M204.6,211.9L205.9,212.0M204.6,211.9L206.0,212.3M206.0,212.3L205.8,210.9M206.0,212.3L204.7,212.3M206.0,212.3L207.7,211.1M207.7,211.1L206.2,211.5" stroke="#46b868" stroke-width="0.38" stroke-linecap="round" fill="none" opacity="0.85"/>
<path d="M66.5,281.4L64.3,281.2M64.3,281.2L63.8,280.1M64.3,281.2L63.4,279.5M63.4,279.5L62.2,279.6M55.5,299.7L55.8,297.1M55.8,297.1L54.2,296.5M54.2,296.5L54.1,295.4M54.2,296.5L53.9,294.3M66.2,290.4L67.0,292.8M67.0,292.8L66.0,294.6M66.0,294.6L66.5,295.8M66.5,295.8L67.7,295.7M54.2,294.1L56.2,294.1M56.2,294.1L56.6,295.2M56.2,294.1L57.0,292.1M58.9,276.2L59.5,277.4M59.5,277.4L61.9,278.1M61.9,278.1L62.7,277.2M61.9,278.1L63.1,277.3M48.4,286.3L49.1,284.1M49.1,284.1L48.3,283.3M49.1,284.1L47.7,282.4M47.7,282.4L45.5,282.3M45.5,282.3L45.1,281.2M54.8,278.2L55.4,280.0M55.4,280.0L54.5,282.2M55.5,292.5L57.8,292.2M57.8,292.2L58.9,290.6M58.9,290.6L60.1,290.5M58.9,290.6L60.3,291.2M60.3,291.2L61.1,289.9M62.7,298.0L64.7,297.5M64.7,297.5L65.6,296.2M65.6,296.2L67.8,296.8M67.8,296.8L68.5,295.5M58.1,286.0L57.7,283.5M57.7,283.5L59.9,282.3M59.9,282.3L60.1,281.1M59.9,282.3L61.0,283.1M56.0,289.8L56.5,287.7M56.5,287.7L58.9,287.3M58.9,287.3L59.7,288.2M67.7,286.7L66.4,287.4M66.4,287.4L66.2,288.5M66.4,287.4L65.9,289.0M57.3,285.9L55.6,287.0M55.6,287.0L55.9,288.4M55.4,288.9L54.0,290.6M54.0,290.6L52.4,290.0M52.4,290.0L51.4,291.0M59.2,279.3L59.9,277.7M59.9,277.7L59.1,276.3M67.8,300.1L68.8,299.1M68.8,299.1L67.7,297.6M54.4,300.8L53.8,302.1M53.8,302.1L51.9,302.7M59.1,281.5L61.2,280.0M61.2,280.0L61.5,278.4M61.5,278.4L62.6,278.0M61.5,278.4L63.9,277.8M63.9,277.8L64.8,278.8M57.6,287.9L56.4,289.8M56.4,289.8L55.2,289.8M56.4,289.8L57.4,291.6M57.4,291.6L56.9,292.6M57.4,291.6L56.1,293.3M56.1,293.3L57.2,295.2M57.2,295.2L56.5,296.1M58.5,303.9L56.7,302.7M56.7,302.7L54.7,304.0M54.7,304.0L53.6,303.4M54.7,304.0L53.0,303.1M53.0,303.1L53.1,301.9M48.0,290.7L46.2,290.7M46.2,290.7L44.7,289.2M58.0,286.6L56.7,288.2M56.7,288.2L54.8,288.3M54.8,288.3L54.4,290.6M56.9,296.5L57.8,295.3M57.8,295.3L56.9,294.3M52.0,294.8L52.8,293.6M52.8,293.6L54.0,293.6M52.8,293.6L51.6,292.6M51.6,292.6L50.5,293.0M51.6,292.6L52.2,290.7M68.5,286.1L69.9,286.5M69.9,286.5L71.7,284.9M71.7,284.9L71.0,283.0M71.0,283.0L72.0,281.7M49.5,280.6L49.5,279.0M49.5,279.0L50.5,278.4M49.5,279.0L48.5,277.9M48.5,277.9L49.8,276.3M60.3,302.7L59.0,304.8M59.0,304.8L59.6,305.9M59.0,304.8L60.5,306.6M59.4,281.7L60.5,280.1M60.5,280.1L61.7,280.3M60.5,280.1L59.6,278.7M59.6,278.7L58.4,278.7M59.6,278.7L59.9,277.2M59.9,277.2L61.1,276.9M50.7,290.8L48.9,291.0M48.9,291.0L47.7,288.9M67.9,299.9L68.6,298.4M68.6,298.4L70.1,297.8M70.1,297.8L71.5,299.2M54.8,301.7L54.2,303.4M54.2,303.4L52.0,303.9M64.6,300.1L66.8,299.8M66.8,299.8L67.9,298.0M50.0,292.9L52.1,293.3M52.1,293.3L53.7,292.2M53.7,292.2L54.7,292.7M53.7,292.2L52.9,290.2M52.9,290.2L53.7,289.3M63.1,282.9L63.4,284.9M63.4,284.9L62.3,285.5M63.4,284.9L62.2,286.4M62.2,286.4L61.0,286.4M49.5,291.9L51.1,292.7M51.1,292.7L51.6,294.2M51.6,294.2L50.7,294.9M57.7,290.7L55.8,290.9M55.8,290.9L55.0,292.8M55.0,292.8L55.8,293.6M55.0,292.8L53.5,293.3M56.9,287.6L59.2,288.0M59.2,288.0L60.2,286.9M60.2,286.9L61.9,287.3M64.4,289.8L62.7,290.7M62.7,290.7L63.4,292.5M63.4,292.5L62.3,294.4M62.3,294.4L60.1,293.8M56.4,298.0L56.9,295.4M56.9,295.4L58.2,294.3M58.2,294.3L59.6,294.9M54.9,292.6L54.1,294.6M54.1,294.6L51.8,295.1M51.8,295.1L49.9,294.0M49.9,294.0L48.4,294.9M52.8,289.1L55.1,288.0M55.1,288.0L54.7,286.2M54.7,286.2L53.6,285.9M54.7,286.2L52.9,285.8M51.2,290.8L51.3,292.4M51.3,292.4L50.3,293.1M51.3,292.4L53.3,293.5M53.3,293.5L54.5,293.0M67.7,281.1L66.4,282.3M66.4,282.3L66.6,284.1M66.6,284.1L65.6,285.3M65.6,285.3L67.3,287.0M60.5,285.2L62.4,283.9M62.4,283.9L63.4,284.6M62.4,283.9L61.3,281.9M61.3,281.9L61.9,280.0M70.6,284.6L71.2,286.0M71.2,286.0L73.2,286.1M73.2,286.1L75.1,287.9M75.1,287.9L74.8,289.5M50.8,296.3L49.1,295.4M49.1,295.4L48.0,296.0M49.1,295.4L48.0,296.7M48.0,296.7L48.5,298.0M48.5,298.0L47.7,298.9M51.2,290.1L52.6,291.2M52.6,291.2L51.4,293.1M51.4,293.1L50.3,292.9M70.4,293.1L72.3,292.3M72.3,292.3L73.4,294.5M73.4,294.5L72.2,296.1M72.2,296.1L70.4,295.8M70.4,295.8L70.2,294.6M63.2,294.3L62.0,293.5M62.0,293.5L60.0,294.1M60.0,294.1L58.6,293.1M61.5,299.6L60.1,300.0M60.1,300.0L60.1,302.2M60.1,302.2L61.6,303.6M61.6,303.6L60.9,305.1M60.9,305.1L61.8,305.9M65.3,294.1L63.9,293.7M63.9,293.7L63.9,292.5M63.9,293.7L63.4,291.1M68.8,297.5L70.4,295.8M70.4,295.8L70.0,294.7M70.4,295.8L70.2,294.3M58.5,278.8L58.4,277.4M58.4,277.4L59.3,276.5M59.3,276.5L58.8,275.4M67.2,290.8L65.4,290.5M65.4,290.5L64.0,291.6M64.0,291.6L63.0,290.9M64.0,291.6L64.8,293.8M66.7,301.7L68.1,299.5M68.1,299.5L66.2,297.9M66.2,297.9L67.1,296.4M67.1,296.4L66.5,295.3M67.1,296.4L65.9,295.5M65.9,295.5L64.8,296.1M56.8,302.9L56.9,301.0M56.9,301.0L58.9,300.3M58.9,300.3L59.0,299.1M58.9,300.3L60.7,301.7M60.7,301.7L60.5,302.9M56.4,281.6L56.0,279.2M56.0,279.2L54.8,278.4M54.8,278.4L53.8,278.9M57.7,274.6L55.5,275.7M55.5,275.7L54.5,274.3M54.5,274.3L55.2,273.3M54.5,274.3L52.2,274.8M52.2,274.8L51.9,276.0M56.8,304.7L54.3,304.9M54.3,304.9L53.1,302.7M53.1,302.7L51.8,303.2M51.8,303.2L51.9,305.0M48.9,294.3L47.0,293.9M47.0,293.9L46.1,295.4M62.9,286.9L64.8,286.8M64.8,286.8L65.3,288.2M65.3,288.2L66.7,288.6M54.5,299.6L57.0,300.2M57.0,300.2L57.8,299.4M57.0,300.2L57.2,301.7M57.2,301.7L59.0,301.9M59.0,301.9L59.8,304.2M56.5,276.8L55.4,277.6M55.4,277.6L54.4,277.0M55.4,277.6L55.9,279.0M55.9,279.0L55.1,279.9M55.9,279.0L58.5,278.5M58.5,278.5L59.0,276.4M61.4,291.1L62.9,291.0M62.9,291.0L64.2,292.2M64.2,292.2L63.1,294.1M63.1,294.1L61.9,293.9M63.1,294.1L61.3,294.5M65.7,298.0L67.9,296.8M67.9,296.8L69.4,298.5M54.1,276.6L54.9,278.0M54.9,278.0L53.4,279.7M61.3,275.8L60.1,277.1M60.1,277.1L59.0,276.9M60.1,277.1L60.4,279.0M60.4,279.0L61.4,279.6M60.4,279.0L61.9,280.4M61.9,280.4L61.1,282.4M60.8,275.2L59.4,274.7M59.4,274.7L59.0,272.8M59.0,272.8L56.4,273.2M56.1,296.8L54.7,296.5M54.7,296.5L53.7,298.1M53.7,298.1L52.0,297.3M52.0,297.3L51.2,298.2M61.0,284.2L59.0,285.6M59.0,285.6L59.2,286.7M59.0,285.6L58.7,287.6M58.7,287.6L57.6,288.0M58.7,287.6L60.4,289.0M60.4,289.0L60.2,290.2M57.4,282.8L58.1,284.4M58.1,284.4L60.0,284.0M60.0,284.0L60.4,282.9M60.0,284.0L61.4,281.9M61.4,281.9L60.8,280.9M65.2,293.0L65.8,294.8M65.8,294.8L67.2,294.5M67.2,294.5L68.4,296.0M56.1,290.2L54.1,291.2M54.1,291.2L52.9,290.1M52.9,290.1L53.2,288.9M52.9,290.1L54.2,287.9M54.2,287.9L55.4,288.0M54.2,287.9L53.4,286.0M55.1,287.4L54.8,289.6M54.8,289.6L53.1,290.8M53.1,290.8L52.6,292.6M52.6,292.6L53.7,294.0M52.5,282.0L52.4,283.3M52.4,283.3L53.6,284.1M53.6,284.1L53.6,285.9M58.2,285.1L58.6,286.7M58.6,286.7L57.0,287.7M57.0,287.7L58.0,289.7M50.5,288.5L50.3,286.6M50.3,286.6L51.5,285.8M51.5,285.8L51.1,283.3M65.1,299.2L66.0,297.7M66.0,297.7L67.9,297.6M51.3,298.4L53.4,297.8M53.4,297.8L55.6,298.9M55.6,298.9L55.7,300.4M55.7,300.4L54.0,301.6M54.0,301.6L52.9,301.0M51.1,291.4L50.2,290.5M50.2,290.5L49.0,290.8M50.2,290.5L48.0,291.1M48.0,291.1L47.9,292.3M48.0,291.1L46.5,289.0M46.5,289.0L47.1,288.0M64.2,291.3L65.2,288.8M65.2,288.8L64.1,288.1M64.1,288.1L64.5,286.0M52.0,290.2L49.5,290.7M49.5,290.7L48.9,289.7M49.5,290.7L48.6,292.2M48.6,292.2L46.6,291.8M62.6,285.9L64.7,286.5M64.7,286.5L65.5,285.5M64.7,286.5L65.6,284.7M65.6,284.7L64.8,283.8M65.6,284.7L67.9,285.2M67.9,285.2L68.6,284.2M57.6,281.3L57.8,282.8M57.8,282.8L59.1,283.5M59.1,283.5L60.4,283.1M53.5,293.2L55.5,294.0M55.5,294.0L56.7,293.3M56.7,293.3L56.6,290.8M56.6,290.8L54.1,290.3M63.4,298.1L61.1,298.2M61.1,298.2L59.4,296.3M59.4,296.3L59.8,295.2M59.4,296.3L56.9,296.5M56.9,296.5L56.0,295.2M63.5,290.9L61.5,291.7M61.5,291.7L60.5,291.0M61.5,291.7L60.1,290.6M60.1,290.6L61.1,288.8M61.1,288.8L62.3,288.7M51.7,293.3L53.6,291.6M53.6,291.6L53.3,289.6M53.3,289.6L54.4,288.2M56.0,279.2L54.7,280.3M54.7,280.3L55.0,282.2M55.0,282.2L56.4,282.3M56.4,282.3L57.0,281.3M66.8,278.2L65.1,279.3M65.1,279.3L65.3,281.5M65.3,281.5L63.3,282.7M71.0,288.8L69.0,287.9M69.0,287.9L67.9,289.1M59.4,279.1L61.3,279.4M61.3,279.4L61.6,280.5M61.3,279.4L62.0,278.0M62.0,278.0L61.1,277.1M62.0,278.0L64.2,277.7M54.6,292.7L54.8,294.3M54.8,294.3L56.3,295.7M56.3,295.7L56.1,296.8M56.3,295.7L57.9,294.9M54.1,302.2L56.2,303.8M56.2,303.8L57.6,303.1M57.6,303.1L59.6,304.1M59.6,304.1L60.6,303.4M60.9,300.1L62.7,300.2M62.7,300.2L63.2,301.3M62.7,300.2L64.1,299.0M64.1,299.0L66.1,300.5M66.1,300.5L67.2,300.1M52.9,298.1L52.4,296.2M52.4,296.2L50.4,295.0M50.4,295.0L49.5,295.8M50.4,295.0L50.9,293.8M52.3,286.5L51.1,287.9M51.1,287.9L49.9,287.6M51.1,287.9L51.0,290.3M51.0,290.3L52.5,291.7M49.1,286.1L47.5,286.8M47.5,286.8L47.3,288.0M47.5,286.8L48.0,289.3M48.0,289.3L47.1,290.1M48.0,289.3L46.7,290.7M46.7,290.7L46.9,292.3M54.8,298.8L55.3,296.8M55.3,296.8L54.5,295.9M55.3,296.8L56.8,296.2M56.8,296.2L57.1,294.2M57.1,294.2L58.3,294.0M57.1,294.2L55.7,292.7M63.3,282.6L62.9,280.6M62.9,280.6L64.8,279.3M64.8,279.3L65.7,280.0M64.8,279.3L66.1,280.0M66.1,280.0L65.5,281.9M52.2,282.4L50.6,283.4M50.6,283.4L50.9,284.9M50.9,284.9L49.1,286.3M49.1,286.3L47.9,286.0M51.2,299.1L52.2,301.1M52.2,301.1L50.7,302.6M50.7,302.6L48.6,302.3M50.7,291.9L52.9,292.4M52.9,292.4L53.1,293.8M53.1,293.8L54.4,294.0M54.4,294.0L54.6,295.2M54.4,294.0L55.4,292.1M69.3,298.2L71.3,296.8M71.3,296.8L73.3,298.4M68.4,283.4L68.8,285.2M68.8,285.2L67.1,285.9M67.1,285.9L66.7,287.9M66.7,287.9L67.7,288.5M66.7,287.9L68.1,288.9M68.1,288.9L69.1,288.3M56.7,304.9L58.5,304.1M58.5,304.1L59.8,305.9M59.8,305.9L61.0,305.8M59.8,305.9L61.3,306.0M61.3,306.0L61.5,308.5M66.3,282.3L66.8,283.5M66.8,283.5L68.4,283.5M68.4,283.5L69.0,281.1M69.0,281.1L70.3,280.2M53.7,292.1L52.1,291.6M52.1,291.6L51.3,293.0M51.3,293.0L49.2,293.1M57.8,277.9L57.0,276.2M57.0,276.2L58.1,274.6M58.1,274.6L57.6,273.5M58.1,274.6L59.4,274.4M51.7,296.5L50.3,296.1M50.3,296.1L48.9,296.9M48.9,296.9L47.8,296.3M48.9,296.9L48.5,298.8M48.5,298.8L49.4,299.6M55.3,288.5L55.1,290.3M55.1,290.3L56.2,290.9M55.1,290.3L53.8,291.3M53.8,291.3L54.6,292.8M54.6,292.8L56.2,292.2M56.2,292.2L56.4,291.0M61.3,294.5L61.4,297.0M61.4,297.0L60.0,297.6M60.0,297.6L60.4,299.6M53.1,283.9L52.9,282.1M52.9,282.1L55.0,280.7M55.0,280.7L56.5,281.8M56.5,281.8L57.6,280.5M61.8,297.3L60.5,298.0M60.5,298.0L59.5,297.4M60.5,298.0L59.9,300.1M59.9,300.1L61.1,300.8M61.1,300.8L62.1,300.1M61.1,300.8L61.6,302.1M66.7,285.1L66.1,283.0M66.1,283.0L67.2,281.7M67.2,281.7L68.3,282.1M67.2,281.7L68.8,281.7M68.8,281.7L69.5,280.7M68.8,281.7L70.0,280.6M60.1,292.4L59.2,293.3M59.2,293.3L59.3,294.9M59.3,294.9L60.6,295.7M69.0,287.5L70.6,287.6M70.6,287.6L70.9,285.8M47.8,295.8L49.3,294.6M49.3,294.6L51.0,294.8M51.0,294.8L50.9,297.4M50.9,297.4L51.9,298.1M50.9,297.4L48.6,297.5M53.3,298.1L55.1,297.8M55.1,297.8L56.0,296.2M56.0,296.2L54.2,294.7M54.2,294.7L54.6,293.6M55.5,289.4L53.8,288.4M53.8,288.4L53.7,286.9M60.0,281.4L57.8,282.4M57.8,282.4L58.2,283.7M58.2,283.7L56.3,284.5M59.2,293.9L57.7,294.6M57.7,294.6L58.1,296.5M58.1,296.5L57.1,297.2M58.1,296.5L56.4,297.4M52.2,288.2L54.1,289.3M54.1,289.3L53.4,291.5M53.4,291.5L54.3,292.3M53.4,291.5L51.0,291.7M63.5,290.8L61.9,290.8M61.9,290.8L61.2,289.3M53.6,283.0L52.8,284.2M52.8,284.2L51.6,284.1M52.8,284.2L54.3,286.2M54.3,286.2L53.3,287.8M53.3,287.8L54.2,289.2M54.2,289.2L55.3,289.3M56.0,291.5L54.2,290.1M54.2,290.1L54.2,288.0M54.2,288.0L52.8,287.5M52.8,287.5L51.4,288.9M51.4,288.9L52.0,290.0M53.2,291.2L55.3,290.1M55.3,290.1L56.1,291.0M55.3,290.1L57.1,291.3M57.1,291.3L56.2,293.0M56.6,289.5L56.2,290.9M56.2,290.9L54.2,291.3M54.2,291.3L53.1,293.3M59.2,294.9L61.4,295.9M61.4,295.9L61.5,297.1M61.4,295.9L63.0,294.5M63.0,294.5L64.0,295.1M63.0,294.5L64.6,294.9M64.6,294.9L65.5,294.1M60.4,287.3L58.2,287.0M58.2,287.0L57.1,288.0M57.1,288.0L56.0,287.4M57.1,288.0L55.4,287.6M55.4,287.6L55.1,286.5M55.4,287.6L54.5,289.6M54.5,289.6L53.3,289.7M58.1,289.9L57.4,287.7M57.4,287.7L58.6,286.0M53.9,291.2L56.0,292.2M56.0,292.2L56.9,291.5M56.0,292.2L56.7,293.8M56.7,293.8L56.0,295.3M56.0,295.3L53.9,295.7M53.9,295.7L53.7,296.9M59.9,287.7L60.5,289.1M60.5,289.1L59.7,290.0M60.5,289.1L59.2,290.3M63.0,285.7L64.7,284.9M64.7,284.9L65.7,285.5M64.7,284.9L64.3,282.6M64.3,282.6L66.0,281.9M59.0,287.2L58.2,288.6M58.2,288.6L56.7,288.1M56.7,288.1L55.3,288.7M55.3,288.7L54.2,291.0M54.2,291.0L53.0,290.9M56.9,288.9L56.9,287.4M56.9,287.4L55.9,286.7M56.9,287.4L55.4,285.9M55.4,285.9L54.3,286.4M55.4,285.9L53.4,286.8M57.7,290.4L58.2,292.5M58.2,292.5L56.9,294.2M56.9,294.2L54.8,294.6M54.8,294.6L53.6,296.7M53.6,296.7L54.5,297.5M56.5,284.9L55.7,287.1M55.7,287.1L57.0,289.2M57.0,289.2L56.2,290.2M57.0,289.2L58.5,289.5M64.4,287.1L65.7,288.0M65.7,288.0L66.9,287.6M65.7,288.0L67.3,287.7M67.3,287.7L68.0,288.6M67.3,287.7L67.1,285.9M59.5,286.8L60.7,285.7M60.7,285.7L63.0,286.7M63.0,286.7L63.0,287.9M63.0,286.7L64.6,285.7M60.8,282.9L61.0,284.3M61.0,284.3L59.7,285.5M59.7,285.5L60.1,286.6M59.1,284.8L60.9,284.7M60.9,284.7L62.7,286.4M62.7,286.4L64.7,285.6M64.7,285.6L65.6,286.4M60.2,295.5L62.6,295.6M62.6,295.6L63.3,293.8M63.3,293.8L62.7,292.8M63.3,293.8L64.9,293.3M64.9,293.3L65.3,292.1M64.9,293.3L64.8,291.4M58.9,284.0L61.0,285.3M61.0,285.3L60.8,287.4M60.8,287.4L61.9,288.9M64.9,286.8L67.2,286.1M67.2,286.1L67.9,287.0M67.2,286.1L67.7,287.3M67.7,287.3L66.2,289.1M66.2,289.1L66.9,290.3M55.3,283.5L56.3,282.7M56.3,282.7L57.5,282.9M56.3,282.7L58.1,283.0M58.1,283.0L58.9,282.1M62.2,284.5L63.4,285.5M63.4,285.5L65.4,285.0M65.4,285.0L65.7,283.7M65.7,283.7L66.9,283.4M52.9,285.9L50.8,285.8M50.8,285.8L50.2,287.2M55.9,291.9L54.5,291.2M54.5,291.2L52.6,292.1M52.6,292.1L53.0,294.5M58.7,293.9L57.7,295.2M57.7,295.2L58.2,296.3M57.7,295.2L56.0,295.3M56.0,295.3L55.5,297.7M55.5,297.7L54.4,298.2M51.7,286.2L52.1,283.7M52.1,283.7L50.5,282.7M50.5,282.7L49.0,284.2M62.2,284.8L61.9,286.2M61.9,286.2L63.5,286.7M63.5,286.7L64.8,285.1M64.8,285.1L64.4,283.9M55.8,297.1L55.3,299.3M55.3,299.3L54.1,299.8M54.1,282.2L55.8,282.6M55.8,282.6L57.1,281.8M57.1,281.8L56.3,279.8M56.3,279.8L55.1,279.7M51.5,286.0L52.5,287.6M52.5,287.6L53.7,287.6M52.5,287.6L54.8,287.8M54.8,287.8L55.2,289.0M54.8,287.8L55.2,286.4M55.2,286.4L54.3,285.6M64.4,289.2L63.1,290.9M63.1,290.9L61.0,290.7M61.0,290.7L60.7,289.5M61.0,290.7L59.8,291.6M59.8,291.6L60.2,292.7M53.1,287.7L54.2,289.4M54.2,289.4L52.7,291.6M52.7,291.6L50.3,291.7M58.4,289.1L58.0,291.3M58.0,291.3L55.6,291.3M55.6,291.3L54.9,292.3M55.6,291.3L54.7,292.8M61.1,291.1L60.8,289.6M60.8,289.6L62.0,288.1M61.8,295.7L63.1,295.5M63.1,295.5L63.8,296.5M63.1,295.5L64.2,297.2M64.2,297.2L65.8,296.5M65.8,296.5L65.6,295.3M57.4,294.1L56.3,295.1M56.3,295.1L54.9,294.6M54.9,294.6L53.5,295.8M62.8,290.7L65.0,289.8M65.0,289.8L67.3,290.8M67.3,290.8L68.2,290.0M67.3,290.8L68.5,290.2M61.1,286.8L60.9,288.6M60.9,288.6L58.4,288.8M58.4,288.8L58.0,290.0M58.4,288.8L57.5,287.7M60.4,288.0L60.5,290.2M60.5,290.2L59.4,290.8M60.5,290.2L59.0,290.9M59.0,290.9L57.2,290.2M51.9,286.5L53.9,285.8M53.9,285.8L54.8,283.5M61.4,287.0L59.2,286.1M59.2,286.1L58.2,286.8M59.2,286.1L58.2,287.0M58.2,287.0L55.9,286.2M55.9,286.2L55.9,285.0M55.9,286.2L55.9,284.7M82.4,283.8L84.8,283.4M84.8,283.4L85.8,285.6M85.8,285.6L83.9,287.1M83.9,287.1L83.9,288.3M85.8,287.7L87.4,287.1M87.4,287.1L88.3,287.9M87.4,287.1L89.0,289.1M89.0,289.1L87.8,291.4M86.7,301.0L86.8,299.1M86.8,299.1L85.7,298.5M86.8,299.1L85.4,298.8M85.4,298.8L85.5,296.5M80.7,296.5L81.9,298.1M81.9,298.1L83.2,297.9M83.2,297.9L83.6,299.0M76.8,302.6L79.1,303.4M79.1,303.4L79.8,305.1M79.8,305.1L82.2,305.8M82.2,305.8L82.9,304.8M78.2,289.3L78.3,290.7M78.3,290.7L79.7,291.6M79.7,291.6L81.3,291.0M81.3,291.0L81.2,289.6M77.0,291.1L75.5,290.9M75.5,290.9L74.8,291.8M75.5,290.9L74.3,289.2M74.3,289.2L74.9,288.1M74.3,289.2L75.5,287.5M75.5,287.5L76.7,287.5M81.6,289.1L81.5,290.6M81.5,290.6L80.4,291.4M80.4,291.4L80.2,293.8M80.2,293.8L79.1,294.4M91.3,290.9L90.7,288.8M90.7,288.8L88.7,289.1M88.7,289.1L88.3,290.8M91.3,293.8L92.4,291.7M92.4,291.7L94.6,292.3M94.6,292.3L96.0,290.3M96.0,290.3L95.3,289.3M96.0,290.3L98.2,291.1M76.7,295.0L77.6,292.6M77.6,292.6L76.6,291.2M76.6,291.2L77.2,290.1M76.6,291.2L74.3,291.1M74.3,291.1L73.9,289.4M73.9,289.4L74.9,288.7M79.9,307.1L79.7,305.3M79.7,305.3L77.5,304.0M77.5,304.0L77.7,302.8M77.5,304.0L76.3,305.2M76.3,305.2L76.6,306.4M76.3,305.2L74.9,304.7M83.4,294.0L85.5,293.9M85.5,293.9L86.6,295.2M86.6,295.2L88.3,295.1M83.3,294.1L84.2,296.0M84.2,296.0L83.1,297.9M83.1,297.9L81.1,297.4M81.1,297.4L79.9,299.6M79.9,299.6L80.5,300.7M81.5,301.0L84.1,301.4M84.1,301.4L85.4,303.5M85.4,303.5L85.1,305.2M85.1,305.2L83.9,305.4M82.2,300.5L84.3,301.9M84.3,301.9L85.3,300.7M86.6,298.6L86.5,297.0M86.5,297.0L85.4,296.1M80.8,291.8L81.8,293.6M81.8,293.6L83.8,293.5M83.8,293.5L85.2,291.5M85.2,291.5L84.8,289.9M88.4,295.7L88.3,293.9M88.3,293.9L89.4,293.4M88.3,293.9L87.0,293.4M92.8,298.0L91.3,298.7M91.3,298.7L90.3,298.1M91.3,298.7L91.6,301.1M91.6,301.1L90.4,302.6M84.0,292.7L85.4,293.8M85.4,293.8L86.7,292.6M86.7,292.6L88.6,294.0M88.6,294.0L88.5,295.2M75.4,299.7L73.5,300.9M73.5,300.9L72.2,300.2M72.2,300.2L71.4,298.3M84.1,304.0L86.0,303.4M86.0,303.4L87.5,305.3M87.5,305.3L88.6,305.1M87.5,305.3L86.7,306.5M80.7,293.9L81.1,296.1M81.1,296.1L80.2,296.9M81.1,296.1L79.0,297.2M79.0,297.2L79.2,299.1M79.2,299.1L80.4,299.4M85.1,287.5L85.8,288.6M85.8,288.6L87.2,288.0M87.2,288.0L86.6,285.6M86.6,285.6L87.8,284.1M87.8,284.1L88.9,284.4M76.6,289.0L77.1,291.5M77.1,291.5L78.9,292.4M78.9,292.4L80.4,290.9M80.4,290.9L82.0,291.8M80.6,305.3L82.5,305.2M82.5,305.2L83.0,303.1M83.0,303.1L84.2,302.8M83.0,303.1L81.7,302.7M81.7,302.7L80.8,304.1M81.4,300.0L82.9,300.3M82.9,300.3L83.7,301.7M83.7,301.7L83.1,303.3M89.1,293.3L88.4,291.9M88.4,291.9L89.2,291.0M88.4,291.9L89.4,291.1M89.4,291.1L91.1,292.6M81.1,291.7L82.1,293.7M82.1,293.7L84.6,294.2M84.6,294.2L85.2,293.2M84.6,294.2L85.6,295.8M85.6,295.8L84.5,296.8M90.4,296.7L91.5,297.7M91.5,297.7L93.0,296.4M93.0,296.4L91.6,294.7M91.6,294.7L90.4,294.9M84.9,286.9L83.7,285.2M83.7,285.2L82.2,285.5M82.2,285.5L81.2,284.2M81.2,284.2L81.9,281.8M81.9,281.8L80.9,281.1M81.6,290.2L80.0,291.1M80.0,291.1L80.5,293.4M80.5,293.4L81.7,293.7M80.5,293.4L79.1,295.4M89.1,296.6L87.1,297.2M87.1,297.2L86.9,299.4M86.9,299.4L88.8,299.7M80.0,307.6L79.2,306.1M79.2,306.1L77.9,305.6M77.9,305.6L76.7,306.8M82.2,284.2L82.0,286.2M82.0,286.2L80.9,286.5M82.0,286.2L84.5,286.9M84.5,286.9L85.0,288.0M77.0,304.0L76.8,302.5M76.8,302.5L75.7,302.0M76.8,302.5L75.5,301.4M75.5,301.4L73.8,302.4M73.8,302.4L73.7,303.6M73.8,302.4L73.5,304.6M73.5,304.6L74.4,305.4M90.7,294.7L89.0,295.1M89.0,295.1L88.7,297.4M88.7,297.4L90.8,298.0M90.8,298.0L91.7,299.7M80.6,286.7L80.4,288.9M80.4,288.9L81.4,289.5M80.4,288.9L81.8,290.6M92.5,295.5L90.3,295.2M90.3,295.2L89.9,293.5M90.1,293.8L87.8,294.1M87.8,294.1L87.4,295.3M87.8,294.1L87.5,295.8M87.5,295.8L86.3,295.9M87.5,295.8L89.0,297.7M89.0,297.7L88.5,299.6M77.2,289.8L78.1,292.1M78.1,292.1L76.6,293.3M76.6,293.3L74.3,292.8M74.3,292.8L74.4,291.4M74.4,291.4L75.5,291.0M88.6,289.3L89.2,291.2M89.2,291.2L87.6,292.5M87.6,292.5L88.3,294.9M76.0,295.9L75.9,297.8M75.9,297.8L77.7,298.3M73.2,293.7L72.5,296.0M72.5,296.0L73.6,297.1M73.6,297.1L76.2,297.1M86.3,305.5L86.1,307.4M86.1,307.4L88.2,308.7M88.2,308.7L88.2,309.9M88.2,308.7L89.7,308.0M89.7,308.0L89.9,306.8M89.7,308.0L90.1,305.7M90.1,305.7L89.2,304.9M83.7,293.6L84.2,295.0M84.2,295.0L86.2,295.0M80.0,296.7L81.4,298.0M81.4,298.0L80.3,299.4M80.3,299.4L78.3,298.9M83.3,297.2L83.2,298.5M83.2,298.5L84.8,298.8M84.8,298.8L85.8,298.1M81.0,294.3L82.8,295.5M82.8,295.5L84.3,294.6M84.3,294.6L84.5,293.2M88.6,294.5L87.6,296.2M87.6,296.2L86.4,295.9M87.6,296.2L85.1,295.3M85.1,295.3L84.8,293.6M84.7,284.3L84.1,286.1M84.1,286.1L82.9,286.1M84.1,286.1L81.7,286.7M83.4,291.6L81.9,291.2M81.9,291.2L80.5,291.7M80.5,291.7L79.6,290.9M80.5,291.7L78.2,290.6M78.2,290.6L78.2,289.4M74.4,296.3L73.7,297.5M73.7,297.5L74.9,299.0M74.9,299.0L76.8,299.1M76.8,299.1L77.5,297.5M67.4,288.9L65.1,288.7M65.1,288.7L64.7,290.3M64.7,290.3L62.7,291.6M62.7,291.6L61.6,291.2M66.0,288.5L66.9,290.2M66.9,290.2L68.9,289.8M68.9,289.8L70.3,291.3M70.3,291.3L70.2,293.2M70.2,293.2L71.2,293.9M79.3,288.2L78.2,286.5M78.2,286.5L79.4,285.4M79.4,285.4L80.9,286.2M71.9,279.5L71.7,278.0M71.7,278.0L70.5,277.7M71.7,278.0L70.4,277.1M70.4,277.1L70.9,275.4M72.5,283.3L70.7,281.8M70.7,281.8L71.3,280.2M71.3,280.2L70.3,278.0M66.2,290.0L68.0,289.7M68.0,289.7L68.9,290.5M68.0,289.7L69.6,291.4M71.0,285.9L72.5,284.4M72.5,284.4L71.7,282.5M71.7,282.5L72.7,281.2M72.7,281.2L72.2,279.7M70.7,287.8L71.2,289.7M71.2,289.7L69.5,290.3M69.5,290.3L68.6,289.5M69.5,290.3L69.9,292.4M69.9,292.4L69.1,293.3M65.7,287.1L66.6,288.5M66.6,288.5L65.8,290.2M65.8,290.2L64.5,290.0M64.5,290.0L63.6,287.9M70.3,284.3L72.3,283.2M72.3,283.2L73.6,284.2M73.6,284.2L74.6,283.5M73.6,284.2L75.2,282.8M75.2,282.8L76.2,283.5M75.2,282.8L77.1,283.5M77.1,283.5L78.1,282.8M78.0,289.2L78.8,290.6M78.8,290.6L77.1,292.1M77.1,292.1L77.5,293.2M77.1,292.1L75.5,290.5M73.1,284.8L70.8,284.4M70.8,284.4L70.0,282.7M73.3,291.9L72.8,290.3M72.8,290.3L71.7,289.9M72.8,290.3L71.4,290.3M71.4,290.3L70.6,292.2M74.7,286.7L72.6,288.1M72.6,288.1L72.5,289.3M72.6,288.1L70.5,287.6M70.5,287.6L69.8,288.6M70.5,287.6L70.7,286.2M70.7,286.2L69.7,285.6M74.0,282.3L76.3,283.2M76.3,283.2L78.3,282.6M78.3,282.6L79.5,280.3M69.3,280.7L71.2,281.5M71.2,281.5L71.8,282.7M71.8,282.7L73.6,283.3M73.6,283.3L73.6,284.5M74.3,286.1L72.1,284.9M72.1,284.9L69.9,285.5M69.9,285.5L68.2,283.8M68.2,283.8L67.0,284.1M68.2,283.8L68.3,282.0M68.3,282.0L67.3,281.4M66.8,280.8L65.8,283.0M65.8,283.0L64.5,282.8M70.0,291.2L70.4,292.9M70.4,292.9L71.7,293.2M71.7,293.2L72.1,294.9M72.1,294.9L73.8,295.4M70.1,291.3L68.9,292.9M68.9,292.9L67.6,292.3M67.6,292.3L65.6,293.6M66.0,290.5L65.2,292.7M65.2,292.7L63.0,293.0M63.0,293.0L61.9,295.2M61.9,295.2L60.7,295.3M64.1,285.4L62.3,286.2M62.3,286.2L62.3,287.4M62.3,286.2L60.7,285.6M60.7,285.6L59.7,287.8M59.7,287.8L58.5,287.8M72.4,290.1L71.3,288.2M71.3,288.2L72.1,286.2M88.0,286.0L89.4,285.4M89.4,285.4L89.7,283.9M89.4,285.4L89.3,286.7M89.4,285.4L90.9,283.9M90.9,283.9L92.3,283.6M90.9,283.9L90.0,284.9M90.9,283.9L91.4,282.6M91.4,282.6L91.9,284.1M91.4,282.6L92.1,281.5M92.0,282.0L93.1,280.0M93.1,280.0L91.6,280.3M93.1,280.0L91.8,280.0M93.1,280.0L94.9,280.3M94.9,280.3L93.5,279.5M48.0,300.0L48.8,301.3M48.8,301.3L47.5,302.0M48.8,301.3L50.1,301.3M48.8,301.3L48.7,303.5M48.7,303.5L50.2,303.4M48.7,303.5L49.4,306.5M49.4,306.5L50.7,307.4M49.4,306.5L50.7,306.7M50.0,306.0L52.0,307.0M52.0,307.0L53.5,306.9M52.0,307.0L53.4,308.1M53.4,308.1L52.4,309.2M53.4,308.1L54.3,309.7M54.3,309.7L53.1,310.5M54.3,309.7L53.9,308.4" stroke="#46b868" stroke-width="0.38" stroke-linecap="round" fill="none" opacity="0.85"/>
<path d="M169.6,278.4L171.5,276.9M171.5,276.9L172.9,278.1M177.3,286.2L175.4,284.8M175.4,284.8L174.4,285.5M175.4,284.8L175.7,283.0M175.7,283.0L174.4,282.3M174.4,282.3L173.5,283.1M174.4,282.3L174.2,280.5M155.2,282.6L155.8,284.3M155.8,284.3L157.1,284.7M162.5,279.8L164.2,278.4M164.2,278.4L163.5,276.0M163.5,276.0L161.5,275.1M161.5,275.1L161.2,273.8M174.5,279.7L175.6,281.6M175.6,281.6L177.4,281.9M177.4,281.9L177.6,283.0M177.4,281.9L178.6,280.6M185.4,275.9L183.1,276.2M183.1,276.2L183.1,278.2M183.1,278.2L184.2,278.6M183.1,278.2L184.1,279.2M158.4,299.1L156.8,297.3M156.8,297.3L157.0,296.1M156.8,297.3L155.5,298.0M178.8,288.5L178.2,286.3M178.2,286.3L178.9,284.8M178.9,284.8L177.3,283.0M164.3,277.1L165.6,277.5M165.6,277.5L166.1,276.3M166.1,276.3L165.2,275.3M186.0,297.0L184.8,295.6M184.8,295.6L182.4,295.7M164.3,273.8L163.8,275.5M163.8,275.5L165.1,276.5M165.1,276.5L165.1,278.0M161.9,275.2L162.9,273.3M162.9,273.3L164.3,272.7M164.3,272.7L165.9,273.9M176.1,298.0L175.9,295.4M175.9,295.4L174.3,295.0M174.3,295.0L173.1,296.1M169.1,300.7L168.4,302.2M168.4,302.2L166.6,303.0M166.6,303.0L166.4,304.7M166.4,304.7L165.3,305.0M166.4,304.7L164.8,305.0M174.0,298.5L174.4,296.6M174.4,296.6L175.8,296.5M175.8,296.5L176.0,294.5M163.2,282.3L163.8,284.2M163.8,284.2L162.5,285.6M162.5,285.6L160.8,285.6M160.8,285.6L159.1,287.5M169.1,283.3L166.7,283.1M166.7,283.1L166.2,284.2M166.7,283.1L166.3,284.8M166.3,284.8L164.6,284.8M158.2,294.0L158.5,292.5M158.5,292.5L159.7,292.5M158.5,292.5L157.1,291.6M157.1,291.6L157.4,290.4M157.1,291.6L155.1,293.2M155.1,293.2L155.2,294.4M155.1,293.2L155.8,295.6M183.6,273.5L186.0,274.0M186.0,274.0L187.1,272.5M187.1,272.5L188.3,272.8M187.1,272.5L186.0,271.1M181.4,293.5L182.4,294.9M182.4,294.9L181.4,296.3M181.4,296.3L180.3,295.9M170.0,276.1L168.4,275.2M168.4,275.2L167.3,276.5M167.3,276.5L166.1,276.3M158.1,288.3L159.0,289.8M159.0,289.8L158.2,290.7M159.0,289.8L160.3,290.0M168.2,277.4L167.1,279.1M167.1,279.1L167.7,280.1M167.1,279.1L165.7,279.4M165.7,279.4L165.1,280.4M165.7,279.4L165.2,280.6M165.2,280.6L165.8,281.6M165.2,280.6L163.5,281.1M160.5,298.9L161.2,296.9M161.2,296.9L162.6,297.3M162.6,297.3L163.7,299.0M163.7,299.0L164.9,299.0M180.2,289.7L182.4,290.8M182.4,290.8L184.4,290.0M184.4,290.0L185.4,290.7M184.4,290.0L186.1,291.5M180.6,298.6L179.2,299.0M179.2,299.0L178.0,297.8M176.2,298.5L177.8,298.4M177.8,298.4L178.1,299.9M178.1,299.9L179.2,300.4M178.1,299.9L180.3,301.1M185.8,283.0L185.4,284.5M185.4,284.5L187.7,285.7M187.7,285.7L187.7,286.9M187.7,285.7L189.1,284.6M189.1,284.6L190.5,285.7M187.7,293.9L189.6,294.0M189.6,294.0L190.4,292.5M190.4,292.5L192.0,292.9M192.0,292.9L192.5,294.9M174.3,288.0L173.6,290.3M173.6,290.3L172.4,290.4M173.6,290.3L171.2,290.6M171.2,290.6L170.8,291.7M171.2,290.6L170.6,291.8M175.5,278.3L174.0,278.9M174.0,278.9L173.3,280.4M173.3,280.4L171.0,280.8M171.0,280.8L170.5,279.7M171.0,280.8L170.3,279.2M163.9,300.6L165.3,300.5M165.3,300.5L165.8,299.0M165.8,299.0L167.1,299.2M170.3,304.2L168.5,304.5M168.5,304.5L167.5,303.0M167.5,303.0L165.9,302.7M173.6,277.9L172.1,278.7M172.1,278.7L169.7,277.7M170.9,298.7L172.9,298.4M172.9,298.4L173.3,297.3M172.9,298.4L173.8,299.4M173.8,299.4L175.5,299.0M175.5,299.0L177.0,300.1M177.0,300.1L178.1,299.7M164.1,290.2L166.0,289.2M166.0,289.2L167.0,290.0M166.0,289.2L166.4,286.6M166.4,286.6L168.5,286.0M168.5,286.0L169.2,287.0M158.7,285.8L159.1,287.0M159.1,287.0L160.5,287.8M160.5,287.8L160.6,289.0M181.8,277.7L181.8,279.5M181.8,279.5L180.6,279.8M181.8,279.5L183.5,281.2M183.5,281.2L184.7,281.0M168.3,276.1L166.4,277.6M166.4,277.6L166.3,279.3M184.1,294.9L186.1,295.4M186.1,295.4L187.5,293.3M187.5,293.3L187.2,291.5M187.2,291.5L188.0,290.6M162.5,296.5L162.9,294.5M162.9,294.5L161.7,293.5M161.7,293.5L160.0,294.1M160.0,294.1L159.0,293.4M160.0,294.1L160.0,295.5M175.2,300.1L176.8,300.5M176.8,300.5L178.2,298.5M178.2,298.5L179.4,298.5M181.5,285.4L181.5,287.5M181.5,287.5L180.4,288.0M181.5,287.5L180.2,287.7M180.2,287.7L179.7,286.6M180.2,287.7L178.3,286.3M178.3,286.3L177.1,286.6M187.2,295.2L189.6,296.0M189.6,296.0L190.4,295.1M189.6,296.0L189.9,297.5M189.9,297.5L188.9,298.7M188.9,298.7L187.7,298.6M188.9,298.7L190.3,300.8M190.3,300.8L191.4,300.5M178.5,273.4L177.1,273.8M177.1,273.8L176.5,272.4M176.5,272.4L174.1,272.4M174.1,272.4L173.5,271.4M174.1,272.4L173.8,273.9M164.4,277.2L163.3,275.3M163.3,275.3L163.8,272.9M163.8,272.9L165.3,272.2M182.7,281.5L184.2,279.5M184.2,279.5L185.4,279.7M184.2,279.5L184.1,277.3M184.1,277.3L185.2,276.2M157.7,274.9L156.7,275.9M156.7,275.9L155.6,275.2M155.6,275.2L154.4,275.6M155.6,275.2L156.0,273.9M156.0,273.9L155.0,273.2M168.8,280.5L170.8,280.6M170.8,280.6L171.2,281.9M171.2,281.9L170.2,284.2M170.2,284.2L169.0,284.3M170.2,284.2L171.8,285.2M166.6,303.2L167.9,304.6M167.9,304.6L167.8,306.7M167.0,288.8L168.7,289.8M168.7,289.8L170.1,289.1M170.1,289.1L170.2,287.9M170.1,289.1L171.5,289.4M182.8,291.5L182.2,293.7M182.2,293.7L181.0,293.8M182.2,293.7L180.4,294.4M180.4,294.4L179.1,292.1M158.1,283.1L156.4,282.7M156.4,282.7L154.9,284.0M158.2,284.3L156.7,282.6M156.7,282.6L157.2,281.5M156.7,282.6L154.3,282.7M154.3,282.7L154.0,280.6M173.4,296.0L171.5,294.5M171.5,294.5L171.5,292.9M171.5,292.9L174.0,292.3M174.0,292.3L174.4,291.1M185.1,298.3L186.8,300.1M186.8,300.1L189.0,299.7M189.0,299.7L190.0,297.8M190.0,297.8L188.4,296.1M169.9,288.8L169.6,290.8M169.6,290.8L168.5,291.3M169.6,290.8L171.0,292.8M171.0,292.8L172.6,292.0M168.2,270.4L166.4,270.4M166.4,270.4L165.8,268.7M165.8,268.7L167.3,266.9M167.3,266.9L166.7,265.8M176.7,298.3L175.1,296.3M175.1,296.3L175.7,295.0M171.2,270.1L171.5,271.6M171.5,271.6L173.1,271.9M173.1,271.9L173.8,270.9M173.1,271.9L173.8,269.5M160.3,298.4L158.3,297.9M158.3,297.9L158.6,296.2M161.3,292.5L160.7,294.5M160.7,294.5L158.4,294.5M158.4,294.5L156.9,293.1M156.9,293.1L157.4,292.0M177.9,279.2L179.1,277.2M179.1,277.2L177.5,275.6M177.5,275.6L176.4,276.1M177.5,275.6L175.9,276.4M175.9,276.4L174.5,275.9M160.4,290.8L159.6,293.2M159.6,293.2L158.4,293.6M159.6,293.2L157.3,293.5M157.3,293.5L155.8,292.5M155.8,292.5L154.7,292.9M179.2,272.4L176.8,272.6M176.8,272.6L176.3,274.4M176.3,274.4L174.9,274.3M174.9,274.3L174.5,275.4M174.9,274.3L174.0,272.4M183.6,290.2L185.3,289.4M185.3,289.4L186.1,290.2M185.3,289.4L185.0,287.4M185.0,287.4L185.9,286.6M185.0,287.4L182.8,286.6M182.8,286.6L182.6,285.5M166.1,272.7L168.2,273.1M168.2,273.1L169.1,272.0M184.2,277.6L186.6,278.0M186.6,278.0L187.6,280.3M182.2,286.3L180.6,287.4M180.6,287.4L180.1,289.4M180.1,289.4L178.4,290.6M178.4,290.6L178.1,292.2M178.1,292.2L176.9,292.3M172.4,278.7L171.1,276.9M171.1,276.9L171.7,275.8M171.1,276.9L168.9,276.7M168.9,276.7L168.4,275.6M168.9,276.7L168.2,278.7M154.8,284.8L153.4,283.1M153.4,283.1L152.2,283.3M153.4,283.1L154.1,281.4M154.1,281.4L152.0,280.0M179.1,291.9L179.6,293.3M179.6,293.3L181.0,293.4M181.0,293.4L182.2,291.6M182.2,291.6L183.3,291.8M165.6,301.4L166.6,299.1M166.6,299.1L168.0,299.5M182.4,286.8L180.9,288.1M180.9,288.1L179.5,287.6M179.5,287.6L178.8,288.7M167.3,295.6L166.1,294.5M166.1,294.5L166.9,292.7M166.9,292.7L165.9,291.0M165.9,291.0L166.5,290.0M165.9,291.0L167.4,289.6M165.9,293.2L164.3,291.8M164.3,291.8L164.2,290.5M164.2,290.5L165.2,289.8M164.2,290.5L162.8,290.3M162.8,290.3L162.0,291.2M180.2,286.8L181.5,288.7M181.5,288.7L180.3,291.0M180.3,291.0L178.9,291.2M180.5,283.2L180.2,281.3M180.2,281.3L182.4,280.5M182.4,280.5L182.7,279.4M187.6,281.2L187.6,279.8M187.6,279.8L186.3,279.1M166.5,297.1L165.1,296.2M165.1,296.2L165.6,293.9M182.1,281.7L182.0,284.2M182.0,284.2L183.0,284.7M182.0,284.2L180.1,285.8M180.1,285.8L179.0,285.5M180.1,285.8L178.3,284.9M158.4,286.4L157.6,285.0M157.6,285.0L156.4,285.2M157.6,285.0L158.7,283.8M158.7,283.8L160.8,283.6M160.8,283.6L161.7,284.5M160.8,283.6L162.6,285.5M180.2,285.4L179.6,287.4M179.6,287.4L180.7,289.6M169.9,283.6L171.0,282.3M171.0,282.3L169.6,280.9M169.6,280.9L169.7,279.1M169.7,279.1L170.8,278.6M157.4,279.8L156.4,278.0M156.4,278.0L155.2,278.1M156.4,278.0L154.4,278.9M154.4,278.9L153.4,278.2M182.0,279.5L180.8,277.2M180.8,277.2L179.5,276.8M174.0,295.3L171.9,294.3M171.9,294.3L172.0,293.1M171.9,294.3L170.2,295.2M175.7,271.8L175.5,270.3M175.5,270.3L174.0,269.4M174.0,269.4L173.1,270.2M174.0,269.4L172.4,269.8M164.2,277.0L164.8,275.3M164.8,275.3L166.3,274.8M166.3,274.8L166.6,273.3M166.6,273.3L167.8,273.0M177.5,299.8L176.0,301.4M176.0,301.4L174.8,301.1M176.0,301.4L176.3,302.8M176.3,302.8L174.2,303.5M174.2,303.5L172.1,302.5M172.1,302.5L171.0,303.0M175.6,287.7L173.7,287.1M173.7,287.1L172.7,288.2M172.7,288.2L173.1,289.7M173.1,289.7L174.3,290.0M163.7,285.5L162.6,287.0M162.6,287.0L160.6,287.0M160.6,287.0L159.4,285.5M159.4,285.5L160.1,284.3M185.3,278.5L183.6,279.5M183.6,279.5L183.5,280.7M183.6,279.5L182.3,278.9M182.3,278.9L180.9,279.6M181.2,284.5L182.5,285.4M182.5,285.4L184.3,284.0M182.7,286.2L183.1,288.7M183.1,288.7L184.3,289.6M186.2,283.2L188.7,283.9M188.7,283.9L189.6,283.0M188.7,283.9L189.7,283.0M189.7,283.0L189.0,281.3M157.8,278.6L156.1,279.6M156.1,279.6L155.1,278.2M155.1,278.2L155.7,277.2M162.0,284.3L161.3,282.5M161.3,282.5L162.5,280.9M162.5,280.9L162.1,278.5M162.1,278.5L161.0,278.1M164.6,295.5L164.5,297.8M164.5,297.8L163.2,299.2M163.2,299.2L162.1,298.3M175.8,285.5L175.3,283.1M175.3,283.1L173.8,282.2M173.8,282.2L172.8,282.8M173.8,282.2L172.2,283.5M161.1,285.0L159.0,286.2M159.0,286.2L159.0,288.7M178.8,285.8L179.4,287.1M179.4,287.1L178.7,288.0M179.4,287.1L181.9,287.6M181.9,287.6L182.5,286.6M184.4,276.5L183.4,277.4M183.4,277.4L183.4,279.5M183.4,279.5L184.6,279.8M183.4,279.5L185.1,280.5M185.1,280.5L184.2,282.3M176.0,297.8L174.5,299.5M174.5,299.5L175.6,301.5M175.6,301.5L173.7,303.1M185.7,296.6L186.4,298.2M186.4,298.2L187.6,298.3M186.4,298.2L185.1,300.4M185.1,300.4L183.9,300.4M185.1,300.4L186.2,302.4M186.2,302.4L185.4,304.5M164.1,295.3L163.9,297.1M163.9,297.1L165.3,297.8M161.3,298.5L163.0,297.1M163.0,297.1L162.6,296.0M163.0,297.1L165.1,298.2M165.1,298.2L164.8,300.1M187.4,294.6L188.6,293.0M188.6,293.0L190.4,293.3M190.4,293.3L190.8,294.4M190.4,293.3L191.3,295.2M169.9,285.0L171.4,285.0M171.4,285.0L171.9,283.9M171.4,285.0L172.6,286.8M172.6,286.8L171.1,288.1M171.1,288.1L169.9,287.8M163.4,291.1L164.5,292.1M164.5,292.1L164.2,293.7M164.2,293.7L161.9,294.4M164.9,291.4L166.9,289.9M166.9,289.9L168.0,290.5M166.9,289.9L167.2,287.5M167.2,287.5L168.3,287.1M179.4,277.6L177.3,278.4M177.3,278.4L176.7,280.4M176.7,280.4L177.5,281.2M176.7,280.4L175.4,280.5M175.4,280.5L174.0,279.1M164.8,281.1L165.9,282.1M165.9,282.1L165.5,283.3M165.9,282.1L167.7,280.9M167.7,280.9L167.6,279.7M167.0,272.8L168.7,272.2M168.7,272.2L168.4,270.9M168.4,270.9L169.3,269.9M169.3,269.9L171.3,270.9M167.6,283.6L167.1,282.1M167.1,282.1L164.7,281.3M173.8,297.5L175.8,297.9M175.8,297.9L176.2,299.3M176.2,299.3L174.3,300.2M157.4,297.5L159.0,295.4M159.0,295.4L160.2,295.5M159.0,295.4L161.0,296.6M171.6,304.6L172.5,302.1M172.5,302.1L170.6,300.9M166.5,294.3L165.4,293.6M165.4,293.6L164.1,294.9M164.1,294.9L162.5,294.9M172.9,290.9L174.2,290.0M174.2,290.0L175.6,290.8M175.6,290.8L176.7,290.2M180.8,302.2L183.3,302.7M183.3,302.7L184.6,301.6M164.5,277.0L164.2,278.8M164.2,278.8L165.2,279.8M165.2,279.8L164.2,281.0M154.0,285.7L155.3,287.4M155.3,287.4L157.3,287.1M157.3,287.1L158.2,285.7M172.4,286.5L172.6,288.4M172.6,288.4L173.7,288.6M172.6,288.4L171.3,289.3M171.3,289.3L169.3,287.9M169.3,287.9L169.4,286.7M169.3,287.9L169.2,286.3M166.1,285.0L164.6,283.4M164.6,283.4L163.3,283.8M179.8,300.9L180.4,299.1M180.4,299.1L181.9,298.6M181.9,298.6L183.0,300.0M183.0,300.0L184.7,300.0M169.1,282.0L170.3,283.2M170.3,283.2L169.8,284.3M170.3,283.2L169.1,284.7M169.1,284.7L167.4,283.9M170.3,268.6L170.6,270.2M170.6,270.2L169.6,270.9M170.6,270.2L172.5,271.2M172.5,271.2L174.8,270.6M174.8,270.6L175.5,271.6M174.8,270.6L174.9,269.1M187.4,292.0L186.9,293.8M186.9,293.8L185.8,294.2M186.9,293.8L184.9,294.2M178.8,278.8L178.4,276.8M178.4,276.8L176.7,275.6M176.7,275.6L175.7,276.3M176.7,275.6L175.3,276.3M157.1,277.0L155.8,277.5M155.8,277.5L154.2,276.9M154.2,276.9L152.5,278.1M161.9,287.3L161.4,285.8M161.4,285.8L162.4,284.8M162.4,284.8L161.2,283.2M182.0,278.3L182.0,276.4M182.0,276.4L180.2,276.2M180.2,276.2L179.5,277.8M179.5,277.8L178.3,277.7M179.5,277.8L180.5,279.0M180.5,279.0L180.1,280.2M186.7,289.1L188.6,289.9M188.6,289.9L188.3,291.2M188.3,291.2L189.1,292.1M188.3,291.2L185.9,291.3M156.3,293.9L155.3,293.1M155.3,293.1L156.1,291.7M156.1,291.7L157.6,291.4M157.3,284.9L157.1,286.7M157.1,286.7L158.2,287.1M157.1,286.7L155.5,287.0M155.5,287.0L154.9,285.9M155.5,287.0L154.3,286.0M154.3,286.0L153.1,286.2M180.7,302.1L179.5,303.9M179.5,303.9L178.3,303.8M179.5,303.9L177.3,304.4M171.4,273.2L171.1,275.4M171.1,275.4L170.0,275.9M171.1,275.4L172.8,275.9M172.8,275.9L173.7,275.0M183.3,299.7L184.4,300.5M184.4,300.5L185.5,300.2M184.4,300.5L186.1,300.2M186.1,300.2L186.5,298.4M186.5,298.4L185.6,296.7M174.5,290.6L172.6,291.6M172.6,291.6L171.8,290.5M171.8,290.5L170.6,290.6M171.8,290.5L172.6,288.1M172.6,288.1L171.6,286.8M160.2,282.1L157.7,282.2M157.7,282.2L157.4,283.4M157.7,282.2L156.3,280.5M184.6,299.3L184.9,301.3M184.9,301.3L186.6,302.1M186.6,302.1L188.6,300.7M188.6,300.7L189.6,301.4M188.6,300.7L189.9,302.0M163.9,291.7L165.2,293.9M165.2,293.9L164.6,295.4M164.6,295.4L163.4,295.3M164.6,295.4L165.3,296.8M165.4,290.3L167.0,289.7M167.0,289.7L167.7,290.6M167.0,289.7L169.1,290.6M157.9,295.5L156.6,294.4M156.6,294.4L157.3,292.5M157.3,292.5L158.5,292.6M157.3,292.5L155.7,291.2M164.0,302.3L161.4,302.1M161.4,302.1L160.9,303.1M161.4,302.1L161.2,300.8M154.8,281.2L154.4,279.9M154.4,279.9L156.6,278.6M156.6,278.6L157.6,279.2M156.6,278.6L158.2,280.2M158.2,280.2L159.3,279.8M166.0,277.1L165.1,275.3M165.1,275.3L165.7,273.6M165.7,273.6L166.9,273.5M165.7,273.6L167.1,273.7M170.8,303.3L171.0,305.8M171.0,305.8L172.5,306.7M172.5,306.7L173.5,306.0M172.5,306.7L173.8,305.3M173.4,281.6L171.2,282.1M171.2,282.1L171.0,283.2M171.2,282.1L170.4,283.4M170.4,283.4L168.3,284.0M168.3,284.0L168.4,285.6M157.2,280.0L155.5,279.1M155.5,279.1L155.2,276.7M155.2,276.7L154.0,276.5M155.2,276.7L156.5,274.8M156.5,274.8L157.7,275.1M184.4,299.3L183.9,301.6M183.9,301.6L182.2,302.1M182.2,302.1L181.0,300.2M181.0,300.2L181.6,299.1M159.6,278.3L161.7,278.3M161.7,278.3L162.3,279.4M161.7,278.3L163.0,276.9M163.0,276.9L162.9,274.6M184.6,279.0L185.1,280.4M185.1,280.4L184.2,281.2M185.1,280.4L187.1,281.0M187.1,281.0L188.2,279.0M158.9,292.0L158.6,289.8M158.6,289.8L157.5,289.3M158.6,289.8L160.8,289.0M160.8,289.0L160.8,287.0M160.8,287.0L161.8,286.4M176.2,270.8L177.8,270.6M177.8,270.6L178.2,271.8M178.2,271.8L179.4,271.8M178.2,271.8L177.2,274.0M179.4,298.7L181.3,299.2M181.3,299.2L182.4,301.2M182.4,301.2L183.6,301.1M158.6,284.5L160.3,284.0M160.3,284.0L161.9,284.7M161.9,284.7L162.5,286.9M162.5,286.9L164.5,286.9M164.5,286.9L165.0,285.9M160.8,276.8L161.8,274.4M161.8,274.4L161.1,273.0M161.1,273.0L163.0,271.3M183.1,292.6L183.0,291.2M183.0,291.2L184.7,289.6M184.7,289.6L184.9,287.1M184.9,287.1L186.1,286.9M161.0,272.0L159.5,271.9M159.5,271.9L158.2,270.0M174.4,273.0L175.6,270.8M175.6,270.8L177.7,271.3M177.7,271.3L179.3,270.1M179.3,270.1L180.4,270.6M182.4,298.0L183.8,299.1M183.8,299.1L184.9,298.6M183.8,299.1L186.1,298.4M186.1,298.4L187.6,299.1M187.6,299.1L187.6,300.4M161.2,281.0L163.2,281.1M163.2,281.1L163.7,283.5M163.7,283.5L165.9,283.7M171.4,295.6L169.6,297.1M169.6,297.1L170.1,298.6M170.1,298.6L171.2,298.9M170.1,298.6L168.0,300.2M168.0,300.2L166.9,299.8M168.0,300.2L167.0,299.2M160.4,277.0L159.1,278.6M159.1,278.6L159.4,280.4M159.4,280.4L158.6,281.3M159.4,280.4L157.9,282.3M162.4,279.5L163.6,279.0M163.6,279.0L164.5,277.1M164.5,277.1L166.2,277.3M167.2,281.6L168.7,282.1M168.7,282.1L168.3,284.0M168.3,284.0L169.1,285.2M169.1,285.2L168.5,287.0M162.0,279.4L162.9,278.4M162.9,278.4L164.0,278.7M162.9,278.4L162.5,276.8M162.5,276.8L163.5,276.0M163.5,276.0L163.4,274.3M168.9,279.0L170.5,279.7M170.5,279.7L170.4,280.9M170.5,279.7L171.6,278.6M171.6,278.6L172.9,278.8M171.9,290.0L173.8,289.1M173.8,289.1L173.8,287.9M173.8,289.1L173.9,287.6M169.7,290.2L168.3,290.4M168.3,290.4L167.0,291.9M167.0,291.9L167.8,293.6M167.8,293.6L169.0,293.6M175.4,276.5L174.2,278.7M174.2,278.7L174.7,280.6M174.7,280.6L173.7,281.2M174.7,280.6L173.3,281.6M169.6,280.9L171.1,280.5M171.1,280.5L172.5,282.1M172.5,282.1L175.0,282.3M158.6,282.7L156.9,280.9M156.9,280.9L155.3,282.2M155.3,282.2L154.2,281.6M167.6,292.8L166.4,293.5M166.4,293.5L164.3,292.2M164.3,292.2L164.5,291.0M164.3,292.2L164.4,290.8M172.8,279.6L173.0,277.9M173.0,277.9L172.1,276.9M172.1,276.9L172.4,275.7M172.1,276.9L172.4,274.5M173.4,274.4L174.6,273.2M174.6,273.2L174.8,270.9M178.7,281.9L177.4,280.3M177.4,280.3L178.7,279.0M178.7,279.0L180.7,280.4M180.7,280.4L182.9,279.5M163.6,279.7L164.3,278.4M164.3,278.4L163.8,277.4M164.3,278.4L163.2,277.5M163.2,277.5L163.4,276.3M163.2,277.5L163.2,275.5M163.2,275.5L164.3,274.9M174.7,276.9L176.2,277.7M176.2,277.7L178.0,276.4M178.0,276.4L178.0,274.8M165.8,289.2L164.2,289.1M164.2,289.1L163.4,287.9M163.4,287.9L164.3,285.7M159.4,279.6L158.8,278.3M158.8,278.3L159.7,276.8M159.7,276.8L158.2,275.7M172.8,294.1L173.6,291.9M173.6,291.9L175.2,291.8M169.8,278.9L168.5,281.0M168.5,281.0L166.8,280.7M166.8,280.7L165.7,282.6M176.8,281.6L177.6,282.9M177.6,282.9L177.0,283.9M177.6,282.9L176.5,284.9M176.5,284.9L175.2,285.2M175.2,285.2L174.5,284.2M175.2,285.2L174.4,284.1M168.1,272.8L169.5,274.1M169.5,274.1L171.6,272.6M171.6,272.6L173.5,273.4M179.1,281.7L177.3,283.3M177.3,283.3L176.3,282.6M177.3,283.3L178.0,285.4M176.3,283.0L175.0,283.5M175.0,283.5L173.7,281.7M173.7,281.7L171.5,282.7M171.5,282.7L170.6,281.9M169.3,286.0L171.4,285.2M171.4,285.2L172.8,286.6M174.7,293.2L175.1,294.5M175.1,294.5L176.4,295.2M176.4,295.2L177.7,294.0M170.4,293.1L167.9,292.8M167.9,292.8L167.5,294.0M167.5,294.0L166.1,294.2M169.6,285.8L170.0,287.6M170.0,287.6L169.0,288.3M170.0,287.6L169.1,288.6M169.1,288.6L166.9,288.6M164.2,284.4L165.1,286.3M165.1,286.3L166.8,286.3M166.8,286.3L167.6,287.8M167.6,287.8L168.9,288.2M168.5,293.4L168.2,291.4M168.2,291.4L169.6,290.7M169.6,290.7L170.5,291.4M169.6,290.7L171.2,291.6M163.1,288.3L161.2,287.8M161.2,287.8L161.3,285.2M161.3,285.2L160.2,284.7M161.3,285.2L163.4,284.9M163.4,284.9L163.9,282.6M169.6,283.1L169.7,284.5M169.7,284.5L168.8,285.3M169.7,284.5L171.7,285.6M171.7,285.6L170.8,288.0M170.8,288.0L169.6,288.3M176.0,287.8L177.3,288.2M177.3,288.2L177.5,289.4M177.3,288.2L178.0,290.0M178.0,290.0L177.2,290.8M178.0,290.0L177.3,292.0M177.3,292.0L176.1,292.1M173.5,274.0L174.7,273.3M174.7,273.3L174.5,272.1M174.7,273.3L175.8,274.1M175.8,274.1L176.9,273.7M175.8,274.1L177.1,272.9M180.6,286.2L181.9,287.4M181.9,287.4L180.7,289.2M180.7,289.2L178.3,288.8M178.3,288.8L177.9,287.7M178.3,288.8L176.6,290.1M172.8,280.9L171.4,280.3M171.4,280.3L171.2,278.9M171.2,278.9L169.8,278.8M169.8,278.8L169.4,279.9M169.8,278.8L168.6,280.1M176.3,280.3L177.4,279.2M177.4,279.2L177.1,278.1M177.4,279.2L178.9,279.3M178.9,279.3L179.7,278.4M178.9,279.3L179.3,280.8M168.7,272.5L170.2,272.2M170.2,272.2L171.0,270.2M171.0,270.2L170.1,268.5M173.7,294.3L174.0,295.8M174.0,295.8L173.1,296.9M180.2,283.5L179.2,284.5M179.2,284.5L179.8,285.6M179.2,284.5L179.5,286.2M179.5,286.2L181.4,287.2M181.4,287.2L182.3,286.3M170.6,281.6L172.6,281.0M172.6,281.0L173.4,283.3M173.4,283.3L174.7,283.7M174.7,283.7L174.2,285.8M174.2,285.8L173.1,286.2M166.3,292.8L166.3,290.7M166.3,290.7L168.7,290.3M168.7,290.3L168.9,289.1M168.7,290.3L168.6,288.6M168.6,288.6L166.8,287.4M166.8,287.4L166.9,286.2M171.3,278.5L171.4,276.3M171.4,276.3L170.2,275.5M170.2,275.5L170.1,274.3M165.0,273.6L163.7,273.2M163.7,273.2L163.5,272.0M163.7,273.2L163.1,271.5M163.1,271.5L162.0,271.2M163.1,271.5L164.8,270.3M164.8,270.3L164.6,269.1M164.8,270.3L166.1,270.9M166.1,270.9L165.9,272.1M164.5,288.9L165.6,287.9M165.6,287.9L165.7,286.1M165.7,286.1L164.4,285.5M172.3,280.4L170.4,280.1M170.4,280.1L169.3,278.4M169.3,278.4L168.1,278.3M169.3,278.4L171.1,276.9M168.1,275.1L169.2,273.2M169.2,273.2L168.1,271.6M163.5,276.9L161.4,277.7M161.4,277.7L160.3,276.4M160.3,276.4L159.1,276.7M176.2,276.5L176.7,274.5M176.7,274.5L178.1,273.6M178.1,273.6L178.1,272.4M164.0,275.6L162.5,274.0M162.5,274.0L163.1,272.9M163.1,272.9L164.3,273.1M172.6,282.8L174.4,281.9M174.4,281.9L175.3,279.6M175.3,279.6L177.1,279.6M160.9,290.0L160.8,288.2M160.8,288.2L158.9,287.2M158.9,287.2L159.1,286.0M158.9,287.2L157.1,287.8M164.5,276.6L163.2,276.3M163.2,276.3L162.8,274.4M162.8,274.4L163.7,273.6M162.8,274.4L164.1,273.3M168.9,290.4L168.6,292.0M168.6,292.0L167.5,292.2M168.6,292.0L169.9,293.2M169.9,293.2L169.0,295.1M169.3,280.6L170.7,280.1M170.7,280.1L170.6,277.6M170.6,277.6L168.9,277.3M168.9,277.3L168.5,276.2M165.1,280.8L166.2,281.7M166.2,281.7L167.5,281.4M167.5,281.4L168.4,282.1M167.5,281.4L168.6,282.3M168.6,282.3L168.4,283.5M169.9,278.8L171.6,278.5M171.6,278.5L172.2,279.5M171.6,278.5L171.5,276.5M171.5,276.5L170.3,275.5M170.3,275.5L169.2,275.9M168.2,294.9L168.7,293.5M168.7,293.5L166.7,292.4M166.7,292.4L165.6,292.9M175.1,274.1L174.6,276.0M174.6,276.0L172.5,277.1M172.5,277.1L170.7,276.4M174.3,281.7L174.5,279.2M174.5,279.2L176.8,278.4M176.8,278.4L177.8,279.2M177.8,279.2L177.4,280.7M177.4,280.7L178.4,281.4M164.0,284.0L163.0,285.0M163.0,285.0L163.4,286.1M163.0,285.0L164.6,287.0M164.6,287.0L165.7,286.8M164.6,287.0L164.2,288.4M159.1,282.7L160.1,280.6M160.1,280.6L161.3,280.6M160.1,280.6L161.6,280.4M173.1,286.3L172.0,284.0M172.0,284.0L169.7,284.2M169.7,284.2L169.1,283.1M169.7,284.2L168.4,282.5M166.2,295.4L165.2,296.8M165.2,296.8L163.4,296.6M163.4,296.6L161.8,298.2M165.2,276.0L165.9,277.9M165.9,277.9L167.1,277.9M165.9,277.9L167.4,277.6M167.4,277.6L167.5,276.2M167.5,276.2L166.4,275.7M167.7,295.4L165.6,296.1M165.6,296.1L164.8,294.7M175.0,277.0L173.7,274.9M173.7,274.9L172.5,275.0M173.7,274.9L174.9,273.3M174.9,273.3L173.7,272.3M167.4,279.2L168.8,279.0M168.8,279.0L170.1,280.4M170.1,280.4L169.8,281.5M170.1,280.4L172.0,278.9M172.0,278.9L171.9,277.7M164.8,283.6L164.0,281.9M164.0,281.9L162.8,281.9M164.0,281.9L161.6,282.0M161.6,282.0L160.8,283.3M165.3,288.6L165.2,290.5M165.2,290.5L163.4,290.9M164.7,293.6L167.1,293.3M167.1,293.3L168.0,294.1M167.1,293.3L167.9,290.8M167.9,290.8L169.5,290.5M164.6,279.1L162.9,279.1M162.9,279.1L162.3,277.4M162.3,277.4L160.5,276.6M187.3,298.4L184.9,298.7M184.9,298.7L184.0,297.0M179.7,302.6L178.1,300.7M178.1,300.7L177.0,301.0M178.1,300.7L175.9,301.0M175.9,301.0L175.3,299.9M186.7,292.7L188.8,291.7M188.8,291.7L188.6,289.9M188.6,289.9L186.3,288.8M186.3,288.8L186.2,287.6M175.0,296.9L174.4,298.2M174.4,298.2L175.4,300.0M175.4,300.0L177.5,299.0M177.5,299.0L179.1,300.2M188.6,295.2L189.7,296.1M189.7,296.1L189.4,297.3M189.7,296.1L189.5,298.4M189.5,298.4L188.4,298.8M189.5,298.4L191.5,299.0M191.5,299.0L191.3,300.7M191.3,300.7L190.2,301.3M179.6,298.2L178.2,296.2M178.2,296.2L178.4,294.9M178.4,294.9L180.5,294.4M180.5,294.4L180.5,292.9M174.6,298.0L173.0,299.1M173.0,299.1L172.0,298.4M173.0,299.1L172.8,301.2M172.8,301.2L171.7,301.6M188.1,293.3L189.3,291.4M189.3,291.4L188.7,289.4M188.7,289.4L187.5,289.4M188.7,289.4L189.9,288.6M182.9,299.3L183.7,296.8M183.7,296.8L184.9,296.6M183.7,296.8L182.9,295.7M188.0,288.8L187.8,287.3M187.8,287.3L189.9,286.8M189.9,286.8L190.8,287.5M180.4,292.7L180.2,294.2M180.2,294.2L181.1,295.0M180.2,294.2L181.7,295.2M181.7,295.2L182.8,294.7M181.7,295.2L183.7,294.6M183.7,294.6L183.7,292.7M187.0,299.2L186.5,297.9M186.5,297.9L185.0,297.8M188.3,291.0L186.1,291.4M186.1,291.4L186.2,293.8M186.2,293.8L185.1,294.2M186.2,293.8L184.1,295.0M181.1,299.3L179.8,300.0M179.8,300.0L180.4,301.7M180.4,301.7L178.7,303.1M178.3,292.5L180.1,292.4M180.1,292.4L180.3,290.9M180.3,290.9L182.5,290.7M182.5,290.7L183.0,289.7M181.1,295.3L179.0,296.2M179.0,296.2L179.0,297.4M179.0,296.2L178.1,295.3M186.5,288.8L187.2,291.1M187.2,291.1L186.4,292.0M187.2,291.1L186.3,292.7M186.3,292.7L185.1,292.9M186.3,292.7L183.9,291.9M179.2,302.4L177.6,303.6M177.6,303.6L175.5,302.9M182.3,290.7L183.5,292.2M183.5,292.2L186.1,292.6M186.1,292.6L186.7,290.6M177.8,298.2L176.7,300.2M176.7,300.2L175.0,300.3M178.2,291.8L176.7,293.1M176.7,293.1L175.3,292.7M175.3,292.7L174.5,291.0M174.5,291.0L172.3,291.3M172.3,291.3L172.1,292.5M176.4,299.3L176.1,301.7M176.1,301.7L177.4,302.3M177.4,302.3L176.9,304.5M176.9,304.5L175.6,304.8M175.6,304.8L175.3,306.0M184.9,291.1L183.5,289.1M183.5,289.1L184.7,287.0M184.7,287.0L183.2,285.2M183.2,285.2L183.8,284.2M175.4,295.0L174.0,293.3M174.0,293.3L171.7,293.6M171.7,293.6L171.2,295.2M177.6,297.0L179.1,297.2M179.1,297.2L180.0,296.1M180.0,296.1L179.6,294.9M185.5,289.3L186.1,287.9M186.1,287.9L184.3,287.0M184.3,287.0L184.2,285.8M186.6,299.4L188.8,300.4M188.8,300.4L188.8,302.7M188.8,302.7L189.8,303.3M188.8,302.7L190.8,303.6M186.0,296.0L187.5,296.4M187.5,296.4L186.2,297.2M187.5,296.4L188.1,297.6M187.5,296.4L189.2,296.1M189.2,296.1L190.1,297.3M189.2,296.1L189.8,295.0M189.2,296.1L192.3,297.6M192.3,297.6L193.6,298.3M192.3,297.6L193.5,297.2M192.0,297.5L194.7,298.5M194.7,298.5L193.8,299.7M194.7,298.5L195.6,298.4M195.6,298.4L194.1,298.1M195.6,298.4L197.2,298.0M197.2,298.0L196.9,299.5M198.0,298.5L199.5,298.2M199.5,298.2L198.0,298.2M199.5,298.2L201.5,298.0M201.5,298.0L200.1,297.3M201.5,298.0L204.1,298.4M204.1,298.4L205.1,299.4M204.1,298.4L203.2,297.4M204.1,298.4L205.9,298.7M205.9,298.7L205.7,297.2M205.5,298.0L205.2,299.6M205.2,299.6L203.9,298.9M205.2,299.6L204.5,300.7M205.2,299.6L204.0,302.8M204.0,302.8L205.5,302.5M204.0,302.8L202.7,302.7M204.0,302.8L203.2,304.6M203.2,304.6L203.1,306.1M204.0,304.0L202.9,306.0M202.9,306.0L202.3,304.6M202.9,306.0L203.4,308.4M203.4,308.4L201.9,308.6M203.4,308.4L202.4,309.2M203.4,308.4L201.9,310.6M201.9,310.6L203.4,310.9M201.9,310.6L201.5,309.4M202.0,310.0L200.6,312.5M200.6,312.5L199.7,313.7M200.6,312.5L200.2,314.5M200.2,314.5L201.1,313.3M200.2,314.5L199.0,314.0M200.2,314.5L200.5,316.8M200.5,316.8L199.2,316.1M200.0,316.0L200.0,318.8M200.0,318.8L200.5,320.3M200.0,318.8L199.1,318.0M200.0,318.8L198.9,319.3M198.9,319.3L197.5,318.6M198.9,319.3L198.1,321.4M198.1,321.4L197.5,322.8" stroke="#46b868" stroke-width="0.38" stroke-linecap="round" fill="none" opacity="0.85"/>
<text y="328.7" font-family="Liberation Sans,sans-serif" font-size="3.6" fill="#777"><tspan x="18.6">‹</tspan><tspan x="24.2">1</tspan><tspan x="30.3" fill="#222" font-weight="bold">2</tspan><tspan x="36.2">3</tspan><tspan x="42.2">4</tspan><tspan x="48.2">5</tspan><tspan x="54.6">›</tspan><tspan x="60.8">Go to</tspan><tspan x="73.6">1</tspan></text>
</g>
<g id="panelD">
<text x="253.2" y="191.7" font-family="Liberation Sans,sans-serif" font-weight="bold" font-size="10.4">D</text>
<path d="M329.9,190.1l-5,-9M326.0,192.3l-5,-9" stroke="#cfc6c6" stroke-width="0.5" fill="none"/>
<path d="M443.3,192.8l9,-9M440.1,189.6l9,-9" stroke="#cfc6c6" stroke-width="0.5" fill="none"/>
<path d="M418.6,317.2l3,16M422.9,316.4l3,16" stroke="#cfc6c6" stroke-width="0.5" fill="none"/>
<path d="M348.9,322.2l-4,14M353.1,323.4l-4,14" stroke="#cfc6c6" stroke-width="0.5" fill="none"/>
<path d="M291.9,276.5l-12,5M293.6,280.5l-12,5" stroke="#cfc6c6" stroke-width="0.5" fill="none"/>
<path d="M487,217.6L475,218.4Q470,219 470,224.5V268.5Q470,275.4 476.5,276.2L483.5,277.2" stroke="#cfc6c6" stroke-width="0.7" fill="none"/>
<path d="M448.5,186L467.2,210.6Q469.2,213.6 473.5,213.9L487,213.4" stroke="#cfc6c6" stroke-width="0.7" fill="none"/>
<path d="M483.5,281L477,280.4Q472,280.6 468.6,284L430,323.5" stroke="#cfc6c6" stroke-width="0.7" fill="none"/>
<path d="M382.8,321.5v11M385.6,321.5v11" stroke="#cfc6c6" stroke-width="0.5" fill="none"/>
<path d="M325.7,196.8Q328.0,191.2 334.0,191.2L435.7,191.2Q441.7,191.2 445.3,196.0L465.1,222.3Q468.7,227.1 468.5,233.1L467.6,263.0Q467.4,269.0 463.2,273.3L424.9,312.5Q420.7,316.8 414.8,317.3L357.0,322.3Q351.0,322.8 346.2,319.1L297.5,282.1Q292.7,278.5 295.0,272.9Z" fill="#fff" stroke="#cfc6c6" stroke-width="0.7"/>
<path d="M328.4,200.8Q330.7,195.2 336.7,195.2L433.7,195.2Q439.7,195.2 443.3,200.0L461.0,223.6Q464.6,228.4 464.4,234.4L463.7,261.3Q463.5,267.3 459.3,271.6L423.1,308.6Q418.9,312.9 412.9,313.4L358.2,318.1Q352.2,318.7 347.4,315.0L302.4,280.8Q297.6,277.2 299.8,271.6Z" fill="#fff" stroke="#cfc6c6" stroke-width="0.7"/>
<path d="M329.9,202.3Q332.0,197.2 337.5,197.2L433.2,197.2Q438.7,197.2 442.0,201.6L459.3,224.6Q462.6,229.0 462.4,234.5L461.7,261.0Q461.5,266.5 457.7,270.4L421.8,307.1Q418.0,311.0 412.5,311.5L358.3,316.1Q352.8,316.6 348.4,313.3L304.4,279.8Q300.0,276.5 302.1,271.4Z" fill="#5cae62"/>
<path d="M349.8,219.9C352.7,218.0 355.7,216.3 359.0,215.3C362.3,214.3 366.2,213.8 369.7,213.7C373.2,213.6 377.1,214.0 380.0,214.8C382.9,215.6 385.5,216.7 387.0,218.6C388.5,220.5 389.2,223.6 389.0,226.5C388.8,229.4 387.2,232.7 386.0,236.0C384.8,239.3 382.7,242.9 381.8,246.4C380.9,249.9 380.6,253.1 380.6,257.0C380.6,260.9 381.5,265.6 381.6,270.0C381.7,274.4 381.9,280.2 381.0,283.5C380.1,286.8 378.4,288.6 376.5,290.0C374.6,291.4 372.2,292.1 369.5,292.2C366.8,292.3 363.0,291.6 360.0,290.5C357.0,289.4 354.5,287.9 351.5,285.6C348.5,283.3 344.8,280.0 342.0,276.8C339.2,273.6 336.5,270.2 334.9,266.2C333.3,262.2 332.3,257.7 332.4,253.0C332.5,248.3 334.0,242.3 335.5,238.0C337.0,233.7 339.1,230.0 341.5,227.0C343.9,224.0 346.9,221.8 349.8,219.9Z" fill="#fff" stroke="#3f8f48" stroke-width="0.9"/>
<g transform="translate(346.7,215.5) rotate(-35)"><rect x="-12.2" y="-3.8" width="24.4" height="7.6" rx="3.8" fill="#fff" stroke="#d9e6d9" stroke-width="0.4"/><path d="M-8.4,0l0.65,-2.13l0.65,2.13l0.65,2.13l0.65,-2.13l0.65,-2.13l0.65,2.13l0.65,2.13l0.65,-2.13l0.65,-2.13l0.65,2.13l0.65,2.13l0.65,-2.13l0.65,-2.13l0.65,2.13l0.65,2.13l0.65,-2.13l0.65,-2.13l0.65,2.13l0.65,2.13l0.65,-2.13l0.65,-2.13l0.65,2.13l0.65,2.13l0.65,-2.13" stroke="#c9bcc6" stroke-width="0.55" fill="none"/></g>
<g transform="translate(398.7,208.1) rotate(18)"><rect x="-12.75" y="-4.1" width="25.5" height="8.2" rx="4.1" fill="#fff" stroke="#d9e6d9" stroke-width="0.4"/><path d="M-8.7,0l0.65,-2.30l0.65,2.30l0.65,2.30l0.65,-2.30l0.65,-2.30l0.65,2.30l0.65,2.30l0.65,-2.30l0.65,-2.30l0.65,2.30l0.65,2.30l0.65,-2.30l0.65,-2.30l0.65,2.30l0.65,2.30l0.65,-2.30l0.65,-2.30l0.65,2.30l0.65,2.30l0.65,-2.30l0.65,-2.30l0.65,2.30l0.65,2.30l0.65,-2.30l0.65,-2.30l0.65,2.30" stroke="#c9bcc6" stroke-width="0.55" fill="none"/></g>
<g transform="translate(451.3,235.1) rotate(64)"><rect x="-11.25" y="-3.45" width="22.5" height="6.9" rx="3.45" fill="#fff" stroke="#d9e6d9" stroke-width="0.4"/><path d="M-7.8,0l0.65,-1.93l0.65,1.93l0.65,1.93l0.65,-1.93l0.65,-1.93l0.65,1.93l0.65,1.93l0.65,-1.93l0.65,-1.93l0.65,1.93l0.65,1.93l0.65,-1.93l0.65,-1.93l0.65,1.93l0.65,1.93l0.65,-1.93l0.65,-1.93l0.65,1.93l0.65,1.93l0.65,-1.93l0.65,-1.93l0.65,1.93l0.65,1.93l0.65,-1.93" stroke="#c9bcc6" stroke-width="0.55" fill="none"/></g>
<path d="M423.3,206.5Q430.7,206.8 436.4,211.6M419.6,208.7Q429.5,207.0 435.6,215.0M416.5,210.8Q430.1,210.1 436.8,222.0M417.1,213.5Q429.6,214.3 434.4,225.8M417.8,216.2Q427.6,217.4 430.8,226.7M419.6,220.0Q422.5,219.8 424.5,221.8" stroke="#fff" stroke-width="2.1" stroke-linecap="round" fill="none"/>
<path d="M367.2,298.6Q374.4,298.1 379.5,292.9M366.6,302.3Q377.6,302.0 384.3,293.2M366.6,307.5Q380.1,307.3 387.3,295.9M373.1,309.4Q383.1,308.8 387.9,300.0M377.4,311.4Q384.5,310.1 388.5,304.2" stroke="#fff" stroke-width="2.2" stroke-linecap="round" fill="none"/>
<path d="M391.2,258.7A14.4,14.4 0 0 1 390.9,243.9M392.4,241.8A14.4,14.4 0 0 1 401.9,236.8M404.4,236.7A14.4,14.4 0 0 1 414.1,241.5M415.6,243.5A14.4,14.4 0 0 1 416.8,256.5M410.2,263.8A14.4,14.4 0 0 1 398.0,264.5M396.2,263.6A14.4,14.4 0 0 1 391.5,259.2M387.5,258.9A17.7,17.7 0 0 1 387.2,243.9M392.5,237.2A17.7,17.7 0 0 1 405.3,233.5M408.3,234.1A17.7,17.7 0 0 1 418.4,241.7M419.8,244.5A17.7,17.7 0 0 1 419.6,258.3M412.8,266.1A17.7,17.7 0 0 1 405.3,268.7M402.8,268.8A17.7,17.7 0 0 1 395.6,267.0M383.7,258.3A21.0,21.0 0 0 1 383.2,245.3M393.5,232.6A21.0,21.0 0 0 1 407.8,230.6M411.3,231.6A21.0,21.0 0 0 1 421.6,240.6M423.1,243.9A21.0,21.0 0 0 1 423.4,257.6M413.9,269.3A21.0,21.0 0 0 1 396.2,270.8M395.1,228.3A24.3,24.3 0 0 1 410.1,227.7M414.1,229.3A24.3,24.3 0 0 1 424.0,238.2M425.9,242.0A24.3,24.3 0 0 1 427.3,255.3M413.3,273.3A24.3,24.3 0 0 1 397.5,274.7M398.6,223.9A27.6,27.6 0 0 1 413.7,225.5M418.0,227.7A27.6,27.6 0 0 1 426.8,236.5" stroke="#fff" stroke-width="2.2" stroke-linecap="round" fill="none"/>
<circle cx="403.4" cy="251.1" r="11.9" fill="#fff" stroke="#cfd8cf" stroke-width="0.4"/><circle cx="403.4" cy="251.1" r="10.9" fill="#e9efe8" stroke="#aab3aa" stroke-width="0.6"/>
<circle cx="402.5" cy="253.4" r="3" fill="#eef3ee" stroke="#bcc6bc" stroke-width="0.5"/>
<g transform="translate(441.3,255) rotate(55)"><rect x="-12.0" y="-7.75" width="24" height="15.5" rx="7.75" fill="#1c873a" stroke="#3d9d50" stroke-width="1.0"/><path d="M-6.0,-2.3249999999999997h4.800000000000001M-1.2000000000000002,1.8599999999999999h6.0M2.4000000000000004,-3.1h3.5999999999999996" stroke="#17773a" stroke-width="0.8" fill="none"/></g>
<g transform="translate(419.3,285.2) rotate(-42)"><rect x="-14.0" y="-8.0" width="28" height="16" rx="8.0" fill="#1c873a" stroke="#3d9d50" stroke-width="1.0"/><path d="M-7.0,-2.4h5.6000000000000005M-1.4000000000000001,1.92h7.0M2.8000000000000003,-3.2h4.2" stroke="#17773a" stroke-width="0.8" fill="none"/></g>
<g transform="translate(349.6,296.9) rotate(24)"><rect x="-11.0" y="-7.0" width="22" height="14" rx="7.0" fill="#1c873a" stroke="#3d9d50" stroke-width="1.0"/><path d="M-5.5,-2.1h4.4M-1.1,1.68h5.5M2.2,-2.8000000000000003h3.3" stroke="#17773a" stroke-width="0.8" fill="none"/></g>
<circle cx="321.9" cy="265.8" r="2.9" fill="#fff"/>
<circle cx="395.9" cy="287.8" r="2.6" fill="#fff"/>
<circle cx="437.2" cy="237.4" r="1.5" fill="#fff"/>
<circle cx="365.5" cy="203.3" r="1.0" fill="#eef7ea"/><circle cx="361.3" cy="206.6" r="1.0" fill="#eef7ea"/><circle cx="370.3" cy="205.8" r="1.0" fill="#eef7ea"/><circle cx="364.5" cy="209.1" r="1.0" fill="#eef7ea"/><circle cx="367.8" cy="208.5" r="1.0" fill="#eef7ea"/>
<circle cx="324.7" cy="235.5" r="1.0" fill="#eef7ea"/><circle cx="321.6" cy="239.5" r="1.0" fill="#eef7ea"/><circle cx="327.9" cy="238.6" r="1.0" fill="#eef7ea"/><circle cx="324.7" cy="242.4" r="1.0" fill="#eef7ea"/><circle cx="320.8" cy="243.8" r="1.0" fill="#eef7ea"/><circle cx="325" cy="246.7" r="1.0" fill="#eef7ea"/><circle cx="328.5" cy="242.8" r="1.0" fill="#eef7ea"/>
<circle cx="436.5" cy="273.5" r="1.0" fill="#eef7ea"/><circle cx="439.5" cy="275.5" r="1.0" fill="#eef7ea"/><circle cx="442.5" cy="273.8" r="1.0" fill="#eef7ea"/><circle cx="438" cy="278.5" r="1.0" fill="#eef7ea"/><circle cx="441.5" cy="279.5" r="1.0" fill="#eef7ea"/><circle cx="444.5" cy="277" r="1.0" fill="#eef7ea"/>
<circle cx="396.5" cy="306.5" r="1.0" fill="#eef7ea"/><circle cx="399.5" cy="304" r="1.0" fill="#eef7ea"/><circle cx="402.5" cy="306.8" r="1.0" fill="#eef7ea"/><circle cx="405" cy="303.5" r="1.0" fill="#eef7ea"/><circle cx="400.5" cy="308.8" r="1.0" fill="#eef7ea"/><circle cx="407" cy="306.5" r="1.0" fill="#eef7ea"/>
<circle cx="389" cy="300.5" r="0.6" fill="#eef7ea"/><circle cx="383.5" cy="311.5" r="0.6" fill="#eef7ea"/>
<path d="M321.5,279l15,5.4M323,284.2l12.5,-5M326,277.6l8.5,8.2M327.5,285.6l6.5,-7.6M321,281.6l15,1M324,278.4l10,6.4" stroke="#bccdb8" stroke-width="0.5" fill="none"/>
<path d="M314.6,204.9L328.5,204.9M312.8,227.5L344.5,227.5M287.7,246.5L307.6,246.5M295.2,265.5L319,265.5M301,282.2L330.8,282.2M438.3,202L458.5,202M431.5,209.7L458.5,209.7M414.5,241.7L471.5,241.7M407,258.3L471.6,258.3M448.9,275.6L482.6,275.6M424.8,296L466,296" stroke="#4c4c4c" stroke-width="0.5" fill="none"/>
<text x="258.6" y="206.5" textLength="53.9" font-family="Liberation Sans,sans-serif" font-size="8" fill="#111" stroke="#111" stroke-width="0.16" lengthAdjust="spacingAndGlyphs">Plasma membrane</text>
<text x="257.5" y="229.2" textLength="55" font-family="Liberation Sans,sans-serif" font-size="8" fill="#111" stroke="#111" stroke-width="0.16" lengthAdjust="spacingAndGlyphs">Vacular membrane</text>
<text x="262" y="248.7" textLength="23.8" font-family="Liberation Sans,sans-serif" font-size="8" fill="#111" stroke="#111" stroke-width="0.16" lengthAdjust="spacingAndGlyphs">Cell wall</text>
<text x="260.2" y="267.7" textLength="32.8" font-family="Liberation Sans,sans-serif" font-size="8" fill="#111" stroke="#111" stroke-width="0.16" lengthAdjust="spacingAndGlyphs">Peroxisome</text>
<text x="262" y="283.0" textLength="37.8" font-family="Liberation Sans,sans-serif" font-size="8" fill="#111" stroke="#111" stroke-width="0.16" lengthAdjust="spacingAndGlyphs">Cytoskeleton</text>
<text x="466.2" y="203.9" textLength="44" font-family="Liberation Sans,sans-serif" font-size="8" fill="#111" stroke="#111" stroke-width="0.16" lengthAdjust="spacingAndGlyphs">Mitochondrion</text>
<text x="466.2" y="212.1" textLength="46.3" font-family="Liberation Sans,sans-serif" font-size="8" fill="#111" stroke="#111" stroke-width="0.16" lengthAdjust="spacingAndGlyphs">Golgi apparatus</text>
<text x="477.8" y="239.5" textLength="36.6" font-family="Liberation Sans,sans-serif" font-size="8" fill="#111" stroke="#111" stroke-width="0.16" lengthAdjust="spacingAndGlyphs">Endoplasmic</text>
<text x="477.8" y="247.8" textLength="27" font-family="Liberation Sans,sans-serif" font-size="8" fill="#111" stroke="#111" stroke-width="0.16" lengthAdjust="spacingAndGlyphs">reticulum</text>
<text x="479.3" y="259.6" textLength="23.6" font-family="Liberation Sans,sans-serif" font-size="8" fill="#111" stroke="#111" stroke-width="0.16" lengthAdjust="spacingAndGlyphs">Nucleus</text>
<text x="486" y="277.9" textLength="22.2" font-family="Liberation Sans,sans-serif" font-size="8" fill="#111" stroke="#111" stroke-width="0.16" lengthAdjust="spacingAndGlyphs">Cytosol</text>
<text x="473.6" y="298.2" textLength="32.7" font-family="Liberation Sans,sans-serif" font-size="8" fill="#111" stroke="#111" stroke-width="0.16" lengthAdjust="spacingAndGlyphs">Chloroplast</text>
</g>
</svg>
</body></html>
